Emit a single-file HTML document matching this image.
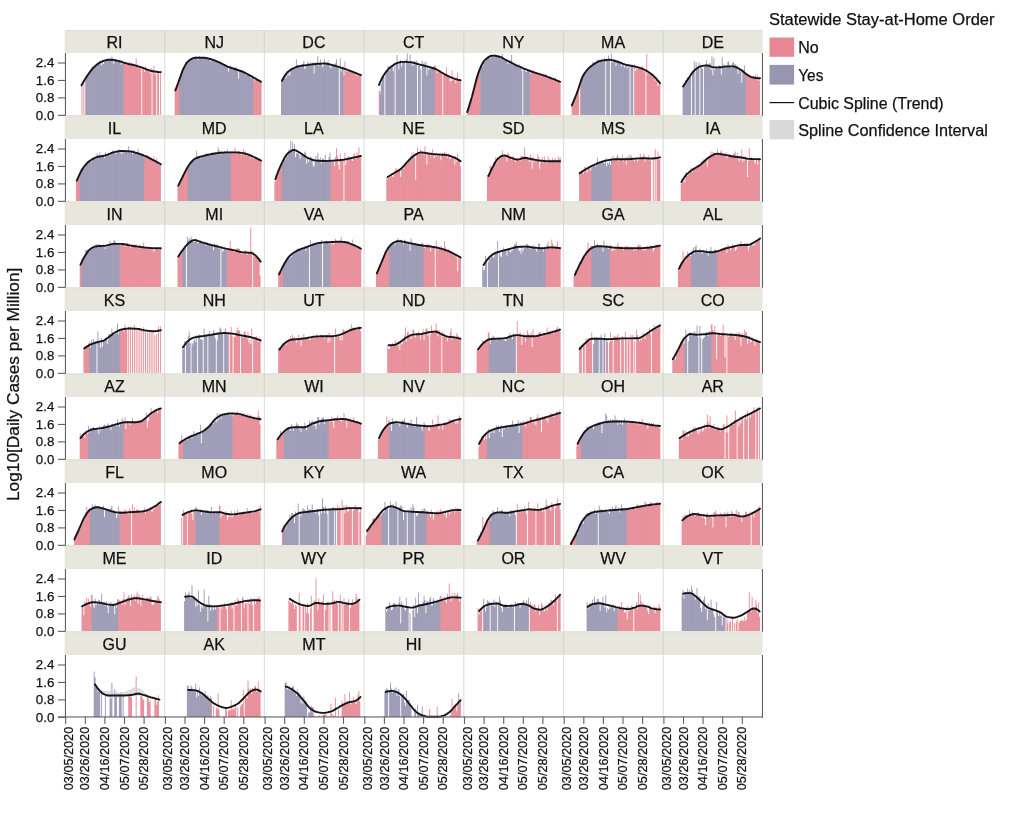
<!DOCTYPE html>
<html><head><meta charset="utf-8"><title>chart</title>
<style>html,body{margin:0;padding:0;background:#fff;}svg{display:block;will-change:transform;}</style></head>
<body>
<svg width="1024" height="816" viewBox="0 0 1024 816" font-family="Liberation Sans, sans-serif" stroke-linejoin="round">
<rect width="1024" height="816" fill="#ffffff"/>
<defs><pattern id="st0" patternUnits="userSpaceOnUse" x="65.700" y="0" width="2.8000" height="200"><rect x="-0.15" y="0" width="0.3" height="200" fill="#fff" fill-opacity="0.36"/><rect x="2.650" y="0" width="0.3" height="200" fill="#fff" fill-opacity="0.36"/><rect x="0.833" y="0" width="0.2" height="200" fill="#fff" fill-opacity="0.22"/><rect x="1.767" y="0" width="0.2" height="200" fill="#fff" fill-opacity="0.22"/></pattern><pattern id="st1" patternUnits="userSpaceOnUse" x="165.400" y="0" width="2.8000" height="200"><rect x="-0.15" y="0" width="0.3" height="200" fill="#fff" fill-opacity="0.36"/><rect x="2.650" y="0" width="0.3" height="200" fill="#fff" fill-opacity="0.36"/><rect x="0.833" y="0" width="0.2" height="200" fill="#fff" fill-opacity="0.22"/><rect x="1.767" y="0" width="0.2" height="200" fill="#fff" fill-opacity="0.22"/></pattern><pattern id="st2" patternUnits="userSpaceOnUse" x="265.100" y="0" width="2.8000" height="200"><rect x="-0.15" y="0" width="0.3" height="200" fill="#fff" fill-opacity="0.36"/><rect x="2.650" y="0" width="0.3" height="200" fill="#fff" fill-opacity="0.36"/><rect x="0.833" y="0" width="0.2" height="200" fill="#fff" fill-opacity="0.22"/><rect x="1.767" y="0" width="0.2" height="200" fill="#fff" fill-opacity="0.22"/></pattern><pattern id="st3" patternUnits="userSpaceOnUse" x="364.800" y="0" width="2.8000" height="200"><rect x="-0.15" y="0" width="0.3" height="200" fill="#fff" fill-opacity="0.36"/><rect x="2.650" y="0" width="0.3" height="200" fill="#fff" fill-opacity="0.36"/><rect x="0.833" y="0" width="0.2" height="200" fill="#fff" fill-opacity="0.22"/><rect x="1.767" y="0" width="0.2" height="200" fill="#fff" fill-opacity="0.22"/></pattern><pattern id="st4" patternUnits="userSpaceOnUse" x="464.500" y="0" width="2.8000" height="200"><rect x="-0.15" y="0" width="0.3" height="200" fill="#fff" fill-opacity="0.36"/><rect x="2.650" y="0" width="0.3" height="200" fill="#fff" fill-opacity="0.36"/><rect x="0.833" y="0" width="0.2" height="200" fill="#fff" fill-opacity="0.22"/><rect x="1.767" y="0" width="0.2" height="200" fill="#fff" fill-opacity="0.22"/></pattern><pattern id="st5" patternUnits="userSpaceOnUse" x="564.200" y="0" width="2.8000" height="200"><rect x="-0.15" y="0" width="0.3" height="200" fill="#fff" fill-opacity="0.36"/><rect x="2.650" y="0" width="0.3" height="200" fill="#fff" fill-opacity="0.36"/><rect x="0.833" y="0" width="0.2" height="200" fill="#fff" fill-opacity="0.22"/><rect x="1.767" y="0" width="0.2" height="200" fill="#fff" fill-opacity="0.22"/></pattern><pattern id="st6" patternUnits="userSpaceOnUse" x="663.900" y="0" width="2.8000" height="200"><rect x="-0.15" y="0" width="0.3" height="200" fill="#fff" fill-opacity="0.36"/><rect x="2.650" y="0" width="0.3" height="200" fill="#fff" fill-opacity="0.36"/><rect x="0.833" y="0" width="0.2" height="200" fill="#fff" fill-opacity="0.22"/><rect x="1.767" y="0" width="0.2" height="200" fill="#fff" fill-opacity="0.22"/></pattern></defs>
<rect x="64.6" y="30.05" width="697.9" height="22.85" fill="#e7e7de"/>
<rect x="64.6" y="30.05" width="697.9" height="1" fill="#dedfd6"/>
<rect x="64.6" y="115.35" width="697.9" height="23.55" fill="#e7e7de"/>
<rect x="64.6" y="115.35" width="697.9" height="1" fill="#dedfd6"/>
<rect x="64.6" y="201.35" width="697.9" height="23.55" fill="#e7e7de"/>
<rect x="64.6" y="201.35" width="697.9" height="1" fill="#dedfd6"/>
<rect x="64.6" y="287.35" width="697.9" height="23.55" fill="#e7e7de"/>
<rect x="64.6" y="287.35" width="697.9" height="1" fill="#dedfd6"/>
<rect x="64.6" y="373.35" width="697.9" height="23.55" fill="#e7e7de"/>
<rect x="64.6" y="373.35" width="697.9" height="1" fill="#dedfd6"/>
<rect x="64.6" y="459.35" width="697.9" height="23.55" fill="#e7e7de"/>
<rect x="64.6" y="459.35" width="697.9" height="1" fill="#dedfd6"/>
<rect x="64.6" y="545.35" width="697.9" height="23.55" fill="#e7e7de"/>
<rect x="64.6" y="545.35" width="697.9" height="1" fill="#dedfd6"/>
<rect x="64.6" y="631.35" width="697.9" height="23.55" fill="#e7e7de"/>
<rect x="64.6" y="631.35" width="697.9" height="1" fill="#dedfd6"/>
<rect x="164.1" y="30.0" width="1.2" height="688.0" fill="#dfe2e0"/>
<rect x="164.1" y="30.05" width="1.2" height="22.85" fill="#d8d8cf"/>
<rect x="164.1" y="115.35" width="1.2" height="23.55" fill="#d8d8cf"/>
<rect x="164.1" y="201.35" width="1.2" height="23.55" fill="#d8d8cf"/>
<rect x="164.1" y="287.35" width="1.2" height="23.55" fill="#d8d8cf"/>
<rect x="164.1" y="373.35" width="1.2" height="23.55" fill="#d8d8cf"/>
<rect x="164.1" y="459.35" width="1.2" height="23.55" fill="#d8d8cf"/>
<rect x="164.1" y="545.35" width="1.2" height="23.55" fill="#d8d8cf"/>
<rect x="164.1" y="631.35" width="1.2" height="23.55" fill="#d8d8cf"/>
<rect x="263.8" y="30.0" width="1.2" height="688.0" fill="#dfe2e0"/>
<rect x="263.8" y="30.05" width="1.2" height="22.85" fill="#d8d8cf"/>
<rect x="263.8" y="115.35" width="1.2" height="23.55" fill="#d8d8cf"/>
<rect x="263.8" y="201.35" width="1.2" height="23.55" fill="#d8d8cf"/>
<rect x="263.8" y="287.35" width="1.2" height="23.55" fill="#d8d8cf"/>
<rect x="263.8" y="373.35" width="1.2" height="23.55" fill="#d8d8cf"/>
<rect x="263.8" y="459.35" width="1.2" height="23.55" fill="#d8d8cf"/>
<rect x="263.8" y="545.35" width="1.2" height="23.55" fill="#d8d8cf"/>
<rect x="263.8" y="631.35" width="1.2" height="23.55" fill="#d8d8cf"/>
<rect x="363.5" y="30.0" width="1.2" height="688.0" fill="#dfe2e0"/>
<rect x="363.5" y="30.05" width="1.2" height="22.85" fill="#d8d8cf"/>
<rect x="363.5" y="115.35" width="1.2" height="23.55" fill="#d8d8cf"/>
<rect x="363.5" y="201.35" width="1.2" height="23.55" fill="#d8d8cf"/>
<rect x="363.5" y="287.35" width="1.2" height="23.55" fill="#d8d8cf"/>
<rect x="363.5" y="373.35" width="1.2" height="23.55" fill="#d8d8cf"/>
<rect x="363.5" y="459.35" width="1.2" height="23.55" fill="#d8d8cf"/>
<rect x="363.5" y="545.35" width="1.2" height="23.55" fill="#d8d8cf"/>
<rect x="363.5" y="631.35" width="1.2" height="23.55" fill="#d8d8cf"/>
<rect x="463.2" y="30.0" width="1.2" height="688.0" fill="#dfe2e0"/>
<rect x="463.2" y="30.05" width="1.2" height="22.85" fill="#d8d8cf"/>
<rect x="463.2" y="115.35" width="1.2" height="23.55" fill="#d8d8cf"/>
<rect x="463.2" y="201.35" width="1.2" height="23.55" fill="#d8d8cf"/>
<rect x="463.2" y="287.35" width="1.2" height="23.55" fill="#d8d8cf"/>
<rect x="463.2" y="373.35" width="1.2" height="23.55" fill="#d8d8cf"/>
<rect x="463.2" y="459.35" width="1.2" height="23.55" fill="#d8d8cf"/>
<rect x="463.2" y="545.35" width="1.2" height="23.55" fill="#d8d8cf"/>
<rect x="463.2" y="631.35" width="1.2" height="23.55" fill="#d8d8cf"/>
<rect x="562.9" y="30.0" width="1.2" height="688.0" fill="#dfe2e0"/>
<rect x="562.9" y="30.05" width="1.2" height="22.85" fill="#d8d8cf"/>
<rect x="562.9" y="115.35" width="1.2" height="23.55" fill="#d8d8cf"/>
<rect x="562.9" y="201.35" width="1.2" height="23.55" fill="#d8d8cf"/>
<rect x="562.9" y="287.35" width="1.2" height="23.55" fill="#d8d8cf"/>
<rect x="562.9" y="373.35" width="1.2" height="23.55" fill="#d8d8cf"/>
<rect x="562.9" y="459.35" width="1.2" height="23.55" fill="#d8d8cf"/>
<rect x="562.9" y="545.35" width="1.2" height="23.55" fill="#d8d8cf"/>
<rect x="562.9" y="631.35" width="1.2" height="23.55" fill="#d8d8cf"/>
<rect x="662.6" y="30.0" width="1.2" height="688.0" fill="#dfe2e0"/>
<rect x="662.6" y="30.05" width="1.2" height="22.85" fill="#d8d8cf"/>
<rect x="662.6" y="115.35" width="1.2" height="23.55" fill="#d8d8cf"/>
<rect x="662.6" y="201.35" width="1.2" height="23.55" fill="#d8d8cf"/>
<rect x="662.6" y="287.35" width="1.2" height="23.55" fill="#d8d8cf"/>
<rect x="662.6" y="373.35" width="1.2" height="23.55" fill="#d8d8cf"/>
<rect x="662.6" y="459.35" width="1.2" height="23.55" fill="#d8d8cf"/>
<rect x="662.6" y="545.35" width="1.2" height="23.55" fill="#d8d8cf"/>
<rect x="662.6" y="631.35" width="1.2" height="23.55" fill="#d8d8cf"/>
<g fill="#e68994"><path id="b00p" d="M81.57,115V84.1H82.50V115ZM83.43,115V79.9H84.37V115ZM122.87,115V62.9H124.50V63.0H125.43V63.3H126.37V62.7H127.30V64.6H128.23V62.7H129.17V61.8H130.10V64.7H131.03V62.7H131.97V64.4H132.90V64.3H133.83V65.3H134.77V65.1H135.70V58.2H136.63V66.2H137.57V64.4H138.50V68.2H139.43V66.6H140.37V68.6H141.30V115ZM142.23,115V69.2H143.17V66.5H144.10V71.7H145.03V66.4H145.97V69.4H146.90V69.8H147.83V69.0H148.77V71.2H149.70V73.6H150.63V67.8H151.57V115ZM152.50,115V69.7H153.43V65.4H154.37V74.2H155.30V73.5H156.23V115ZM157.17,115V71.8H158.10V72.0H159.03V115ZM159.97,115V71.5H160.90V115Z"/></g><use href="#b00p" fill="url(#st0)"/>
<g fill="#9996b2"><path id="b00u" d="M85.30,115V77.8H86.23V75.3H87.17V75.6H88.10V74.0H89.03V73.0H89.97V71.7H90.90V69.3H91.83V66.4H92.77V66.6H93.70V67.6H94.63V66.7H95.57V66.4H96.50V63.0H97.43V63.6H98.37V62.3H99.30V62.8H100.23V61.5H101.17V65.7H102.10V59.5H103.03V64.1H103.97V61.4H104.90V59.4H105.83V61.5H106.77V60.3H107.70V60.4H108.63V59.1H109.57V58.8H110.50V59.2H111.43V56.4H112.37V60.1H113.30V63.8H114.23V60.1H115.17V60.3H116.10V58.7H117.03V61.3H117.97V61.5H118.90V62.1H119.83V62.0H120.77V64.7H121.70V60.4H122.63V62.9H123.57V115Z"/></g><use href="#b00u" fill="url(#st0)"/>
<path d="M81.5,85.3L82.9,82.8L84.2,80.5L85.6,78.3L86.9,76.3L88.3,74.3L89.6,72.4L90.9,70.6L92.3,69.0L93.6,67.6L95.0,66.3L96.3,65.0L97.7,63.9L99.0,62.9L100.4,62.2L101.7,61.6L103.1,61.1L104.4,60.7L105.7,60.3L107.1,60.0L108.4,59.8L109.8,59.6L111.1,59.7L112.5,59.8L113.8,60.0L115.2,60.3L116.5,60.6L117.9,60.9L119.2,61.2L120.5,61.5L121.9,61.9L123.2,62.4L124.6,62.8L125.9,63.2L127.3,63.6L128.6,64.0L130.0,64.3L131.3,64.5L132.6,64.8L134.0,65.1L135.3,65.4L136.7,65.8L138.0,66.3L139.4,66.7L140.7,67.2L142.1,67.7L143.4,68.2L144.8,68.7L146.1,69.2L147.4,69.7L148.8,70.2L150.1,70.6L151.5,71.0L152.8,71.2L154.2,71.4L155.5,71.7L156.9,71.8L158.2,72.0L159.6,72.1L160.9,72.1" stroke="#15151a" stroke-width="1.9" fill="none" stroke-linejoin="round" stroke-linecap="round"/>
<g fill="#e68994"><path id="b01p" d="M174.73,115V92.3H175.67V88.3H176.60V86.5H177.53V83.1H178.47V82.9H180.10V115ZM252.43,115V77.3H254.07V80.5H255.00V77.9H255.93V78.1H256.87V79.2H257.80V80.1H258.73V81.7H259.67V82.1H260.60V82.1H261.53V115Z"/></g><use href="#b01p" fill="url(#st1)"/>
<g fill="#9996b2"><path id="b01u" d="M179.40,115V77.0H180.33V74.3H181.27V71.6H182.20V68.1H183.13V67.3H184.07V66.7H185.00V62.0H185.93V62.7H186.87V63.2H187.80V59.8H188.73V60.6H189.67V60.7H190.60V58.7H191.53V59.7H192.47V58.2H193.40V58.1H194.33V57.9H195.27V56.2H196.20V57.5H197.13V59.6H198.07V59.4H199.00V55.9H199.93V58.5H200.87V56.9H201.80V58.0H202.73V58.5H203.67V57.4H204.60V57.9H205.53V58.1H206.47V58.5H207.40V59.1H208.33V58.2H209.27V59.6H210.20V61.4H211.13V59.9H212.07V58.8H213.00V59.9H213.93V59.4H214.87V61.0H215.80V60.8H216.73V60.8H217.67V62.9H218.60V61.9H219.53V62.7H220.47V64.1H221.40V63.9H222.33V63.4H223.27V65.6H224.20V65.6H225.13V66.3H226.07V65.2H227.00V67.0H227.93V71.5H228.87V67.2H229.80V65.5H230.73V66.8H231.67V66.4H232.60V68.4H233.53V69.6H234.47V68.0H235.40V66.8H236.33V69.1H237.27V71.4H238.20V78.7H239.13V70.6H240.07V70.9H241.00V71.7H241.93V70.0H242.87V71.5H243.80V70.8H244.73V72.6H245.67V74.8H246.60V74.5H247.53V73.7H248.47V75.5H249.40V74.9H250.33V78.0H251.27V75.1H252.20V76.0H253.13V115Z"/></g><use href="#b01u" fill="url(#st1)"/>
<path d="M175.3,90.6L176.7,86.8L178.2,82.9L179.6,78.9L181.1,74.6L182.5,70.7L184.0,67.6L185.4,64.9L186.9,62.6L188.3,61.2L189.8,60.1L191.2,59.1L192.7,58.4L194.1,57.9L195.6,57.8L197.0,57.8L198.5,57.8L200.0,57.8L201.4,57.8L202.9,57.8L204.3,57.8L205.8,58.0L207.2,58.2L208.7,58.6L210.1,59.0L211.6,59.4L213.0,59.8L214.5,60.3L215.9,60.9L217.4,61.6L218.8,62.2L220.3,62.9L221.7,63.6L223.2,64.4L224.7,65.1L226.1,65.9L227.6,66.6L229.0,67.1L230.5,67.6L231.9,68.1L233.4,68.5L234.8,69.0L236.3,69.5L237.7,70.0L239.2,70.5L240.6,71.0L242.1,71.5L243.5,72.1L245.0,72.8L246.4,73.5L247.9,74.3L249.4,75.1L250.8,75.9L252.3,76.8L253.7,77.6L255.2,78.4L256.6,79.3L258.1,80.1L259.5,80.9L261.0,81.8" stroke="#15151a" stroke-width="1.9" fill="none" stroke-linejoin="round" stroke-linecap="round"/>
<g fill="#e68994"><path id="b02p" d="M342.80,115V75.6H344.43V61.3H345.37V71.0H346.30V71.3H347.23V71.8H348.17V70.0H349.10V69.7H350.03V71.1H350.97V71.4H351.90V71.5H352.83V72.8H353.77V72.5H354.70V72.7H355.63V75.5H356.57V75.7H357.50V73.6H358.43V75.6H359.37V73.6H360.30V76.3H361.23V115Z"/></g><use href="#b02p" fill="url(#st2)"/>
<g fill="#9996b2"><path id="b02u" d="M280.97,115V79.6H281.90V81.3H282.83V78.2H283.77V75.8H284.70V72.8H285.63V78.2H286.57V71.0H287.50V75.7H288.43V72.6H289.37V75.6H290.30V71.0H291.23V68.2H292.17V68.3H293.10V68.1H294.03V67.8H294.97V66.5H295.90V59.2H296.83V65.0H297.77V66.4H298.70V66.9H299.63V66.2H300.57V67.6H301.50V64.5H302.43V63.7H303.37V61.0H304.30V68.9H305.23V67.8H306.17V65.9H307.10V62.6H308.03V62.4H308.97V66.1H309.90V62.5H310.83V66.2H311.77V64.9H312.70V62.3H313.63V73.6H314.57V65.0H315.50V62.6H316.43V62.5H317.37V56.2H318.30V66.2H319.23V63.8H320.17V59.2H321.10V65.1H322.03V67.2H322.97V65.8H323.90V59.2H324.83V62.2H325.77V63.7H326.70V64.0H327.63V60.6H328.57V64.1H329.50V66.7H330.43V68.8H331.37V65.0H332.30V64.6H333.23V64.4H334.17V65.0H335.10V62.9H336.03V59.2H336.97V66.7H337.90V66.7H338.83V115ZM339.77,115V58.2H340.70V71.5H341.63V67.7H342.57V66.5H343.50V115Z"/></g><use href="#b02u" fill="url(#st2)"/>
<path d="M282.0,80.8L283.3,78.3L284.6,76.1L286.0,74.1L287.3,72.5L288.7,71.3L290.0,70.3L291.3,69.4L292.7,68.6L294.0,68.0L295.4,67.4L296.7,66.9L298.0,66.5L299.4,66.1L300.7,65.9L302.0,65.7L303.4,65.5L304.7,65.4L306.1,65.2L307.4,65.1L308.7,64.9L310.1,64.7L311.4,64.5L312.7,64.3L314.1,64.2L315.4,64.0L316.8,63.9L318.1,63.8L319.4,63.7L320.8,63.7L322.1,63.6L323.5,63.5L324.8,63.5L326.1,63.6L327.5,63.8L328.8,64.1L330.1,64.5L331.5,64.8L332.8,65.2L334.2,65.5L335.5,65.9L336.8,66.3L338.2,66.7L339.5,67.1L340.9,67.6L342.2,68.0L343.5,68.5L344.9,68.9L346.2,69.4L347.5,69.9L348.9,70.4L350.2,70.9L351.6,71.4L352.9,71.9L354.2,72.4L355.6,73.0L356.9,73.5L358.2,74.1L359.6,74.6L360.9,75.2" stroke="#15151a" stroke-width="1.9" fill="none" stroke-linejoin="round" stroke-linecap="round"/>
<g fill="#e68994"><path id="b03p" d="M378.80,115V91.1H380.43V115ZM434.10,115V65.2H435.73V70.2H436.67V73.3H437.60V70.4H438.53V70.7H439.47V71.7H440.40V71.0H441.33V73.1H442.27V115ZM443.20,115V73.7H444.13V74.5H445.07V74.2H446.00V67.4H446.93V74.7H447.87V75.1H448.80V76.6H449.73V81.6H450.67V81.1H451.60V70.5H452.53V80.2H453.47V78.5H454.40V79.6H455.33V83.6H456.27V77.6H457.20V72.6H458.13V80.3H459.07V81.9H460.00V78.7H460.93V115Z"/></g><use href="#b03p" fill="url(#st3)"/>
<g fill="#9996b2"><path id="b03u" d="M379.73,115V94.1H380.67V84.3H381.60V77.1H382.53V76.3H383.47V76.9H384.40V115ZM385.33,115V70.4H386.27V72.8H387.20V66.5H388.13V66.6H389.07V70.8H390.00V67.9H390.93V66.1H391.87V65.0H392.80V71.2H393.73V63.8H394.67V115ZM395.60,115V63.7H396.53V55.1H397.47V63.7H398.40V69.5H399.33V62.3H400.27V60.1H401.20V66.4H402.13V62.5H403.07V61.9H404.00V60.4H404.93V115ZM405.87,115V59.2H406.80V53.5H407.73V63.1H408.67V63.4H409.60V54.5H410.53V63.6H411.47V65.7H412.40V63.8H413.33V65.6H414.27V61.0H415.20V62.6H416.13V60.6H417.07V115ZM418.00,115V65.7H418.93V64.5H419.87V69.3H420.80V115ZM421.73,115V60.6H422.67V63.9H423.60V62.4H424.53V66.0H425.47V61.6H426.40V75.6H427.33V66.9H428.27V70.2H429.20V67.9H430.13V68.1H431.07V68.0H432.00V68.2H432.93V67.3H433.87V67.3H434.80V115Z"/></g><use href="#b03u" fill="url(#st3)"/>
<path d="M379.0,84.9L380.4,81.7L381.7,78.8L383.1,76.2L384.5,74.0L385.9,72.1L387.3,70.4L388.7,68.9L390.0,67.6L391.4,66.5L392.8,65.4L394.2,64.4L395.6,63.7L397.0,63.1L398.3,62.7L399.7,62.3L401.1,62.0L402.5,61.9L403.9,61.9L405.3,61.9L406.6,62.0L408.0,62.1L409.4,62.2L410.8,62.3L412.2,62.5L413.6,62.8L414.9,63.2L416.3,63.6L417.7,64.0L419.1,64.4L420.5,64.7L421.9,65.1L423.2,65.4L424.6,65.7L426.0,66.1L427.4,66.5L428.8,66.8L430.2,67.2L431.5,67.6L432.9,68.0L434.3,68.5L435.7,69.0L437.1,69.7L438.5,70.5L439.8,71.3L441.2,72.2L442.6,73.0L444.0,73.8L445.4,74.6L446.8,75.3L448.1,76.0L449.5,76.7L450.9,77.3L452.3,77.9L453.7,78.4L455.1,78.9L456.4,79.3L457.8,79.7L459.2,80.0L460.6,80.4" stroke="#15151a" stroke-width="1.9" fill="none" stroke-linejoin="round" stroke-linecap="round"/>
<g fill="#e68994"><path id="b04p" d="M467.30,115V110.2H468.23V107.8H469.17V105.4H470.10V101.4H471.03V96.8H471.97V95.2H472.90V91.7H473.83V89.3H474.77V84.5H475.70V77.8H476.63V74.6H477.57V75.0H478.50V72.1H479.43V69.2H481.07V115ZM529.13,115V73.7H530.77V71.9H531.70V71.9H532.63V72.1H533.57V70.5H534.50V72.3H535.43V72.7H536.37V73.7H537.30V72.9H538.23V73.5H539.17V73.1H540.10V75.4H541.03V75.3H541.97V74.6H542.90V75.2H543.83V75.1H544.77V73.5H545.70V75.1H546.63V78.2H547.57V77.0H548.50V78.0H549.43V78.2H550.37V78.2H551.30V78.7H552.23V78.5H553.17V79.2H554.10V80.3H555.03V77.6H555.97V80.4H556.90V81.3H557.83V81.2H558.77V81.9H559.70V83.8H560.63V115Z"/></g><use href="#b04p" fill="url(#st4)"/>
<g fill="#9996b2"><path id="b04u" d="M480.37,115V65.1H481.30V67.1H482.23V66.2H483.17V61.1H484.10V60.3H485.03V61.6H485.97V58.7H486.90V56.4H487.83V57.8H488.77V56.7H489.70V58.6H490.63V55.6H491.57V56.0H492.50V55.3H493.43V56.1H494.37V54.6H495.30V55.6H496.23V55.7H497.17V55.5H498.10V55.9H499.03V55.8H499.97V58.7H500.90V56.1H501.83V53.7H502.77V58.7H503.70V58.5H504.63V59.7H505.57V59.5H506.50V59.5H507.43V64.0H508.37V62.4H509.30V63.4H510.23V60.2H511.17V55.1H512.10V62.8H513.03V63.5H513.97V63.8H514.90V64.7H515.83V65.5H516.77V65.6H517.70V65.8H518.63V64.3H519.57V67.8H520.50V67.2H521.43V70.6H522.37V115ZM523.30,115V68.0H524.23V69.6H525.17V71.5H526.10V72.0H527.03V70.3H527.97V70.3H528.90V70.8H529.83V115Z"/></g><use href="#b04u" fill="url(#st4)"/>
<path d="M467.2,112.1L468.8,107.1L470.4,101.9L472.0,96.5L473.5,90.8L475.1,84.5L476.7,78.4L478.3,73.2L479.8,69.2L481.4,65.5L483.0,62.5L484.5,60.4L486.1,59.0L487.7,57.7L489.3,56.6L490.8,55.9L492.4,55.6L494.0,55.6L495.6,55.8L497.1,56.1L498.7,56.5L500.3,57.0L501.9,57.7L503.4,58.5L505.0,59.5L506.6,60.3L508.2,61.1L509.7,61.9L511.3,62.7L512.9,63.5L514.5,64.3L516.0,65.1L517.6,65.8L519.2,66.5L520.8,67.2L522.3,67.9L523.9,68.6L525.5,69.2L527.1,69.8L528.6,70.4L530.2,71.0L531.8,71.5L533.4,72.1L534.9,72.6L536.5,73.1L538.1,73.6L539.7,74.1L541.2,74.6L542.8,75.1L544.4,75.7L546.0,76.2L547.5,76.8L549.1,77.4L550.7,78.0L552.3,78.6L553.8,79.2L555.4,79.8L557.0,80.5L558.6,81.1L560.1,81.8" stroke="#15151a" stroke-width="1.9" fill="none" stroke-linejoin="round" stroke-linecap="round"/>
<g fill="#e68994"><path id="b05p" d="M571.67,115V105.0H572.60V103.8H573.53V98.4H574.47V99.2H575.40V96.8H576.33V93.1H577.27V91.9H578.20V87.4H579.13V115ZM580.07,115V79.1H581.70V115ZM634.20,115V64.2H635.13V71.0H636.07V68.2H637.00V69.1H637.93V67.5H638.87V67.6H639.80V68.5H640.73V68.9H641.67V66.1H642.60V67.6H643.53V71.6H644.47V70.6H645.40V115ZM646.33,115V54.1H647.27V73.5H648.20V72.2H649.13V74.3H650.07V73.8H651.00V73.2H651.93V76.4H652.87V75.5H653.80V75.8H654.73V80.8H655.67V77.3H656.60V78.7H657.53V85.9H658.47V83.5H659.40V82.5H660.33V115Z"/></g><use href="#b05p" fill="url(#st5)"/>
<g fill="#9996b2"><path id="b05u" d="M581.00,115V78.6H581.93V77.1H582.87V74.6H583.80V72.8H584.73V72.0H585.67V71.3H586.60V69.3H587.53V69.3H588.47V67.6H589.40V67.1H590.33V66.9H591.27V65.5H592.20V62.2H593.13V62.5H594.07V63.7H595.00V62.5H595.93V63.5H596.87V60.1H597.80V59.6H598.73V63.2H599.67V61.2H600.60V61.5H601.53V58.7H602.47V60.6H603.40V60.8H604.33V58.0H605.27V115ZM606.20,115V59.3H607.13V59.2H608.07V55.4H609.00V58.8H609.93V115ZM610.87,115V53.5H611.80V62.4H612.73V61.5H613.67V59.5H614.60V60.1H615.53V66.0H616.47V62.1H617.40V60.6H618.33V60.4H619.27V63.3H620.20V64.0H621.13V66.5H622.07V62.3H623.00V63.6H623.93V67.4H624.87V63.9H625.80V64.4H626.73V68.4H627.67V65.0H628.60V66.6H629.53V115ZM630.47,115V65.8H631.40V65.1H632.33V65.0H633.27V115Z"/></g><use href="#b05u" fill="url(#st5)"/>
<path d="M571.8,105.4L573.3,102.0L574.8,98.4L576.3,94.7L577.8,90.7L579.3,86.0L580.8,81.3L582.3,77.3L583.8,74.5L585.3,72.3L586.8,70.3L588.3,68.7L589.8,67.2L591.2,66.0L592.7,65.0L594.2,63.9L595.7,63.0L597.2,62.2L598.7,61.5L600.2,61.0L601.7,60.6L603.2,60.4L604.7,60.2L606.2,60.0L607.7,59.9L609.2,59.8L610.7,59.9L612.2,60.1L613.7,60.5L615.2,61.0L616.7,61.5L618.2,62.0L619.6,62.4L621.1,63.0L622.6,63.6L624.1,64.1L625.6,64.6L627.1,65.0L628.6,65.3L630.1,65.6L631.6,65.8L633.1,66.1L634.6,66.5L636.1,66.8L637.6,67.2L639.1,67.7L640.6,68.1L642.1,68.7L643.6,69.3L645.1,70.0L646.6,70.8L648.0,71.7L649.5,72.7L651.0,73.8L652.5,75.0L654.0,76.4L655.5,77.9L657.0,79.6L658.5,81.3L660.0,83.2" stroke="#15151a" stroke-width="1.9" fill="none" stroke-linejoin="round" stroke-linecap="round"/>
<g fill="#e68994"><path id="b06p" d="M745.33,115V75.0H746.97V74.8H747.90V74.5H748.83V75.3H749.77V76.1H750.70V77.0H751.63V78.2H752.57V76.1H753.50V76.8H754.43V76.8H755.37V74.3H756.30V78.0H757.23V75.3H758.17V81.1H759.10V78.0H760.03V115Z"/></g><use href="#b06p" fill="url(#st6)"/>
<g fill="#9996b2"><path id="b06u" d="M682.57,115V85.9H683.50V86.1H684.43V82.8H685.37V79.9H686.30V82.1H687.23V77.3H688.17V77.7H689.10V78.5H690.03V77.1H690.97V115ZM691.90,115V71.0H692.83V69.7H693.77V61.3H694.70V115ZM695.63,115V62.3H696.57V69.0H697.50V65.9H698.43V62.6H699.37V115ZM700.30,115V64.4H701.23V68.3H702.17V68.8H703.10V115ZM704.03,115V66.8H704.97V64.9H705.90V60.3H706.83V66.1H707.77V66.5H708.70V63.7H709.63V63.0H710.57V70.1H711.50V56.2H712.43V75.6H713.37V58.2H714.30V69.9H715.23V67.6H716.17V66.5H717.10V68.4H718.03V66.5H718.97V65.5H719.90V67.5H720.83V74.6H721.77V57.2H722.70V65.5H723.63V64.3H724.57V68.5H725.50V67.3H726.43V66.6H727.37V61.9H728.30V61.3H729.23V66.6H730.17V67.0H731.10V67.9H732.03V63.1H732.97V61.9H733.90V65.6H734.83V64.1H735.77V65.9H736.70V65.3H737.63V74.0H738.57V68.8H739.50V70.1H740.43V72.1H741.37V82.8H742.30V71.4H743.23V69.4H744.17V65.4H745.10V73.1H746.03V115Z"/></g><use href="#b06u" fill="url(#st6)"/>
<path d="M683.1,86.5L684.4,84.4L685.7,82.4L687.0,80.5L688.3,78.6L689.6,76.7L690.9,74.7L692.2,72.9L693.5,71.4L694.8,70.1L696.1,69.0L697.4,68.0L698.7,67.2L700.0,66.6L701.3,66.2L702.6,65.9L703.9,65.6L705.2,65.5L706.5,65.4L707.8,65.5L709.1,65.8L710.4,66.3L711.7,66.8L713.0,67.2L714.3,67.4L715.6,67.4L716.9,67.4L718.3,67.4L719.6,67.3L720.9,67.2L722.2,67.1L723.5,66.9L724.8,66.6L726.1,66.5L727.4,66.4L728.7,66.4L730.0,66.4L731.3,66.4L732.6,66.4L733.9,66.4L735.2,66.8L736.5,67.3L737.8,68.0L739.1,68.7L740.4,69.5L741.7,70.4L743.0,71.5L744.3,72.6L745.6,73.6L746.9,74.5L748.2,75.4L749.5,76.1L750.8,76.8L752.1,77.2L753.4,77.5L754.7,77.7L756.1,78.0L757.4,78.1L758.7,78.3L760.0,78.3" stroke="#15151a" stroke-width="1.9" fill="none" stroke-linejoin="round" stroke-linecap="round"/>
<g fill="#e68994"><path id="b10p" d="M75.97,201V180.0H76.90V180.4H77.83V177.9H78.77V175.2H80.40V201ZM143.40,201V155.0H145.03V155.5H145.97V155.6H146.90V155.1H147.83V156.5H148.77V158.2H149.70V157.8H150.63V157.8H151.57V159.3H152.50V159.7H153.43V156.5H154.37V161.5H155.30V161.1H156.23V158.4H157.17V162.6H158.10V162.1H159.03V164.8H159.97V164.7H160.90V201Z"/></g><use href="#b10p" fill="url(#st0)"/>
<g fill="#9996b2"><path id="b10u" d="M79.70,201V171.9H80.63V169.6H81.57V168.5H82.50V169.0H83.43V165.7H84.37V167.6H85.30V165.5H86.23V162.5H87.17V162.0H88.10V160.7H89.03V160.8H89.97V160.1H90.90V161.5H91.83V158.1H92.77V158.1H93.70V157.6H94.63V158.3H95.57V158.5H96.50V153.4H97.43V155.1H98.37V156.0H99.30V152.4H100.23V156.0H101.17V156.0H102.10V155.1H103.03V155.0H103.97V158.0H104.90V152.2H105.83V156.0H106.77V155.4H107.70V153.2H108.63V152.9H109.57V155.8H110.50V153.1H111.43V153.7H112.37V150.2H113.30V152.6H114.23V151.5H115.17V154.2H116.10V150.9H117.03V152.3H117.97V150.6H118.90V149.3H119.83V152.0H120.77V154.2H121.70V151.0H122.63V152.7H123.57V150.7H124.50V151.9H125.43V150.7H126.37V150.5H127.30V152.6H128.23V146.3H129.17V151.9H130.10V152.4H131.03V152.0H131.97V154.3H132.90V150.6H133.83V150.4H134.77V151.9H135.70V153.7H136.63V154.7H137.57V148.7H138.50V152.9H139.43V152.6H140.37V154.8H141.30V155.9H142.23V153.6H143.17V157.7H144.10V201Z"/></g><use href="#b10u" fill="url(#st0)"/>
<path d="M76.8,180.7L78.2,177.3L79.7,174.1L81.1,171.3L82.5,168.9L83.9,166.8L85.4,165.0L86.8,163.4L88.2,162.0L89.6,160.9L91.1,160.0L92.5,159.1L93.9,158.3L95.3,157.7L96.8,157.2L98.2,156.8L99.6,156.5L101.0,156.3L102.5,156.0L103.9,155.8L105.3,155.4L106.7,155.0L108.2,154.4L109.6,153.8L111.0,153.2L112.4,152.6L113.9,152.3L115.3,151.9L116.7,151.6L118.1,151.3L119.6,151.1L121.0,151.0L122.4,151.0L123.8,151.0L125.3,151.1L126.7,151.2L128.1,151.3L129.5,151.4L131.0,151.5L132.4,151.8L133.8,152.2L135.2,152.6L136.7,153.0L138.1,153.5L139.5,153.9L140.9,154.4L142.4,155.0L143.8,155.5L145.2,156.1L146.6,156.7L148.1,157.4L149.5,158.1L150.9,158.8L152.3,159.6L153.8,160.3L155.2,161.1L156.6,161.9L158.0,162.6L159.5,163.5L160.9,164.3" stroke="#15151a" stroke-width="1.9" fill="none" stroke-linejoin="round" stroke-linecap="round"/>
<g fill="#e68994"><path id="b11p" d="M177.53,201V185.4H178.47V185.6H179.40V182.0H180.33V179.9H181.27V178.6H182.20V176.0H183.13V173.9H184.07V172.8H185.00V172.0H185.93V170.4H186.87V167.9H188.50V201ZM230.03,201V152.8H231.67V150.8H232.60V152.3H233.53V152.6H234.47V147.3H235.40V152.7H236.33V151.9H237.27V152.9H238.20V151.7H239.13V153.1H240.07V152.3H241.00V154.9H241.93V154.1H242.87V149.3H243.80V152.3H244.73V151.2H245.67V154.3H246.60V155.4H247.53V154.8H248.47V153.8H249.40V156.0H250.33V158.4H251.27V156.5H252.20V156.3H253.13V158.8H254.07V157.4H255.00V157.4H255.93V158.3H256.87V158.8H257.80V160.0H258.73V158.9H259.67V159.1H260.60V161.1H261.53V201Z"/></g><use href="#b11p" fill="url(#st1)"/>
<g fill="#9996b2"><path id="b11u" d="M187.80,201V165.7H188.73V164.9H189.67V162.7H190.60V161.7H191.53V160.6H192.47V159.7H193.40V160.9H194.33V158.3H195.27V157.7H196.20V150.4H197.13V157.3H198.07V158.1H199.00V156.5H199.93V158.5H200.87V155.6H201.80V155.9H202.73V156.7H203.67V155.7H204.60V155.8H205.53V153.9H206.47V153.2H207.40V153.5H208.33V153.7H209.27V154.2H210.20V155.7H211.13V154.1H212.07V152.0H213.00V154.2H213.93V154.3H214.87V152.7H215.80V154.4H216.73V152.8H217.67V147.3H218.60V150.1H219.53V152.6H220.47V154.7H221.40V151.1H222.33V152.5H223.27V153.1H224.20V151.0H225.13V152.2H226.07V152.4H227.00V149.7H227.93V152.8H228.87V151.8H229.80V151.6H230.73V201Z"/></g><use href="#b11u" fill="url(#st1)"/>
<path d="M178.3,185.6L179.7,182.7L181.1,179.8L182.5,177.0L183.9,174.2L185.3,171.4L186.7,168.7L188.1,166.3L189.5,164.3L190.9,162.5L192.3,161.0L193.7,159.6L195.1,158.7L196.5,158.0L197.9,157.5L199.3,157.0L200.7,156.6L202.1,156.3L203.5,155.9L204.9,155.5L206.3,155.2L207.7,154.9L209.1,154.6L210.5,154.3L211.9,154.0L213.3,153.8L214.8,153.5L216.2,153.3L217.6,153.1L219.0,152.9L220.4,152.8L221.8,152.7L223.2,152.6L224.6,152.5L226.0,152.4L227.4,152.4L228.8,152.4L230.2,152.4L231.6,152.4L233.0,152.4L234.4,152.4L235.8,152.4L237.2,152.4L238.6,152.5L240.0,152.7L241.4,152.9L242.8,153.1L244.2,153.4L245.6,153.7L247.0,154.1L248.4,154.6L249.8,155.2L251.2,155.8L252.6,156.4L254.0,157.0L255.4,157.7L256.8,158.4L258.2,159.1L259.6,159.8L261.0,160.6" stroke="#15151a" stroke-width="1.9" fill="none" stroke-linejoin="round" stroke-linecap="round"/>
<g fill="#e68994"><path id="b12p" d="M274.43,201V181.5H275.37V174.7H276.30V176.4H277.23V172.1H278.17V170.9H279.10V169.3H280.03V167.8H280.97V164.4H282.60V201ZM329.73,201V160.2H331.37V162.5H332.30V161.1H333.23V162.1H334.17V166.2H335.10V157.0H336.03V148.3H336.97V155.8H337.90V164.8H338.83V169.8H339.77V153.4H340.70V160.0H341.63V159.9H342.57V160.5H343.50V201ZM344.43,201V152.4H345.37V164.8H346.30V159.8H347.23V159.7H348.17V156.1H349.10V159.2H350.03V158.1H350.97V159.3H351.90V161.0H352.83V155.6H353.77V153.0H354.70V158.8H355.63V159.0H356.57V152.4H357.50V155.8H358.43V147.3H359.37V156.7H360.30V155.2H361.23V201Z"/></g><use href="#b12p" fill="url(#st2)"/>
<g fill="#9996b2"><path id="b12u" d="M281.90,201V162.1H282.83V162.6H283.77V158.6H284.70V159.5H285.63V154.3H286.57V156.7H287.50V152.2H288.43V149.2H289.37V150.5H290.30V140.5H291.23V151.0H292.17V142.2H293.10V149.6H294.03V144.2H294.97V157.2H295.90V153.6H296.83V153.6H297.77V151.1H298.70V154.7H299.63V158.8H300.57V153.4H301.50V155.6H302.43V155.0H303.37V154.9H304.30V151.6H305.23V152.7H306.17V163.7H307.10V156.9H308.03V161.9H308.97V159.6H309.90V156.7H310.83V157.4H311.77V159.8H312.70V165.5H313.63V166.8H314.57V160.4H315.50V156.1H316.43V162.0H317.37V152.8H318.30V158.8H319.23V161.7H320.17V157.3H321.10V163.5H322.03V158.5H322.97V158.8H323.90V162.8H324.83V154.9H325.77V160.5H326.70V161.9H327.63V161.6H328.57V156.9H329.50V152.4H330.43V201Z"/></g><use href="#b12u" fill="url(#st2)"/>
<path d="M275.4,179.1L276.9,175.0L278.3,171.1L279.8,167.6L281.2,164.4L282.7,161.5L284.1,158.6L285.6,156.1L287.0,154.1L288.5,152.8L289.9,151.7L291.4,150.7L292.8,150.1L294.2,150.0L295.7,150.4L297.1,151.1L298.6,152.0L300.0,152.8L301.5,153.7L302.9,154.7L304.4,155.8L305.8,156.8L307.3,157.7L308.7,158.4L310.2,158.9L311.6,159.5L313.1,160.0L314.5,160.3L316.0,160.6L317.4,160.7L318.9,160.8L320.3,160.9L321.8,161.0L323.2,161.0L324.7,161.0L326.1,161.0L327.6,160.9L329.0,160.9L330.5,160.8L331.9,160.7L333.4,160.6L334.8,160.5L336.3,160.4L337.7,160.3L339.2,160.2L340.6,160.0L342.1,159.9L343.5,159.7L345.0,159.4L346.4,159.1L347.9,158.8L349.3,158.5L350.8,158.2L352.2,157.9L353.7,157.6L355.1,157.3L356.6,157.0L358.0,156.6L359.5,156.3L360.9,155.9" stroke="#15151a" stroke-width="1.9" fill="none" stroke-linejoin="round" stroke-linecap="round"/>
<g fill="#e68994"><path id="b13p" d="M386.27,201V177.8H387.20V179.1H388.13V176.5H389.07V177.8H390.00V177.1H390.93V173.5H391.87V176.6H392.80V176.8H393.73V174.3H394.67V170.3H395.60V168.1H396.53V169.7H397.47V172.0H398.40V171.1H399.33V168.5H400.27V177.0H401.20V166.4H402.13V165.9H403.07V169.0H404.00V165.6H404.93V164.4H405.87V163.1H406.80V163.5H407.73V160.0H408.67V159.9H409.60V157.9H410.53V156.6H411.47V152.4H412.40V157.6H413.33V152.6H414.27V157.7H415.20V180.1H416.13V154.0H417.07V147.3H418.00V154.5H418.93V153.9H419.87V148.9H420.80V154.4H421.73V153.1H422.67V152.6H423.60V154.5H424.53V146.3H425.47V152.4H426.40V164.7H427.33V153.3H428.27V154.5H429.20V153.8H430.13V156.1H431.07V153.0H432.00V149.3H432.93V154.5H433.87V158.1H434.80V154.0H435.73V156.5H436.67V154.4H437.60V156.6H438.53V154.2H439.47V153.3H440.40V160.2H441.33V154.1H442.27V153.2H443.20V155.4H444.13V151.8H445.07V156.1H446.00V153.2H446.93V158.1H447.87V153.3H448.80V156.2H449.73V159.2H450.67V157.5H451.60V156.4H452.53V156.8H453.47V157.5H454.40V164.8H455.33V156.0H456.27V161.6H457.20V153.4H458.13V159.3H459.07V160.7H460.00V166.2H460.93V201Z"/></g><use href="#b13p" fill="url(#st3)"/>
<path d="M387.6,177.0L388.8,176.3L390.1,175.5L391.3,174.8L392.5,174.0L393.8,173.3L395.0,172.5L396.2,171.8L397.5,171.2L398.7,170.4L400.0,169.6L401.2,168.6L402.4,167.4L403.7,166.0L404.9,164.6L406.1,163.2L407.4,161.9L408.6,160.5L409.9,159.2L411.1,157.9L412.3,156.9L413.6,156.0L414.8,155.1L416.0,154.3L417.3,153.6L418.5,153.0L419.8,152.6L421.0,152.4L422.2,152.5L423.5,152.6L424.7,152.8L425.9,153.1L427.2,153.3L428.4,153.5L429.7,153.7L430.9,153.8L432.1,154.0L433.4,154.1L434.6,154.2L435.8,154.3L437.1,154.4L438.3,154.5L439.6,154.6L440.8,154.6L442.0,154.7L443.3,154.7L444.5,154.8L445.7,154.9L447.0,155.1L448.2,155.4L449.5,155.7L450.7,156.1L451.9,156.6L453.2,157.0L454.4,157.6L455.6,158.2L456.9,158.9L458.1,159.6L459.4,160.4L460.6,161.2" stroke="#15151a" stroke-width="1.9" fill="none" stroke-linejoin="round" stroke-linecap="round"/>
<g fill="#e68994"><path id="b14p" d="M486.90,201V175.1H487.83V176.9H488.77V175.4H489.70V165.7H490.63V167.5H491.57V165.9H492.50V166.4H493.43V161.8H494.37V163.7H495.30V156.9H496.23V163.1H497.17V159.0H498.10V160.4H499.03V156.9H499.97V158.6H500.90V154.5H501.83V150.4H502.77V156.2H503.70V156.3H504.63V154.4H505.57V156.9H506.50V161.6H507.43V152.4H508.37V154.2H509.30V156.7H510.23V157.3H511.17V159.9H512.10V159.0H513.03V156.1H513.97V158.9H514.90V162.1H515.83V158.0H516.77V157.4H517.70V159.3H518.63V157.8H519.57V161.0H520.50V155.5H521.43V156.5H522.37V156.0H523.30V157.1H524.23V147.3H525.17V156.0H526.10V158.3H527.03V157.0H527.97V158.1H528.90V162.1H529.83V154.8H530.77V157.8H531.70V168.8H532.63V156.2H533.57V162.5H534.50V160.3H535.43V160.4H536.37V161.2H537.30V154.5H538.23V156.9H539.17V168.8H540.10V162.9H541.03V161.1H541.97V157.2H542.90V162.3H543.83V156.5H544.77V159.7H545.70V160.7H546.63V163.6H547.57V156.5H548.50V159.4H549.43V159.5H550.37V160.4H551.30V162.3H552.23V157.5H553.17V161.4H554.10V159.6H555.03V158.3H555.97V162.5H556.90V160.1H557.83V156.5H558.77V159.2H559.70V157.2H560.63V201Z"/></g><use href="#b14p" fill="url(#st4)"/>
<path d="M488.4,176.0L489.6,173.3L490.8,170.8L492.0,168.4L493.2,166.1L494.4,163.8L495.7,161.6L496.9,159.8L498.1,158.5L499.3,157.6L500.5,156.7L501.7,156.1L503.0,155.6L504.2,155.5L505.4,155.6L506.6,156.0L507.8,156.5L509.0,157.1L510.2,157.5L511.5,157.9L512.7,158.4L513.9,158.8L515.1,159.2L516.3,159.5L517.5,159.6L518.8,159.4L520.0,159.1L521.2,158.7L522.4,158.3L523.6,158.0L524.8,157.9L526.1,158.0L527.3,158.2L528.5,158.5L529.7,158.7L530.9,159.0L532.1,159.2L533.4,159.5L534.6,159.7L535.8,159.9L537.0,160.2L538.2,160.4L539.4,160.5L540.7,160.7L541.9,160.8L543.1,160.9L544.3,161.0L545.5,161.1L546.7,161.2L548.0,161.2L549.2,161.2L550.4,161.2L551.6,161.2L552.8,161.2L554.0,161.2L555.3,161.2L556.5,161.2L557.7,161.2L558.9,161.2L560.1,161.2" stroke="#15151a" stroke-width="1.9" fill="none" stroke-linejoin="round" stroke-linecap="round"/>
<g fill="#e68994"><path id="b15p" d="M579.13,201V171.4H580.07V172.7H581.00V172.5H581.93V170.1H582.87V173.7H583.80V167.1H584.73V167.3H585.67V169.1H586.60V172.7H587.53V169.2H588.47V168.6H589.40V166.3H590.33V170.7H591.97V201ZM611.10,201V161.0H612.73V155.9H613.67V159.8H614.60V159.0H615.53V158.7H616.47V156.1H617.40V154.5H618.33V161.4H619.27V158.9H620.20V158.0H621.13V159.7H622.07V154.7H623.00V161.4H623.93V159.6H624.87V157.3H625.80V164.7H626.73V156.5H627.67V160.9H628.60V154.5H629.53V157.6H630.47V155.1H631.40V156.6H632.33V160.3H633.27V160.0H634.20V161.3H635.13V158.6H636.07V160.1H637.00V161.3H637.93V160.4H638.87V157.9H639.80V153.8H640.73V159.1H641.67V158.7H642.60V156.2H643.53V153.4H644.47V161.8H645.40V159.7H646.33V157.7H647.27V158.2H648.20V155.6H649.13V160.7H650.07V159.3H651.00V201ZM652.87,201V158.5H653.80V201ZM654.73,201V149.3H655.67V201ZM656.60,201V157.5H657.53V151.4H658.47V159.7H659.40V158.9H660.33V201Z"/></g><use href="#b15p" fill="url(#st5)"/>
<g fill="#9996b2"><path id="b15u" d="M591.27,201V167.4H592.20V166.8H593.13V165.8H594.07V165.0H595.00V166.8H595.93V162.2H596.87V157.5H597.80V162.6H598.73V161.7H599.67V162.7H600.60V161.3H601.53V162.0H602.47V160.6H603.40V163.1H604.33V163.5H605.27V158.2H606.20V166.6H607.13V162.7H608.07V163.7H609.00V161.2H609.93V165.1H610.87V158.0H611.80V201Z"/></g><use href="#b15u" fill="url(#st5)"/>
<path d="M579.6,173.3L581.0,172.4L582.3,171.4L583.7,170.5L585.1,169.7L586.4,168.8L587.8,168.1L589.1,167.3L590.5,166.6L591.9,165.9L593.2,165.3L594.6,164.7L596.0,164.1L597.3,163.5L598.7,162.9L600.0,162.4L601.4,161.9L602.8,161.5L604.1,161.1L605.5,160.7L606.9,160.4L608.2,160.1L609.6,159.9L611.0,159.7L612.3,159.5L613.7,159.4L615.0,159.3L616.4,159.3L617.8,159.2L619.1,159.2L620.5,159.2L621.9,159.2L623.2,159.2L624.6,159.2L625.9,159.2L627.3,159.2L628.7,159.2L630.0,159.1L631.4,159.0L632.8,158.9L634.1,158.7L635.5,158.6L636.8,158.5L638.2,158.4L639.6,158.4L640.9,158.3L642.3,158.2L643.7,158.2L645.0,158.2L646.4,158.2L647.7,158.4L649.1,158.5L650.5,158.6L651.8,158.5L653.2,158.5L654.6,158.3L655.9,158.2L657.3,157.9L658.6,157.7L660.0,157.3" stroke="#15151a" stroke-width="1.9" fill="none" stroke-linejoin="round" stroke-linecap="round"/>
<g fill="#e68994"><path id="b16p" d="M680.70,201V184.0H681.63V179.3H682.57V182.3H683.50V176.8H684.43V182.6H685.37V172.2H686.30V172.8H687.23V176.0H688.17V173.7H689.10V173.9H690.03V169.5H690.97V167.4H691.90V172.5H692.83V169.7H693.77V167.8H694.70V168.2H695.63V165.5H696.57V167.7H697.50V166.4H698.43V165.1H699.37V164.5H700.30V164.2H701.23V161.1H702.17V164.8H703.10V159.4H704.03V161.0H704.97V160.4H705.90V159.6H706.83V166.8H707.77V157.5H708.70V158.2H709.63V157.5H710.57V151.4H711.50V155.1H712.43V151.8H713.37V153.1H714.30V152.8H715.23V155.5H716.17V153.9H717.10V149.3H718.03V154.4H718.97V155.1H719.90V151.8H720.83V150.4H721.77V154.5H722.70V154.4H723.63V155.9H724.57V155.2H725.50V152.3H726.43V158.3H727.37V155.4H728.30V154.4H729.23V156.4H730.17V154.7H731.10V156.9H732.03V156.0H732.97V153.4H733.90V153.8H734.83V151.4H735.77V156.3H736.70V152.8H737.63V158.2H738.57V161.3H739.50V156.7H740.43V159.7H741.37V149.3H742.30V162.3H743.23V159.7H744.17V160.6H745.10V155.8H746.03V158.3H746.97V177.0H747.90V160.9H748.83V148.3H749.77V160.2H750.70V157.3H751.63V160.0H752.57V159.8H753.50V159.8H754.43V163.8H755.37V161.2H756.30V159.1H757.23V164.7H758.17V160.6H759.10V158.2H760.03V201Z"/></g><use href="#b16p" fill="url(#st6)"/>
<path d="M681.4,182.1L682.7,179.8L684.1,177.7L685.4,175.8L686.7,174.3L688.1,173.1L689.4,172.0L690.7,171.0L692.1,170.0L693.4,169.1L694.7,168.3L696.1,167.5L697.4,166.7L698.7,165.9L700.1,165.0L701.4,164.0L702.7,162.8L704.0,161.5L705.4,160.2L706.7,159.0L708.0,158.0L709.4,157.1L710.7,156.3L712.0,155.5L713.4,154.8L714.7,154.2L716.0,153.9L717.4,153.8L718.7,153.9L720.0,154.1L721.4,154.3L722.7,154.5L724.0,154.7L725.3,154.9L726.7,155.1L728.0,155.4L729.3,155.7L730.7,156.0L732.0,156.3L733.3,156.5L734.7,156.7L736.0,156.9L737.3,157.0L738.7,157.2L740.0,157.3L741.3,157.5L742.7,157.7L744.0,158.0L745.3,158.3L746.6,158.6L748.0,158.8L749.3,158.9L750.6,159.0L752.0,159.0L753.3,159.1L754.6,159.1L756.0,159.1L757.3,159.2L758.6,159.2L760.0,159.2" stroke="#15151a" stroke-width="1.9" fill="none" stroke-linejoin="round" stroke-linecap="round"/>
<g fill="#e68994"><path id="b20p" d="M79.70,287V265.5H80.63V263.8H82.27V287ZM119.13,287V244.7H120.77V243.9H121.70V244.0H122.63V245.1H123.57V243.2H124.50V246.4H125.43V246.4H126.37V242.5H127.30V242.9H128.23V245.4H129.17V243.5H130.10V247.9H131.03V245.0H131.97V247.1H132.90V245.4H133.83V246.0H134.77V245.1H135.70V244.1H136.63V246.2H137.57V247.7H138.50V248.5H139.43V244.4H140.37V247.4H141.30V246.0H142.23V246.7H143.17V242.5H144.10V247.2H145.03V248.3H145.97V248.4H146.90V247.4H147.83V248.4H148.77V248.2H149.70V247.0H150.63V249.4H151.57V249.1H152.50V250.5H153.43V251.6H154.37V250.5H155.30V248.6H156.23V249.4H157.17V248.7H158.10V249.7H159.03V249.7H159.97V249.1H160.90V287Z"/></g><use href="#b20p" fill="url(#st0)"/>
<g fill="#9996b2"><path id="b20u" d="M81.57,287V258.6H82.50V257.9H83.43V259.1H84.37V254.8H85.30V249.7H86.23V249.7H87.17V250.1H88.10V250.6H89.03V251.7H89.97V248.6H90.90V247.4H91.83V248.6H92.77V246.5H93.70V247.6H94.63V247.9H95.57V244.2H96.50V244.6H97.43V245.7H98.37V243.9H99.30V246.2H100.23V245.6H101.17V245.9H102.10V246.5H103.03V244.5H103.97V245.6H104.90V249.0H105.83V246.7H106.77V246.5H107.70V246.6H108.63V244.2H109.57V240.8H110.50V244.3H111.43V242.9H112.37V243.6H113.30V241.0H114.23V240.0H115.17V242.5H116.10V243.7H117.03V244.4H117.97V244.7H118.90V243.3H119.83V287Z"/></g><use href="#b20u" fill="url(#st0)"/>
<path d="M80.5,264.7L81.9,261.7L83.2,258.9L84.6,256.5L86.0,254.3L87.3,252.4L88.7,250.6L90.0,249.2L91.4,248.3L92.8,247.5L94.1,246.9L95.5,246.5L96.9,246.2L98.2,246.1L99.6,246.0L100.9,246.0L102.3,245.9L103.7,245.9L105.0,245.8L106.4,245.6L107.8,245.2L109.1,244.8L110.5,244.4L111.8,244.1L113.2,243.9L114.6,243.9L115.9,243.9L117.3,243.9L118.7,243.9L120.0,243.9L121.4,243.9L122.7,244.0L124.1,244.2L125.5,244.5L126.8,244.8L128.2,245.1L129.6,245.4L130.9,245.6L132.3,245.8L133.6,246.0L135.0,246.2L136.4,246.4L137.7,246.6L139.1,246.8L140.5,247.0L141.8,247.1L143.2,247.3L144.5,247.5L145.9,247.6L147.3,247.7L148.6,247.9L150.0,248.0L151.4,248.1L152.7,248.2L154.1,248.2L155.4,248.2L156.8,248.2L158.2,248.2L159.5,248.2L160.9,248.2" stroke="#15151a" stroke-width="1.9" fill="none" stroke-linejoin="round" stroke-linecap="round"/>
<g fill="#e68994"><path id="b21p" d="M177.53,287V257.0H178.47V256.2H179.40V254.8H180.33V250.4H181.27V250.6H182.90V287ZM226.30,287V250.3H227.93V249.9H228.87V248.5H229.80V240.5H230.73V249.4H231.67V251.1H232.60V251.1H233.53V252.0H234.47V252.2H235.40V249.3H236.33V248.6H237.27V248.6H238.20V248.3H239.13V249.1H240.07V251.9H241.00V254.0H241.93V253.4H242.87V253.1H243.80V253.7H244.73V249.9H245.67V252.4H246.60V255.1H247.53V252.8H248.47V252.8H249.40V253.2H250.33V227.7H251.27V250.5H252.20V287ZM253.13,287V252.3H254.07V256.7H255.00V256.5H255.93V257.2H256.87V256.7H257.80V259.1H258.73V257.8H259.67V275.3H260.60V287Z"/></g><use href="#b21p" fill="url(#st1)"/>
<g fill="#9996b2"><path id="b21u" d="M182.20,287V249.1H183.13V247.9H184.07V248.2H185.00V247.6H185.93V287ZM186.87,287V236.8H187.80V240.5H188.73V238.2H189.67V240.4H190.60V236.4H191.53V239.0H192.47V240.8H193.40V242.2H194.33V241.4H195.27V238.7H196.20V239.5H197.13V243.3H198.07V243.0H199.00V241.6H199.93V240.6H200.87V241.0H201.80V242.6H202.73V242.7H203.67V243.0H204.60V243.4H205.53V246.0H206.47V242.8H207.40V244.2H208.33V243.5H209.27V244.3H210.20V245.3H211.13V245.8H212.07V245.5H213.00V250.3H213.93V243.8H214.87V246.0H215.80V245.0H216.73V244.1H217.67V248.5H218.60V247.7H219.53V248.8H220.47V287ZM221.40,287V248.3H222.33V252.1H223.27V250.4H224.20V248.4H225.13V249.5H226.07V250.7H227.00V287Z"/></g><use href="#b21u" fill="url(#st1)"/>
<path d="M178.3,256.5L179.7,254.3L181.1,252.3L182.5,250.4L183.9,248.5L185.3,246.7L186.7,245.0L188.1,243.6L189.5,242.5L190.9,241.4L192.3,240.6L193.7,240.1L195.1,240.1L196.4,240.3L197.8,240.8L199.2,241.3L200.6,241.8L202.0,242.3L203.4,242.7L204.8,243.1L206.2,243.5L207.6,244.0L209.0,244.4L210.4,244.7L211.8,245.1L213.2,245.5L214.6,245.8L216.0,246.1L217.4,246.5L218.8,246.8L220.1,247.2L221.5,247.5L222.9,247.9L224.3,248.2L225.7,248.6L227.1,248.9L228.5,249.2L229.9,249.4L231.3,249.7L232.7,250.0L234.1,250.2L235.5,250.6L236.9,251.0L238.3,251.4L239.7,251.8L241.1,252.1L242.4,252.3L243.8,252.4L245.2,252.5L246.6,252.5L248.0,252.6L249.4,252.7L250.8,252.8L252.2,253.2L253.6,254.1L255.0,255.1L256.4,256.3L257.8,257.8L259.2,259.6L260.6,261.6" stroke="#15151a" stroke-width="1.9" fill="none" stroke-linejoin="round" stroke-linecap="round"/>
<g fill="#e68994"><path id="b22p" d="M278.17,287V272.6H279.10V272.3H280.03V271.1H280.97V270.6H281.90V267.4H283.53V287ZM329.73,287V241.9H331.37V244.4H332.30V243.1H333.23V244.8H334.17V242.2H335.10V239.0H336.03V242.9H336.97V242.8H337.90V242.0H338.83V240.9H339.77V242.2H340.70V236.8H341.63V241.5H342.57V240.9H343.50V240.9H344.43V241.3H345.37V243.0H346.30V242.4H347.23V242.5H348.17V241.3H349.10V243.8H350.03V244.5H350.97V243.5H351.90V239.4H352.83V245.6H353.77V244.1H354.70V247.1H355.63V246.5H356.57V248.1H357.50V246.6H358.43V247.9H359.37V248.3H360.30V249.9H361.23V287Z"/></g><use href="#b22p" fill="url(#st2)"/>
<g fill="#9996b2"><path id="b22u" d="M282.83,287V264.3H283.77V263.6H284.70V262.2H285.63V259.9H286.57V260.2H287.50V257.8H288.43V257.0H289.37V258.3H290.30V254.9H291.23V257.1H292.17V254.8H293.10V254.0H294.03V253.5H294.97V252.1H295.90V250.3H296.83V248.4H297.77V250.8H298.70V248.9H299.63V249.5H300.57V250.3H301.50V248.5H302.43V247.5H303.37V247.7H304.30V247.0H305.23V250.8H306.17V248.3H307.10V246.5H308.03V246.8H308.97V287ZM309.90,287V240.0H310.83V246.2H311.77V244.3H312.70V242.6H313.63V243.6H314.57V242.9H315.50V242.4H316.43V244.4H317.37V243.5H318.30V245.0H319.23V243.3H320.17V243.1H321.10V240.1H322.03V287ZM322.97,287V243.9H323.90V242.4H324.83V240.9H325.77V240.8H326.70V241.6H327.63V242.1H328.57V244.6H329.50V241.1H330.43V287Z"/></g><use href="#b22u" fill="url(#st2)"/>
<path d="M279.1,274.3L280.5,271.2L281.9,268.3L283.3,265.7L284.6,263.3L286.0,260.9L287.4,258.7L288.8,256.9L290.2,255.4L291.6,254.2L293.0,253.2L294.4,252.3L295.7,251.5L297.1,250.7L298.5,250.0L299.9,249.5L301.3,248.9L302.7,248.4L304.1,248.0L305.4,247.5L306.8,247.0L308.2,246.4L309.6,245.8L311.0,245.3L312.4,244.8L313.8,244.3L315.2,243.9L316.5,243.6L317.9,243.3L319.3,243.0L320.7,242.7L322.1,242.6L323.5,242.4L324.9,242.4L326.3,242.3L327.6,242.2L329.0,242.2L330.4,242.1L331.8,242.0L333.2,242.0L334.6,241.9L336.0,241.8L337.3,241.7L338.7,241.7L340.1,241.7L341.5,241.8L342.9,241.9L344.3,242.0L345.7,242.2L347.1,242.5L348.4,242.9L349.8,243.5L351.2,244.1L352.6,244.7L354.0,245.2L355.4,245.8L356.8,246.5L358.2,247.2L359.5,247.9L360.9,248.7" stroke="#15151a" stroke-width="1.9" fill="none" stroke-linejoin="round" stroke-linecap="round"/>
<g fill="#e68994"><path id="b23p" d="M376.00,287V273.7H376.93V273.2H377.87V270.2H378.80V269.0H379.73V264.0H380.67V263.0H381.60V262.6H382.53V258.5H383.47V257.0H384.40V252.2H385.33V252.1H386.27V252.5H387.20V245.9H388.13V246.9H389.77V287ZM422.90,287V247.6H424.53V247.6H425.47V246.0H426.40V243.7H427.33V246.9H428.27V244.5H429.20V246.2H430.13V251.2H431.07V247.7H432.00V247.0H432.93V246.8H433.87V246.7H434.80V287ZM435.73,287V240.5H436.67V245.9H437.60V250.6H438.53V247.8H439.47V248.2H440.40V246.4H441.33V246.6H442.27V249.8H443.20V250.1H444.13V241.5H445.07V247.6H446.00V249.9H446.93V251.5H447.87V248.7H448.80V251.7H449.73V251.6H450.67V251.5H451.60V253.5H452.53V253.0H453.47V255.7H454.40V254.4H455.33V256.5H456.27V257.3H457.20V271.2H458.13V256.5H459.07V258.4H460.00V255.7H460.93V287Z"/></g><use href="#b23p" fill="url(#st3)"/>
<g fill="#9996b2"><path id="b23u" d="M389.07,287V246.9H390.00V247.1H390.93V245.3H391.87V244.2H392.80V243.2H393.73V244.5H394.67V244.2H395.60V241.9H396.53V240.2H397.47V238.2H398.40V241.6H399.33V241.1H400.27V239.7H401.20V240.1H402.13V241.1H403.07V244.3H404.00V239.4H404.93V240.5H405.87V242.8H406.80V244.5H407.73V243.4H408.67V243.1H409.60V250.7H410.53V238.4H411.47V241.8H412.40V243.6H413.33V244.5H414.27V243.7H415.20V244.1H416.13V244.7H417.07V244.3H418.00V244.7H418.93V245.1H419.87V243.9H420.80V246.3H421.73V242.4H422.67V244.0H423.60V287Z"/></g><use href="#b23u" fill="url(#st3)"/>
<path d="M376.9,273.3L378.3,269.8L379.8,266.3L381.2,263.0L382.6,259.7L384.0,256.3L385.4,253.0L386.8,250.2L388.3,248.0L389.7,246.1L391.1,244.5L392.5,243.4L393.9,242.6L395.4,241.8L396.8,241.3L398.2,241.1L399.6,241.1L401.0,241.3L402.4,241.6L403.9,241.9L405.3,242.2L406.7,242.5L408.1,242.8L409.5,243.1L411.0,243.4L412.4,243.7L413.8,243.9L415.2,244.2L416.6,244.5L418.0,244.7L419.5,245.0L420.9,245.2L422.3,245.5L423.7,245.7L425.1,245.9L426.6,246.0L428.0,246.2L429.4,246.3L430.8,246.5L432.2,246.8L433.6,247.0L435.1,247.3L436.5,247.6L437.9,247.9L439.3,248.2L440.7,248.6L442.2,248.9L443.6,249.3L445.0,249.8L446.4,250.3L447.8,250.8L449.2,251.4L450.7,252.1L452.1,252.9L453.5,253.6L454.9,254.4L456.3,255.1L457.8,255.9L459.2,256.7L460.6,257.5" stroke="#15151a" stroke-width="1.9" fill="none" stroke-linejoin="round" stroke-linecap="round"/>
<g fill="#e68994"><path id="b24p" d="M545.00,287V249.0H546.63V245.0H547.57V241.5H548.50V248.6H549.43V247.4H550.37V247.9H551.30V239.4H552.23V243.6H553.17V248.9H554.10V246.0H555.03V246.8H555.97V246.1H556.90V240.9H557.83V249.5H558.77V247.7H559.70V246.8H560.63V287Z"/></g><use href="#b24p" fill="url(#st4)"/>
<g fill="#9996b2"><path id="b24u" d="M482.23,287V266.8H483.17V270.3H484.10V269.5H485.03V255.8H485.97V261.9H486.90V287ZM487.83,287V262.2H488.77V256.8H489.70V258.9H490.63V256.3H491.57V253.2H492.50V256.9H493.43V257.8H494.37V253.5H495.30V253.9H496.23V253.1H497.17V241.5H498.10V287ZM499.03,287V250.7H499.97V255.7H500.90V256.9H501.83V249.9H502.77V247.5H503.70V250.4H504.63V249.3H505.57V249.0H506.50V255.8H507.43V249.6H508.37V248.4H509.30V251.3H510.23V252.5H511.17V250.5H512.10V250.5H513.03V247.7H513.97V244.3H514.90V244.4H515.83V241.5H516.77V248.3H517.70V245.6H518.63V251.1H519.57V250.2H520.50V253.8H521.43V246.8H522.37V251.4H523.30V248.8H524.23V245.2H525.17V247.3H526.10V243.6H527.03V244.6H527.97V245.3H528.90V245.7H529.83V249.1H530.77V247.7H531.70V247.5H532.63V245.5H533.57V248.8H534.50V248.1H535.43V249.4H536.37V252.1H537.30V248.7H538.23V243.6H539.17V243.7H540.10V248.8H541.03V249.5H541.97V248.8H542.90V251.8H543.83V246.5H544.77V249.2H545.70V287Z"/></g><use href="#b24u" fill="url(#st4)"/>
<path d="M483.6,265.1L484.9,262.9L486.2,261.0L487.5,259.3L488.8,257.8L490.1,256.6L491.4,255.5L492.7,254.5L494.0,253.6L495.3,253.0L496.6,252.5L497.9,252.0L499.2,251.7L500.5,251.3L501.8,250.9L503.1,250.6L504.4,250.2L505.7,249.9L507.0,249.6L508.3,249.3L509.6,249.0L510.9,248.6L512.2,248.2L513.5,247.8L514.8,247.5L516.0,247.2L517.3,247.0L518.6,246.9L519.9,246.8L521.2,246.7L522.5,246.7L523.8,246.6L525.1,246.6L526.4,246.6L527.7,246.7L529.0,246.9L530.3,247.1L531.6,247.3L532.9,247.5L534.2,247.7L535.5,247.8L536.8,247.9L538.1,248.0L539.4,248.1L540.7,248.2L542.0,248.2L543.3,248.2L544.6,248.1L545.9,247.9L547.2,247.7L548.5,247.5L549.8,247.4L551.1,247.4L552.3,247.5L553.6,247.5L554.9,247.6L556.2,247.7L557.5,247.9L558.8,248.0L560.1,248.2" stroke="#15151a" stroke-width="1.9" fill="none" stroke-linejoin="round" stroke-linecap="round"/>
<g fill="#e68994"><path id="b25p" d="M573.53,287V276.1H574.47V273.5H575.40V269.9H576.33V270.0H577.27V267.1H578.20V268.5H579.13V261.7H580.07V265.3H581.00V261.4H581.93V259.0H582.87V257.5H583.80V255.4H584.73V257.1H585.67V250.1H586.60V254.1H587.53V242.5H588.47V249.5H589.40V248.0H590.33V245.8H591.97V287ZM609.23,287V245.2H610.87V246.2H611.80V251.2H612.73V250.1H613.67V248.3H614.60V250.6H615.53V247.4H616.47V247.9H617.40V242.5H618.33V245.8H619.27V248.9H620.20V248.8H621.13V246.6H622.07V246.5H623.00V250.2H623.93V247.3H624.87V245.7H625.80V247.0H626.73V246.2H627.67V246.1H628.60V249.5H629.53V248.8H630.47V247.4H631.40V246.7H632.33V247.9H633.27V250.9H634.20V249.4H635.13V249.9H636.07V250.6H637.00V246.5H637.93V244.0H638.87V246.0H639.80V245.0H640.73V247.5H641.67V250.0H642.60V249.0H643.53V250.5H644.47V247.6H645.40V250.3H646.33V246.6H647.27V246.4H648.20V248.5H649.13V247.7H650.07V245.4H651.00V246.4H651.93V246.2H652.87V251.5H653.80V249.2H654.73V246.3H655.67V244.2H656.60V245.8H657.53V246.3H658.47V244.6H659.40V244.9H660.33V287Z"/></g><use href="#b25p" fill="url(#st5)"/>
<g fill="#9996b2"><path id="b25u" d="M591.27,287V247.0H592.20V245.7H593.13V245.9H594.07V240.0H595.00V245.9H595.93V246.5H596.87V243.5H597.80V246.9H598.73V247.1H599.67V245.9H600.60V247.1H601.53V247.0H602.47V251.8H603.40V240.5H604.33V246.3H605.27V247.6H606.20V245.0H607.13V248.2H608.07V248.8H609.00V248.7H609.93V287Z"/></g><use href="#b25u" fill="url(#st5)"/>
<path d="M574.9,274.9L576.3,271.7L577.8,268.6L579.2,265.6L580.7,262.8L582.1,260.0L583.5,257.3L585.0,255.0L586.4,253.1L587.9,251.3L589.3,249.7L590.8,248.6L592.2,247.8L593.6,247.1L595.1,246.6L596.5,246.3L598.0,246.2L599.4,246.2L600.9,246.3L602.3,246.4L603.7,246.5L605.2,246.6L606.6,246.7L608.1,246.9L609.5,247.1L611.0,247.3L612.4,247.5L613.8,247.6L615.3,247.7L616.7,247.8L618.2,247.9L619.6,248.0L621.1,248.0L622.5,248.1L623.9,248.1L625.4,248.2L626.8,248.2L628.3,248.2L629.7,248.2L631.2,248.2L632.6,248.2L634.0,248.2L635.5,248.2L636.9,248.2L638.4,248.2L639.8,248.2L641.2,248.2L642.7,248.1L644.1,248.0L645.6,247.9L647.0,247.8L648.5,247.7L649.9,247.5L651.3,247.3L652.8,247.0L654.2,246.8L655.7,246.5L657.1,246.2L658.6,245.9L660.0,245.6" stroke="#15151a" stroke-width="1.9" fill="none" stroke-linejoin="round" stroke-linecap="round"/>
<g fill="#e68994"><path id="b26p" d="M677.90,287V269.2H678.83V270.8H679.77V267.4H680.70V262.1H681.63V263.9H682.57V250.7H683.50V261.2H684.43V255.7H685.37V260.4H686.30V256.6H687.23V251.6H688.17V255.3H689.10V255.3H690.03V255.9H691.67V287ZM716.40,287V251.7H718.03V251.3H718.97V250.8H719.90V249.8H720.83V248.8H721.77V247.8H722.70V249.8H723.63V248.5H724.57V246.8H725.50V246.7H726.43V252.9H727.37V244.4H728.30V246.2H729.23V248.4H730.17V250.4H731.10V247.6H732.03V244.3H732.97V247.2H733.90V246.5H734.83V250.9H735.77V249.6H736.70V247.4H737.63V246.7H738.57V244.4H739.50V245.3H740.43V240.9H741.37V243.8H742.30V244.5H743.23V244.5H744.17V243.0H745.10V245.7H746.03V243.5H746.97V242.9H747.90V250.7H748.83V247.0H749.77V243.8H750.70V244.0H751.63V242.7H752.57V246.0H753.50V245.3H754.43V244.3H755.37V243.2H756.30V242.0H757.23V241.2H758.17V240.2H759.10V239.8H760.03V287Z"/></g><use href="#b26p" fill="url(#st6)"/>
<g fill="#9996b2"><path id="b26u" d="M690.97,287V252.7H691.90V250.6H692.83V247.5H693.77V253.9H694.70V246.9H695.63V245.0H696.57V250.8H697.50V251.1H698.43V253.2H699.37V248.4H700.30V252.6H701.23V253.3H702.17V253.4H703.10V250.1H704.03V252.0H704.97V252.2H705.90V249.1H706.83V253.0H707.77V255.8H708.70V251.0H709.63V250.5H710.57V247.0H711.50V252.8H712.43V252.6H713.37V251.0H714.30V249.2H715.23V250.1H716.17V252.5H717.10V287Z"/></g><use href="#b26u" fill="url(#st6)"/>
<path d="M679.0,268.8L680.3,266.0L681.7,263.5L683.1,261.3L684.4,259.5L685.8,257.8L687.2,256.3L688.6,255.0L689.9,254.0L691.3,253.1L692.7,252.3L694.1,251.6L695.4,251.2L696.8,251.1L698.2,251.1L699.5,251.2L700.9,251.2L702.3,251.3L703.7,251.4L705.0,251.6L706.4,251.9L707.8,252.1L709.2,252.3L710.5,252.3L711.9,252.3L713.3,252.1L714.7,251.8L716.0,251.5L717.4,251.2L718.8,250.8L720.1,250.4L721.5,249.9L722.9,249.4L724.3,248.9L725.6,248.5L727.0,248.1L728.4,247.8L729.8,247.4L731.1,247.1L732.5,246.8L733.9,246.5L735.2,246.1L736.6,245.8L738.0,245.4L739.4,245.2L740.7,245.0L742.1,245.0L743.5,245.0L744.9,245.0L746.2,245.0L747.6,245.0L749.0,244.8L750.4,244.3L751.7,243.6L753.1,242.9L754.5,242.2L755.8,241.4L757.2,240.5L758.6,239.5L760.0,238.4" stroke="#15151a" stroke-width="1.9" fill="none" stroke-linejoin="round" stroke-linecap="round"/>
<g fill="#e68994"><path id="b30p" d="M83.43,373V350.5H84.37V345.8H85.30V347.5H86.23V344.9H87.17V346.0H88.10V343.4H89.73V373ZM119.13,373V331.2H120.77V329.7H121.70V330.2H122.63V330.9H123.57V331.8H124.50V324.4H125.43V329.1H126.37V330.0H127.30V373ZM128.23,373V326.4H129.17V373ZM130.10,373V327.1H131.03V373ZM131.97,373V327.0H132.90V373ZM133.83,373V324.8H134.77V373ZM135.70,373V329.4H136.63V373ZM137.57,373V329.5H138.50V373ZM139.43,373V329.9H140.37V373ZM141.30,373V329.1H142.23V373ZM143.17,373V327.3H144.10V373ZM145.03,373V329.9H145.97V373ZM146.90,373V332.4H147.83V373ZM148.77,373V330.8H149.70V373ZM150.63,373V330.3H151.57V373ZM152.50,373V331.4H153.43V373ZM154.37,373V335.6H155.30V373ZM156.23,373V333.9H157.17V373ZM158.10,373V326.2H159.03V373ZM159.97,373V326.5H160.90V373Z"/></g><use href="#b30p" fill="url(#st0)"/>
<g fill="#9996b2"><path id="b30u" d="M89.03,373V342.0H89.97V347.5H90.90V339.7H91.83V344.9H92.77V339.0H93.70V343.6H94.63V343.8H95.57V342.2H96.50V373ZM97.43,373V331.6H98.37V342.5H99.30V339.3H100.23V348.0H101.17V337.9H102.10V346.7H103.03V340.5H103.97V341.4H104.90V339.7H105.83V337.5H106.77V343.9H107.70V340.1H108.63V334.1H109.57V334.1H110.50V334.2H111.43V328.5H112.37V332.7H113.30V334.3H114.23V334.4H115.17V333.7H116.10V330.9H117.03V323.4H117.97V334.3H118.90V330.0H119.83V373Z"/></g><use href="#b30u" fill="url(#st0)"/>
<path d="M84.2,348.6L85.5,347.6L86.8,346.8L88.1,345.9L89.4,345.2L90.7,344.5L92.0,344.0L93.3,343.4L94.6,343.0L95.9,342.5L97.2,342.2L98.5,341.9L99.8,341.6L101.1,341.4L102.4,341.0L103.7,340.6L105.0,339.8L106.3,338.9L107.6,337.9L108.9,336.9L110.2,336.0L111.5,335.0L112.8,333.9L114.1,333.0L115.4,332.2L116.7,331.5L118.0,330.8L119.3,330.2L120.6,329.8L121.9,329.5L123.2,329.2L124.5,329.0L125.8,328.8L127.1,328.6L128.4,328.5L129.7,328.5L131.0,328.5L132.3,328.6L133.6,328.6L134.9,328.7L136.2,328.8L137.5,328.9L138.8,329.0L140.1,329.2L141.4,329.6L142.7,329.9L144.0,330.2L145.3,330.4L146.6,330.6L147.9,330.8L149.2,330.9L150.5,331.0L151.8,331.1L153.1,331.2L154.4,331.2L155.7,331.1L157.0,331.0L158.3,330.7L159.6,330.5L160.9,330.1" stroke="#15151a" stroke-width="1.9" fill="none" stroke-linejoin="round" stroke-linecap="round"/>
<g fill="#e68994"><path id="b31p" d="M227.23,373V333.6H228.87V373ZM229.80,373V333.7H230.73V326.9H231.67V336.3H232.60V373ZM233.53,373V336.4H234.47V337.3H235.40V335.6H236.33V330.5H237.27V327.5H238.20V330.4H239.13V330.6H240.07V373ZM241.00,373V336.4H241.93V336.8H242.87V337.9H243.80V331.4H244.73V331.6H245.67V336.5H246.60V339.0H247.53V332.1H248.47V342.9H249.40V339.7H250.33V344.2H251.27V328.5H252.20V373ZM253.13,373V337.0H254.07V340.4H255.00V336.7H255.93V335.8H256.87V339.1H257.80V342.0H258.73V336.5H259.67V339.5H260.60V373Z"/></g><use href="#b31p" fill="url(#st1)"/>
<g fill="#9996b2"><path id="b31u" d="M182.20,373V349.2H183.13V349.3H184.07V341.1H185.00V373ZM185.93,373V343.8H186.87V342.6H187.80V336.2H188.73V331.6H189.67V343.4H190.60V373ZM191.53,373V342.5H192.47V344.4H193.40V340.7H194.33V338.7H195.27V342.3H196.20V334.9H197.13V373ZM198.07,373V335.1H199.00V334.4H199.93V338.9H200.87V339.6H201.80V339.8H202.73V373ZM203.67,373V328.5H204.60V334.7H205.53V336.1H206.47V336.5H207.40V373ZM208.33,373V333.6H209.27V331.3H210.20V335.3H211.13V335.2H212.07V333.4H213.00V330.1H213.93V332.4H214.87V338.3H215.80V373ZM216.73,373V340.4H217.67V332.3H218.60V332.3H219.53V327.5H220.47V328.7H221.40V334.0H222.33V334.0H223.27V373ZM224.20,373V331.8H225.13V328.6H226.07V333.3H227.00V335.7H227.93V373Z"/></g><use href="#b31u" fill="url(#st1)"/>
<path d="M183.0,347.4L184.4,345.3L185.7,343.5L187.0,341.9L188.3,340.7L189.6,339.7L190.9,338.8L192.2,338.1L193.6,337.7L194.9,337.3L196.2,337.1L197.5,336.9L198.8,336.7L200.1,336.5L201.4,336.3L202.8,336.1L204.1,335.9L205.4,335.7L206.7,335.5L208.0,335.3L209.3,335.1L210.6,334.9L212.0,334.7L213.3,334.4L214.6,334.2L215.9,333.9L217.2,333.7L218.5,333.6L219.8,333.4L221.1,333.2L222.5,333.1L223.8,333.0L225.1,333.0L226.4,333.1L227.7,333.2L229.0,333.3L230.3,333.4L231.7,333.6L233.0,333.7L234.3,333.9L235.6,334.2L236.9,334.5L238.2,334.8L239.5,335.1L240.9,335.3L242.2,335.6L243.5,335.8L244.8,336.0L246.1,336.2L247.4,336.5L248.7,336.7L250.1,337.0L251.4,337.4L252.7,337.7L254.0,338.1L255.3,338.5L256.6,338.9L257.9,339.4L259.3,339.9L260.6,340.4" stroke="#15151a" stroke-width="1.9" fill="none" stroke-linejoin="round" stroke-linecap="round"/>
<g fill="#e68994"><path id="b32p" d="M278.17,373V347.7H279.10V347.6H280.03V349.1H280.97V348.5H281.90V347.3H282.83V343.1H283.77V343.2H284.70V343.2H285.63V345.0H286.57V341.7H287.50V342.0H288.43V339.3H289.37V340.8H290.30V336.0H291.23V338.6H292.17V334.7H293.10V337.8H294.03V337.2H294.97V339.1H295.90V342.8H296.83V341.3H297.77V334.6H298.70V338.7H299.63V336.7H300.57V345.9H301.50V336.9H302.43V337.6H303.37V334.0H304.30V338.6H305.23V337.2H306.17V338.5H307.10V339.4H308.03V338.0H308.97V340.0H309.90V339.9H310.83V338.3H311.77V338.0H312.70V335.5H313.63V338.6H314.57V336.0H315.50V335.7H316.43V334.2H317.37V337.2H318.30V337.6H319.23V337.5H320.17V334.5H321.10V337.3H322.03V336.1H322.97V336.2H323.90V339.1H324.83V336.5H325.77V334.9H326.70V334.9H327.63V342.9H328.57V332.4H329.50V341.3H330.43V336.3H331.37V337.0H332.30V336.3H333.23V336.9H334.17V373ZM335.10,373V328.5H336.03V336.7H336.97V335.9H337.90V334.5H338.83V336.7H339.77V340.0H340.70V334.2H341.63V340.8H342.57V329.0H343.50V330.0H344.43V332.5H345.37V332.1H346.30V330.8H347.23V330.3H348.17V332.1H349.10V328.2H350.03V329.1H350.97V324.4H351.90V330.0H352.83V327.3H353.77V329.0H354.70V329.9H355.63V328.5H356.57V330.6H357.50V326.7H358.43V326.3H359.37V328.3H360.30V331.4H361.23V373Z"/></g><use href="#b32p" fill="url(#st2)"/>
<path d="M279.5,349.6L280.9,347.6L282.3,345.7L283.6,344.2L285.0,343.0L286.4,341.9L287.8,341.0L289.2,340.3L290.5,339.8L291.9,339.6L293.3,339.5L294.7,339.4L296.1,339.3L297.4,339.2L298.8,339.1L300.2,338.9L301.6,338.8L303.0,338.6L304.3,338.4L305.7,338.2L307.1,338.0L308.5,337.7L309.9,337.4L311.2,337.2L312.6,336.9L314.0,336.7L315.4,336.6L316.8,336.5L318.1,336.4L319.5,336.4L320.9,336.3L322.3,336.3L323.7,336.3L325.0,336.3L326.4,336.3L327.8,336.3L329.2,336.3L330.6,336.3L331.9,336.3L333.3,336.1L334.7,335.9L336.1,335.7L337.5,335.4L338.8,335.1L340.2,334.7L341.6,334.2L343.0,333.6L344.4,332.9L345.7,332.3L347.1,331.7L348.5,331.0L349.9,330.4L351.3,329.8L352.6,329.3L354.0,329.0L355.4,328.7L356.8,328.4L358.2,328.2L359.5,328.0L360.9,327.9" stroke="#15151a" stroke-width="1.9" fill="none" stroke-linejoin="round" stroke-linecap="round"/>
<g fill="#e68994"><path id="b33p" d="M387.20,373V345.9H388.13V348.8H389.07V348.9H390.00V344.3H390.93V345.1H391.87V342.8H392.80V343.9H393.73V344.8H394.67V340.5H395.60V344.8H396.53V341.8H397.47V345.9H398.40V343.5H399.33V350.0H400.27V342.2H401.20V344.5H402.13V343.4H403.07V338.7H404.00V335.4H404.93V327.5H405.87V341.8H406.80V332.5H407.73V332.0H408.67V334.7H409.60V337.1H410.53V339.3H411.47V334.8H412.40V329.5H413.33V330.0H414.27V336.6H415.20V337.4H416.13V333.0H417.07V335.0H418.00V331.3H418.93V333.1H419.87V339.5H420.80V332.7H421.73V333.6H422.67V329.3H423.60V340.2H424.53V332.4H425.47V328.7H426.40V328.2H427.33V335.7H428.27V333.6H429.20V373ZM430.13,373V334.4H431.07V325.4H432.00V331.5H432.93V330.9H433.87V332.7H434.80V329.8H435.73V323.4H436.67V329.9H437.60V336.5H438.53V329.9H439.47V334.1H440.40V332.5H441.33V373ZM442.27,373V331.5H443.20V336.9H444.13V333.2H445.07V337.6H446.00V336.6H446.93V341.3H447.87V336.3H448.80V338.2H449.73V332.5H450.67V328.5H451.60V339.8H452.53V338.0H453.47V335.6H454.40V338.3H455.33V336.9H456.27V333.3H457.20V335.3H458.13V336.4H459.07V339.0H460.00V339.7H460.93V373Z"/></g><use href="#b33p" fill="url(#st3)"/>
<path d="M388.6,345.3L389.8,345.3L391.0,345.2L392.3,345.1L393.5,345.0L394.7,344.9L395.9,344.5L397.1,343.9L398.4,343.2L399.6,342.4L400.8,341.6L402.0,340.8L403.2,339.8L404.5,338.8L405.7,337.9L406.9,337.2L408.1,336.5L409.4,335.9L410.6,335.3L411.8,334.9L413.0,334.6L414.2,334.5L415.5,334.4L416.7,334.3L417.9,334.3L419.1,334.2L420.3,334.1L421.6,334.0L422.8,333.7L424.0,333.4L425.2,333.1L426.4,332.8L427.7,332.5L428.9,332.3L430.1,332.1L431.3,331.9L432.5,331.8L433.8,331.6L435.0,331.6L436.2,331.7L437.4,332.1L438.6,332.7L439.9,333.4L441.1,334.0L442.3,334.6L443.5,335.2L444.7,335.7L446.0,336.2L447.2,336.6L448.4,336.8L449.6,336.9L450.8,337.0L452.1,337.1L453.3,337.3L454.5,337.4L455.7,337.6L456.9,337.9L458.2,338.1L459.4,338.4L460.6,338.8" stroke="#15151a" stroke-width="1.9" fill="none" stroke-linejoin="round" stroke-linecap="round"/>
<g fill="#e68994"><path id="b34p" d="M476.63,373V350.8H477.57V349.3H478.50V350.6H479.43V347.0H480.37V346.8H481.30V345.9H482.23V339.9H483.17V344.3H484.10V341.0H485.03V340.1H485.97V341.1H486.90V341.0H487.83V332.6H489.47V373ZM516.77,373V321.3H517.70V335.9H518.63V336.2H519.57V332.3H520.50V335.4H521.43V344.9H522.37V338.1H523.30V333.5H524.23V337.2H525.17V342.0H526.10V335.8H527.03V330.6H527.97V333.7H528.90V335.9H529.83V335.9H530.77V332.6H531.70V347.0H532.63V329.5H533.57V336.5H534.50V337.4H535.43V337.5H536.37V337.1H537.30V335.9H538.23V332.8H539.17V332.6H540.10V331.9H541.03V336.5H541.97V336.4H542.90V334.1H543.83V333.2H544.77V333.1H545.70V335.3H546.63V327.5H547.57V332.9H548.50V331.5H549.43V331.5H550.37V332.3H551.30V332.1H552.23V330.6H553.17V333.5H554.10V330.2H555.03V331.7H555.97V328.4H556.90V326.7H557.83V330.9H558.77V327.9H559.70V331.7H560.63V373Z"/></g><use href="#b34p" fill="url(#st4)"/>
<g fill="#9996b2"><path id="b34u" d="M488.77,373V337.6H489.70V343.9H490.63V337.4H491.57V338.0H492.50V335.7H493.43V336.6H494.37V337.5H495.30V340.0H496.23V340.5H497.17V339.1H498.10V337.6H499.03V337.2H499.97V339.2H500.90V338.9H501.83V339.7H502.77V339.1H503.70V340.1H504.63V340.7H505.57V341.1H506.50V338.0H507.43V336.4H508.37V337.1H509.30V333.3H510.23V336.4H511.17V336.4H512.10V339.1H513.03V333.3H513.97V334.6H514.90V334.9H515.83V373Z"/></g><use href="#b34u" fill="url(#st4)"/>
<path d="M478.1,349.4L479.5,347.5L480.9,345.7L482.3,344.1L483.7,342.8L485.0,341.7L486.4,340.7L487.8,339.8L489.2,339.3L490.6,339.1L492.0,339.0L493.4,338.9L494.8,338.9L496.2,338.8L497.6,338.7L499.0,338.6L500.3,338.6L501.7,338.5L503.1,338.4L504.5,338.2L505.9,338.0L507.3,337.6L508.7,337.0L510.1,336.5L511.5,336.1L512.9,335.7L514.2,335.4L515.6,335.2L517.0,335.1L518.4,335.1L519.8,335.3L521.2,335.6L522.6,335.9L524.0,336.2L525.4,336.3L526.8,336.3L528.2,336.3L529.5,336.3L530.9,336.3L532.3,336.3L533.7,336.3L535.1,336.2L536.5,336.0L537.9,335.7L539.3,335.4L540.7,335.0L542.1,334.7L543.4,334.3L544.8,334.0L546.2,333.7L547.6,333.3L549.0,333.0L550.4,332.6L551.8,332.2L553.2,331.8L554.6,331.4L556.0,331.0L557.3,330.6L558.7,330.2L560.1,329.7" stroke="#15151a" stroke-width="1.9" fill="none" stroke-linejoin="round" stroke-linecap="round"/>
<g fill="#e68994"><path id="b35p" d="M579.13,373V346.5H580.07V348.4H581.00V344.9H581.93V373ZM582.87,373V343.2H583.80V344.1H584.73V373ZM585.67,373V338.2H586.60V340.6H587.53V339.7H588.47V341.3H589.40V339.0H590.33V340.6H591.27V332.6H592.20V373ZM606.43,373V342.0H608.07V373ZM609.00,373V342.3H609.93V332.6H610.87V341.1H611.80V337.8H612.73V373ZM613.67,373V335.6H614.60V336.4H615.53V338.1H616.47V336.4H617.40V334.3H618.33V339.8H619.27V339.3H620.20V373ZM621.13,373V339.5H622.07V336.0H623.00V338.3H623.93V373ZM624.87,373V331.6H625.80V337.7H626.73V373ZM627.67,373V340.3H628.60V338.8H629.53V373ZM630.47,373V334.7H631.40V339.5H632.33V334.9H633.27V373ZM634.20,373V341.0H635.13V373ZM636.07,373V329.5H637.00V334.9H637.93V337.8H638.87V341.3H639.80V337.8H640.73V340.5H641.67V336.8H642.60V333.3H643.53V334.2H644.47V339.0H645.40V333.1H646.33V332.7H647.27V334.1H648.20V333.2H649.13V328.4H650.07V334.0H651.00V373ZM651.93,373V329.1H652.87V327.7H653.80V325.0H654.73V328.1H655.67V326.5H656.60V329.1H657.53V325.2H658.47V326.6H659.40V323.6H660.33V373Z"/></g><use href="#b35p" fill="url(#st5)"/>
<g fill="#9996b2"><path id="b35u" d="M593.13,373V344.0H594.07V337.6H595.00V338.4H595.93V337.7H596.87V337.5H597.80V339.8H598.73V373ZM599.67,373V338.0H600.60V334.8H601.53V339.6H602.47V373ZM603.40,373V338.6H604.33V333.6H605.27V373ZM606.20,373V340.2H607.13V373Z"/></g><use href="#b35u" fill="url(#st5)"/>
<path d="M579.6,349.0L581.0,347.4L582.3,346.0L583.7,344.6L585.1,343.3L586.4,342.1L587.8,340.8L589.1,339.6L590.5,338.9L591.9,338.8L593.2,338.8L594.6,338.8L596.0,338.8L597.3,338.8L598.7,338.8L600.0,338.8L601.4,338.8L602.8,338.9L604.1,339.0L605.5,339.1L606.9,339.2L608.2,339.2L609.6,339.1L611.0,339.1L612.3,339.0L613.7,338.9L615.0,338.8L616.4,338.7L617.8,338.7L619.1,338.6L620.5,338.5L621.9,338.4L623.2,338.4L624.6,338.4L625.9,338.4L627.3,338.4L628.7,338.4L630.0,338.4L631.4,338.4L632.8,338.4L634.1,338.3L635.5,338.3L636.8,338.2L638.2,338.2L639.6,337.9L640.9,337.3L642.3,336.5L643.7,335.7L645.0,334.8L646.4,334.0L647.7,333.0L649.1,332.1L650.5,331.1L651.8,330.2L653.2,329.3L654.6,328.5L655.9,327.7L657.3,326.9L658.6,326.2L660.0,325.4" stroke="#15151a" stroke-width="1.9" fill="none" stroke-linejoin="round" stroke-linecap="round"/>
<g fill="#e68994"><path id="b36p" d="M672.30,373V361.1H673.23V358.7H674.17V357.6H675.10V359.6H676.03V352.3H676.97V352.6H677.90V351.0H678.83V347.3H679.77V345.5H680.70V341.6H681.63V340.5H682.57V336.6H683.50V343.7H685.13V373ZM710.80,373V324.4H712.43V329.9H713.37V333.8H714.30V326.0H715.23V333.2H716.17V359.3H717.10V335.3H718.03V332.9H718.97V333.3H719.90V336.0H720.83V332.9H721.77V332.5H722.70V324.4H723.63V333.9H724.57V357.2H725.50V335.4H726.43V373ZM727.37,373V335.6H728.30V337.1H729.23V333.9H730.17V333.3H731.10V333.2H732.03V333.4H732.97V336.8H733.90V333.8H734.83V339.7H735.77V332.4H736.70V337.2H737.63V333.8H738.57V331.9H739.50V333.2H740.43V345.9H741.37V335.8H742.30V332.9H743.23V338.3H744.17V329.5H745.10V332.2H746.03V332.4H746.97V344.2H747.90V340.0H748.83V335.9H749.77V342.3H750.70V341.7H751.63V337.3H752.57V339.4H753.50V340.8H754.43V345.5H755.37V339.0H756.30V340.4H757.23V340.5H758.17V341.8H759.10V343.3H760.03V373Z"/></g><use href="#b36p" fill="url(#st6)"/>
<g fill="#9996b2"><path id="b36u" d="M684.43,373V339.6H685.37V329.5H686.30V337.6H687.23V373ZM688.17,373V341.0H689.10V332.7H690.03V334.5H690.97V336.0H691.90V334.6H692.83V334.1H693.77V331.3H694.70V332.4H695.63V333.9H696.57V325.4H697.50V336.7H698.43V373ZM699.37,373V326.0H700.30V337.9H701.23V373ZM702.17,373V339.4H703.10V338.1H704.03V337.2H704.97V333.6H705.90V331.7H706.83V332.4H707.77V336.1H708.70V331.0H709.63V334.3H710.57V332.4H711.50V373Z"/></g><use href="#b36u" fill="url(#st6)"/>
<path d="M672.8,359.3L674.3,356.6L675.8,354.0L677.2,351.3L678.7,348.6L680.2,345.5L681.7,342.5L683.1,340.0L684.6,338.2L686.1,336.6L687.6,335.2L689.1,334.3L690.5,334.0L692.0,334.2L693.5,334.4L695.0,334.6L696.4,334.7L697.9,334.6L699.4,334.6L700.9,334.5L702.3,334.4L703.8,334.3L705.3,334.2L706.8,334.0L708.3,333.7L709.7,333.5L711.2,333.3L712.7,333.2L714.2,333.3L715.6,333.4L717.1,333.6L718.6,333.8L720.1,334.0L721.6,334.1L723.0,334.2L724.5,334.3L726.0,334.4L727.5,334.5L728.9,334.6L730.4,334.7L731.9,334.8L733.4,334.9L734.8,335.0L736.3,335.2L737.8,335.3L739.3,335.5L740.8,335.7L742.2,336.0L743.7,336.3L745.2,336.6L746.7,337.0L748.1,337.5L749.6,338.1L751.1,338.7L752.6,339.3L754.1,339.9L755.5,340.5L757.0,341.0L758.5,341.6L760.0,342.2" stroke="#15151a" stroke-width="1.9" fill="none" stroke-linejoin="round" stroke-linecap="round"/>
<g fill="#e68994"><path id="b40p" d="M79.70,459V433.6H80.63V435.9H81.57V434.8H82.50V433.2H83.43V433.2H84.37V438.1H85.30V432.6H86.23V432.6H87.17V433.9H88.80V459ZM122.87,459V420.9H124.50V417.0H125.43V428.9H126.37V423.2H127.30V421.0H128.23V424.2H129.17V421.6H130.10V425.0H131.03V421.9H131.97V417.8H132.90V422.1H133.83V421.6H134.77V422.7H135.70V422.2H136.63V423.4H137.57V422.0H138.50V423.2H139.43V420.2H140.37V420.9H141.30V420.3H142.23V419.6H143.17V420.8H144.10V419.0H145.03V419.3H145.97V413.1H146.90V427.8H147.83V420.9H148.77V414.2H149.70V416.2H150.63V407.9H151.57V414.2H152.50V411.9H153.43V412.2H154.37V412.6H155.30V409.7H156.23V411.0H157.17V413.6H158.10V408.1H159.03V407.8H159.97V408.6H160.90V459Z"/></g><use href="#b40p" fill="url(#st0)"/>
<g fill="#9996b2"><path id="b40u" d="M88.10,459V425.8H89.03V432.6H89.97V428.3H90.90V430.2H91.83V427.7H92.77V427.1H93.70V427.9H94.63V429.5H95.57V428.8H96.50V429.6H97.43V430.6H98.37V434.0H99.30V425.9H100.23V430.4H101.17V427.6H102.10V429.6H103.03V425.6H103.97V424.6H104.90V425.6H105.83V426.8H106.77V424.7H107.70V423.2H108.63V427.0H109.57V425.6H110.50V429.9H111.43V423.7H112.37V423.8H113.30V426.1H114.23V424.5H115.17V425.2H116.10V426.2H117.03V419.6H117.97V422.8H118.90V426.8H119.83V421.6H120.77V424.3H121.70V418.2H122.63V420.6H123.57V459Z"/></g><use href="#b40u" fill="url(#st0)"/>
<path d="M80.5,438.1L81.9,436.4L83.2,434.9L84.6,433.5L86.0,432.4L87.3,431.5L88.7,430.8L90.0,430.2L91.4,429.6L92.8,429.3L94.1,429.0L95.5,428.9L96.9,428.7L98.2,428.6L99.6,428.4L100.9,428.3L102.3,428.0L103.7,427.7L105.0,427.4L106.4,427.1L107.8,426.8L109.1,426.4L110.5,426.1L111.8,425.6L113.2,425.2L114.6,424.8L115.9,424.3L117.3,424.0L118.7,423.6L120.0,423.3L121.4,422.9L122.7,422.6L124.1,422.4L125.5,422.3L126.8,422.3L128.2,422.3L129.6,422.3L130.9,422.3L132.3,422.3L133.6,422.3L135.0,422.3L136.4,422.2L137.7,422.0L139.1,421.8L140.5,421.6L141.8,420.9L143.2,420.0L144.5,418.9L145.9,417.8L147.3,416.7L148.6,415.4L150.0,414.2L151.4,413.1L152.7,412.2L154.1,411.4L155.4,410.6L156.8,409.9L158.2,409.3L159.5,408.8L160.9,408.4" stroke="#15151a" stroke-width="1.9" fill="none" stroke-linejoin="round" stroke-linecap="round"/>
<g fill="#e68994"><path id="b41p" d="M178.47,459V443.0H179.40V443.2H180.33V440.8H181.27V435.0H182.20V440.6H183.83V459ZM231.90,459V416.6H233.53V412.5H234.47V413.3H235.40V413.2H236.33V414.7H237.27V411.3H238.20V415.3H239.13V414.9H240.07V415.7H241.00V413.8H241.93V415.3H242.87V415.7H243.80V413.1H244.73V417.4H245.67V415.6H246.60V413.4H247.53V416.6H248.47V414.6H249.40V416.7H250.33V414.8H251.27V418.8H252.20V418.4H253.13V418.7H254.07V416.7H255.00V419.6H255.93V419.2H256.87V417.4H257.80V410.4H258.73V416.1H259.67V424.8H260.60V459Z"/></g><use href="#b41p" fill="url(#st1)"/>
<g fill="#9996b2"><path id="b41u" d="M183.13,459V441.8H184.07V440.9H185.00V438.4H185.93V439.2H186.87V439.8H187.80V436.2H188.73V436.2H189.67V435.9H190.60V435.8H191.53V438.5H192.47V437.0H193.40V430.9H194.33V434.4H195.27V434.9H196.20V434.4H197.13V434.6H198.07V433.2H199.00V433.0H199.93V424.8H200.87V443.2H201.80V430.8H202.73V431.6H203.67V431.8H204.60V428.5H205.53V429.9H206.47V427.9H207.40V427.4H208.33V426.9H209.27V423.3H210.20V423.9H211.13V422.7H212.07V420.2H213.00V424.3H213.93V422.3H214.87V421.1H215.80V422.2H216.73V413.1H217.67V420.4H218.60V416.7H219.53V413.6H220.47V418.8H221.40V414.4H222.33V415.2H223.27V415.9H224.20V414.6H225.13V414.3H226.07V412.9H227.00V413.6H227.93V414.3H228.87V413.4H229.80V415.6H230.73V415.1H231.67V412.7H232.60V459Z"/></g><use href="#b41u" fill="url(#st1)"/>
<path d="M179.6,443.2L180.9,442.1L182.3,441.1L183.7,440.2L185.1,439.3L186.4,438.5L187.8,437.8L189.2,437.1L190.5,436.5L191.9,436.0L193.3,435.5L194.7,434.9L196.0,434.3L197.4,433.7L198.8,433.2L200.2,432.6L201.5,432.0L202.9,431.3L204.3,430.5L205.6,429.5L207.0,428.3L208.4,427.0L209.8,425.7L211.1,424.2L212.5,422.4L213.9,420.7L215.3,419.1L216.6,418.0L218.0,417.0L219.4,416.1L220.7,415.4L222.1,414.9L223.5,414.5L224.9,414.2L226.2,413.9L227.6,413.7L229.0,413.5L230.4,413.5L231.7,413.5L233.1,413.5L234.5,413.6L235.9,413.7L237.2,413.8L238.6,413.9L240.0,414.1L241.3,414.5L242.7,414.9L244.1,415.4L245.5,415.8L246.8,416.2L248.2,416.6L249.6,416.9L251.0,417.3L252.3,417.6L253.7,418.0L255.1,418.3L256.4,418.5L257.8,418.8L259.2,419.0L260.6,419.2" stroke="#15151a" stroke-width="1.9" fill="none" stroke-linejoin="round" stroke-linecap="round"/>
<g fill="#e68994"><path id="b42p" d="M276.30,459V440.8H277.23V437.6H278.17V439.1H279.10V436.3H280.03V431.1H280.97V433.9H281.90V433.1H282.83V433.3H284.47V459ZM327.87,459V419.8H329.50V422.2H330.43V420.3H331.37V416.6H332.30V422.2H333.23V427.8H334.17V418.6H335.10V419.2H336.03V418.2H336.97V415.4H337.90V420.4H338.83V420.2H339.77V417.6H340.70V421.4H341.63V420.7H342.57V417.9H343.50V412.9H344.43V419.2H345.37V417.5H346.30V427.8H347.23V419.9H348.17V418.6H349.10V420.3H350.03V418.6H350.97V420.7H351.90V422.3H352.83V417.3H353.77V419.8H354.70V421.6H355.63V420.8H356.57V420.9H357.50V420.8H358.43V424.2H359.37V422.3H360.30V423.2H361.23V459Z"/></g><use href="#b42p" fill="url(#st2)"/>
<g fill="#9996b2"><path id="b42u" d="M283.77,459V429.4H284.70V431.5H285.63V430.9H286.57V429.6H287.50V427.2H288.43V427.8H289.37V429.0H290.30V430.8H291.23V424.2H292.17V426.8H293.10V430.7H294.03V427.4H294.97V427.9H295.90V422.7H296.83V425.3H297.77V424.3H298.70V429.7H299.63V427.8H300.57V431.9H301.50V426.2H302.43V427.4H303.37V428.3H304.30V422.7H305.23V426.9H306.17V430.5H307.10V425.2H308.03V424.9H308.97V420.7H309.90V422.9H310.83V421.7H311.77V420.3H312.70V425.6H313.63V421.6H314.57V426.0H315.50V429.3H316.43V422.0H317.37V417.0H318.30V416.9H319.23V424.4H320.17V421.6H321.10V418.7H322.03V417.7H322.97V417.4H323.90V424.2H324.83V420.5H325.77V421.0H326.70V418.9H327.63V418.8H328.57V459Z"/></g><use href="#b42u" fill="url(#st2)"/>
<path d="M277.5,439.5L278.9,437.5L280.3,435.5L281.7,433.8L283.1,432.4L284.5,431.1L285.9,429.9L287.4,428.9L288.8,428.1L290.2,427.8L291.6,427.5L293.0,427.4L294.4,427.3L295.8,427.2L297.3,427.2L298.7,427.2L300.1,427.2L301.5,427.2L302.9,427.2L304.3,427.2L305.8,427.0L307.2,426.4L308.6,425.7L310.0,424.9L311.4,424.1L312.8,423.5L314.2,423.0L315.7,422.5L317.1,422.0L318.5,421.5L319.9,421.2L321.3,421.0L322.7,420.8L324.1,420.7L325.6,420.5L327.0,420.4L328.4,420.3L329.8,420.1L331.2,419.9L332.6,419.7L334.0,419.5L335.5,419.3L336.9,419.2L338.3,419.2L339.7,419.1L341.1,419.0L342.5,419.0L343.9,419.1L345.4,419.2L346.8,419.5L348.2,419.8L349.6,420.2L351.0,420.6L352.4,421.0L353.9,421.3L355.3,421.8L356.7,422.2L358.1,422.7L359.5,423.2L360.9,423.7" stroke="#15151a" stroke-width="1.9" fill="none" stroke-linejoin="round" stroke-linecap="round"/>
<g fill="#e68994"><path id="b43p" d="M377.87,459V439.4H378.80V438.2H379.73V437.7H380.67V433.8H381.60V431.0H382.53V430.5H383.47V428.9H384.40V426.9H385.33V426.7H386.27V416.6H387.20V424.6H388.13V420.2H389.77V459ZM423.83,459V424.2H425.47V425.9H426.40V425.4H427.33V427.6H428.27V430.6H429.20V430.6H430.13V425.7H431.07V425.5H432.00V419.6H432.93V425.9H433.87V426.5H434.80V425.2H435.73V423.8H436.67V424.5H437.60V415.5H438.53V429.4H439.47V426.0H440.40V424.2H441.33V426.1H442.27V429.7H443.20V423.5H444.13V421.9H445.07V423.0H446.00V422.8H446.93V422.8H447.87V424.2H448.80V418.8H449.73V421.6H450.67V420.3H451.60V422.0H452.53V420.0H453.47V419.3H454.40V421.9H455.33V423.7H456.27V421.7H457.20V423.8H458.13V418.6H459.07V415.5H460.00V418.7H460.93V459Z"/></g><use href="#b43p" fill="url(#st3)"/>
<g fill="#9996b2"><path id="b43u" d="M389.07,459V427.2H390.00V422.6H390.93V430.9H391.87V418.2H392.80V421.6H393.73V423.0H394.67V423.9H395.60V423.0H396.53V423.8H397.47V423.8H398.40V423.8H399.33V426.2H400.27V423.9H401.20V421.0H402.13V420.6H403.07V420.7H404.00V418.6H404.93V424.2H405.87V424.1H406.80V427.8H407.73V422.3H408.67V423.9H409.60V424.5H410.53V419.6H411.47V424.4H412.40V425.9H413.33V424.2H414.27V426.5H415.20V426.6H416.13V417.0H417.07V424.6H418.00V424.1H418.93V424.1H419.87V426.4H420.80V427.8H421.73V430.8H422.67V426.2H423.60V422.2H424.53V459Z"/></g><use href="#b43u" fill="url(#st3)"/>
<path d="M379.0,438.1L380.4,435.1L381.7,432.5L383.1,430.2L384.5,428.4L385.9,426.7L387.3,425.3L388.7,424.1L390.0,423.4L391.4,423.0L392.8,422.7L394.2,422.5L395.6,422.3L397.0,422.3L398.3,422.4L399.7,422.6L401.1,422.8L402.5,423.0L403.9,423.2L405.3,423.4L406.6,423.7L408.0,423.9L409.4,424.2L410.8,424.4L412.2,424.7L413.6,424.9L414.9,425.1L416.3,425.3L417.7,425.5L419.1,425.6L420.5,425.7L421.9,425.8L423.2,425.9L424.6,426.0L426.0,426.1L427.4,426.2L428.8,426.2L430.2,426.2L431.5,426.1L432.9,425.9L434.3,425.7L435.7,425.4L437.1,425.2L438.5,425.0L439.8,424.8L441.2,424.6L442.6,424.4L444.0,424.1L445.4,423.8L446.8,423.4L448.1,422.9L449.5,422.3L450.9,421.7L452.3,421.2L453.7,420.7L455.1,420.3L456.4,419.9L457.8,419.6L459.2,419.3L460.6,419.0" stroke="#15151a" stroke-width="1.9" fill="none" stroke-linejoin="round" stroke-linecap="round"/>
<g fill="#e68994"><path id="b44p" d="M478.50,459V446.4H479.43V440.5H480.37V442.5H481.30V436.1H482.23V439.5H483.17V436.9H484.10V440.0H485.03V432.8H485.97V438.9H487.60V459ZM521.67,459V422.2H523.30V420.5H524.23V425.4H525.17V426.3H526.10V420.9H527.03V420.8H527.97V423.5H528.90V420.7H529.83V417.0H530.77V417.0H531.70V422.4H532.63V421.3H533.57V423.3H534.50V419.7H535.43V425.2H536.37V417.6H537.30V414.5H538.23V418.1H539.17V417.6H540.10V417.0H541.03V431.9H541.97V416.4H542.90V417.5H543.83V417.6H544.77V416.9H545.70V420.5H546.63V416.9H547.57V422.7H548.50V415.3H549.43V415.2H550.37V412.7H551.30V414.1H552.23V416.8H553.17V415.2H554.10V416.7H555.03V413.9H555.97V411.7H556.90V411.4H557.83V413.8H558.77V410.2H559.70V413.2H560.63V459Z"/></g><use href="#b44p" fill="url(#st4)"/>
<g fill="#9996b2"><path id="b44u" d="M486.90,459V434.2H487.83V429.0H488.77V438.1H489.70V430.8H490.63V433.0H491.57V430.7H492.50V429.7H493.43V432.9H494.37V428.9H495.30V428.8H496.23V425.5H497.17V429.0H498.10V425.8H499.03V431.8H499.97V426.3H500.90V425.0H501.83V437.1H502.77V425.9H503.70V429.3H504.63V425.4H505.57V426.0H506.50V425.8H507.43V428.3H508.37V425.3H509.30V426.3H510.23V424.3H511.17V425.4H512.10V420.7H513.03V426.1H513.97V425.4H514.90V426.0H515.83V423.7H516.77V424.9H517.70V420.2H518.63V433.0H519.57V421.9H520.50V421.9H521.43V424.4H522.37V459Z"/></g><use href="#b44u" fill="url(#st4)"/>
<path d="M479.1,443.8L480.5,441.2L481.9,438.8L483.2,436.7L484.6,435.1L486.0,433.8L487.4,432.6L488.7,431.6L490.1,430.8L491.5,430.2L492.9,429.6L494.2,429.2L495.6,428.7L497.0,428.3L498.3,428.0L499.7,427.7L501.1,427.4L502.5,427.2L503.8,426.9L505.2,426.7L506.6,426.5L508.0,426.3L509.3,426.1L510.7,425.9L512.1,425.7L513.4,425.5L514.8,425.3L516.2,425.0L517.6,424.8L518.9,424.6L520.3,424.4L521.7,424.1L523.1,423.9L524.4,423.5L525.8,423.1L527.2,422.7L528.6,422.2L529.9,421.7L531.3,421.2L532.7,420.8L534.0,420.5L535.4,420.2L536.8,419.8L538.2,419.5L539.5,419.2L540.9,418.8L542.3,418.4L543.7,418.0L545.0,417.5L546.4,417.1L547.8,416.7L549.1,416.3L550.5,415.9L551.9,415.4L553.3,415.0L554.6,414.6L556.0,414.2L557.4,413.7L558.8,413.3L560.1,412.9" stroke="#15151a" stroke-width="1.9" fill="none" stroke-linejoin="round" stroke-linecap="round"/>
<g fill="#e68994"><path id="b45p" d="M576.33,459V446.0H577.27V442.2H578.20V441.3H579.13V441.2H580.07V439.9H581.70V459ZM626.03,459V420.6H627.67V424.0H628.60V422.7H629.53V421.0H630.47V423.0H631.40V421.9H632.33V420.9H633.27V421.6H634.20V423.5H635.13V421.7H636.07V422.2H637.00V423.6H637.93V424.4H638.87V421.7H639.80V424.3H640.73V424.7H641.67V418.8H642.60V424.9H643.53V425.3H644.47V425.1H645.40V423.5H646.33V424.5H647.27V428.6H648.20V425.8H649.13V422.9H650.07V423.9H651.00V423.0H651.93V425.4H652.87V422.8H653.80V426.2H654.73V425.0H655.67V425.9H656.60V426.7H657.53V425.5H658.47V423.5H659.40V428.2H660.33V459Z"/></g><use href="#b45p" fill="url(#st5)"/>
<g fill="#9996b2"><path id="b45u" d="M581.00,459V435.7H581.93V433.8H582.87V432.7H583.80V430.4H584.73V431.9H585.67V430.2H586.60V426.1H587.53V427.0H588.47V427.6H589.40V426.7H590.33V426.5H591.27V426.5H592.20V426.5H593.13V429.1H594.07V424.5H595.00V423.8H595.93V423.5H596.87V423.1H597.80V425.1H598.73V422.0H599.67V422.7H600.60V423.3H601.53V433.0H602.47V422.1H603.40V422.3H604.33V422.3H605.27V413.5H606.20V415.5H607.13V421.2H608.07V420.6H609.00V420.9H609.93V418.9H610.87V421.9H611.80V419.9H612.73V419.2H613.67V422.1H614.60V415.5H615.53V421.8H616.47V419.3H617.40V425.0H618.33V421.1H619.27V419.9H620.20V424.0H621.13V422.1H622.07V424.8H623.00V422.3H623.93V418.2H624.87V420.7H625.80V421.7H626.73V459Z"/></g><use href="#b45u" fill="url(#st5)"/>
<path d="M577.6,443.8L579.0,440.9L580.4,438.3L581.8,435.9L583.1,433.9L584.5,432.2L585.9,430.6L587.3,429.3L588.7,428.2L590.1,427.3L591.5,426.6L592.9,426.0L594.3,425.4L595.7,424.9L597.1,424.5L598.5,424.0L599.9,423.5L601.3,423.1L602.7,422.7L604.1,422.3L605.5,422.1L606.9,422.0L608.3,421.8L609.7,421.7L611.1,421.6L612.5,421.5L613.9,421.5L615.3,421.5L616.7,421.5L618.1,421.5L619.5,421.5L620.9,421.5L622.3,421.5L623.7,421.5L625.1,421.6L626.5,421.6L627.9,421.7L629.3,421.8L630.7,421.9L632.1,422.0L633.5,422.1L634.9,422.3L636.2,422.4L637.6,422.6L639.0,422.8L640.4,423.0L641.8,423.2L643.2,423.5L644.6,423.8L646.0,424.0L647.4,424.3L648.8,424.5L650.2,424.8L651.6,425.0L653.0,425.2L654.4,425.4L655.8,425.6L657.2,425.7L658.6,425.9L660.0,426.0" stroke="#15151a" stroke-width="1.9" fill="none" stroke-linejoin="round" stroke-linecap="round"/>
<g fill="#e68994"><path id="b46p" d="M678.83,459V439.1H679.77V439.2H680.70V437.3H681.63V440.0H682.57V429.9H683.50V431.3H684.43V434.6H685.37V430.8H686.30V436.8H687.23V435.5H688.17V436.2H689.10V431.6H690.03V431.8H690.97V433.8H691.90V429.4H692.83V427.3H693.77V431.0H694.70V427.2H695.63V427.6H696.57V431.0H697.50V433.9H698.43V427.7H699.37V432.8H700.30V430.0H701.23V427.6H702.17V431.7H703.10V430.1H704.03V424.5H704.97V429.1H705.90V428.1H706.83V414.5H707.77V421.7H708.70V428.4H709.63V416.1H710.57V426.8H711.50V426.1H712.43V428.4H713.37V424.0H714.30V429.5H715.23V429.7H716.17V428.4H717.10V427.2H718.03V427.2H718.97V429.8H719.90V431.7H720.83V429.8H721.77V428.3H722.70V425.0H723.63V423.9H724.57V459ZM725.50,459V432.2H726.43V415.5H727.37V432.8H728.30V459ZM729.23,459V426.9H730.17V424.1H731.10V422.7H732.03V422.9H732.97V424.8H733.90V419.8H734.83V410.8H735.77V421.5H736.70V459ZM737.63,459V419.8H738.57V426.5H739.50V416.8H740.43V423.8H741.37V418.8H742.30V416.5H743.23V459ZM744.17,459V418.8H745.10V413.4H746.03V419.3H746.97V410.5H747.90V459ZM748.83,459V414.4H749.77V417.5H750.70V412.5H751.63V412.9H752.57V414.8H753.50V407.2H754.43V411.2H755.37V459ZM756.30,459V411.5H757.23V407.2H758.17V459ZM759.10,459V409.5H760.03V459Z"/></g><use href="#b46p" fill="url(#st6)"/>
<path d="M679.6,438.1L680.9,437.2L682.3,436.3L683.7,435.4L685.0,434.6L686.4,433.9L687.7,433.1L689.1,432.4L690.5,431.7L691.8,431.1L693.2,430.5L694.6,430.0L695.9,429.4L697.3,428.9L698.6,428.4L700.0,428.0L701.4,427.6L702.7,427.1L704.1,426.7L705.5,426.3L706.8,426.0L708.2,425.8L709.5,425.9L710.9,426.3L712.3,426.8L713.6,427.4L715.0,427.9L716.4,428.3L717.7,428.7L719.1,429.1L720.4,429.3L721.8,429.2L723.2,428.8L724.5,428.2L725.9,427.5L727.3,426.8L728.6,426.0L730.0,425.2L731.3,424.3L732.7,423.4L734.1,422.5L735.4,421.6L736.8,420.8L738.2,420.0L739.5,419.2L740.9,418.4L742.2,417.7L743.6,416.9L745.0,416.2L746.3,415.6L747.7,414.9L749.1,414.2L750.4,413.6L751.8,412.9L753.1,412.1L754.5,411.4L755.9,410.7L757.2,409.9L758.6,409.1L760.0,408.4" stroke="#15151a" stroke-width="1.9" fill="none" stroke-linejoin="round" stroke-linecap="round"/>
<g fill="#e68994"><path id="b50p" d="M74.10,545V536.8H75.03V538.5H75.97V534.4H76.90V533.0H77.83V529.2H78.77V526.0H79.70V528.7H80.63V525.1H81.57V521.6H82.50V522.1H83.43V520.0H84.37V516.0H85.30V511.9H86.23V506.7H87.17V512.0H88.10V509.8H89.03V510.0H90.67V545ZM119.13,545V510.8H120.77V513.3H121.70V511.2H122.63V514.4H123.57V510.1H124.50V510.7H125.43V509.7H126.37V512.7H127.30V512.4H128.23V514.4H129.17V508.4H130.10V510.8H131.03V545ZM131.97,545V504.2H132.90V511.7H133.83V507.5H134.77V511.9H135.70V509.9H136.63V509.0H137.57V510.6H138.50V510.3H139.43V510.8H140.37V512.6H141.30V512.5H142.23V510.2H143.17V510.8H144.10V507.4H145.03V513.5H145.97V509.3H146.90V511.1H147.83V509.8H148.77V509.5H149.70V508.5H150.63V506.9H151.57V512.0H152.50V506.4H153.43V509.4H154.37V506.5H155.30V506.1H156.23V504.5H157.17V502.8H158.10V502.2H159.03V505.3H159.97V503.4H160.90V545Z"/></g><use href="#b50p" fill="url(#st0)"/>
<g fill="#9996b2"><path id="b50u" d="M89.97,545V508.9H90.90V509.3H91.83V504.2H92.77V506.6H93.70V507.4H94.63V504.5H95.57V506.7H96.50V506.0H97.43V507.9H98.37V507.3H99.30V507.4H100.23V507.7H101.17V507.8H102.10V507.0H103.03V505.4H103.97V516.9H104.90V509.6H105.83V509.7H106.77V510.6H107.70V509.5H108.63V510.1H109.57V509.1H110.50V508.1H111.43V505.6H112.37V510.3H113.30V510.0H114.23V511.3H115.17V512.2H116.10V517.9H117.03V514.4H117.97V506.7H118.90V517.2H119.83V545Z"/></g><use href="#b50u" fill="url(#st0)"/>
<path d="M74.4,539.5L75.8,536.2L77.3,533.0L78.8,529.8L80.2,526.5L81.7,523.0L83.2,519.7L84.6,516.9L86.1,514.5L87.6,512.3L89.0,510.5L90.5,509.3L92.0,508.6L93.4,508.0L94.9,507.5L96.4,507.3L97.8,507.3L99.3,507.5L100.8,507.9L102.2,508.3L103.7,508.7L105.2,509.1L106.6,509.6L108.1,510.1L109.6,510.7L111.0,511.2L112.5,511.6L114.0,511.9L115.4,512.2L116.9,512.4L118.4,512.6L119.8,512.7L121.3,512.8L122.8,512.8L124.2,512.7L125.7,512.6L127.2,512.4L128.6,512.3L130.1,512.2L131.6,512.1L133.0,512.0L134.5,512.0L136.0,511.9L137.4,511.8L138.9,511.7L140.4,511.6L141.8,511.5L143.3,511.3L144.8,511.0L146.2,510.6L147.7,510.0L149.2,509.3L150.6,508.6L152.1,507.8L153.6,507.0L155.0,506.1L156.5,505.2L158.0,504.2L159.4,503.1L160.9,501.9" stroke="#15151a" stroke-width="1.9" fill="none" stroke-linejoin="round" stroke-linecap="round"/>
<g fill="#e68994"><path id="b51p" d="M181.27,545V517.6H182.20V545ZM183.13,545V509.8H184.07V512.8H185.00V513.9H185.93V513.6H186.87V545ZM187.80,545V512.8H188.73V511.1H189.67V510.2H190.60V509.4H191.53V514.1H192.47V520.0H193.40V509.9H194.33V509.9H195.97V545ZM218.83,545V505.6H220.47V517.6H221.40V513.0H222.33V514.9H223.27V514.2H224.20V514.2H225.13V511.2H226.07V511.9H227.00V520.0H227.93V516.9H228.87V515.1H229.80V517.3H230.73V511.1H231.67V517.4H232.60V516.0H233.53V515.8H234.47V511.1H235.40V514.8H236.33V515.2H237.27V509.4H238.20V515.7H239.13V512.0H240.07V511.9H241.00V512.8H241.93V512.2H242.87V511.4H243.80V513.0H244.73V514.5H245.67V512.1H246.60V508.0H247.53V511.1H248.47V512.3H249.40V512.9H250.33V512.8H251.27V513.5H252.20V513.0H253.13V512.6H254.07V511.5H255.00V510.4H255.93V511.2H256.87V509.1H257.80V507.8H258.73V512.6H259.67V505.6H260.60V545Z"/></g><use href="#b51p" fill="url(#st1)"/>
<g fill="#9996b2"><path id="b51u" d="M195.27,545V506.7H196.20V508.0H197.13V509.4H198.07V511.2H199.00V511.9H199.93V509.7H200.87V515.1H201.80V511.8H202.73V512.3H203.67V510.3H204.60V512.4H205.53V509.8H206.47V513.4H207.40V510.0H208.33V513.7H209.27V513.3H210.20V511.8H211.13V506.7H212.07V514.0H213.00V511.0H213.93V510.9H214.87V514.1H215.80V512.5H216.73V513.2H217.67V512.1H218.60V512.2H219.53V545Z"/></g><use href="#b51u" fill="url(#st1)"/>
<path d="M182.6,514.9L184.0,514.1L185.3,513.4L186.6,512.8L187.9,512.2L189.2,511.8L190.6,511.4L191.9,510.9L193.2,510.6L194.5,510.4L195.8,510.4L197.2,510.4L198.5,510.6L199.8,510.8L201.1,511.0L202.4,511.2L203.8,511.4L205.1,511.6L206.4,511.8L207.7,512.0L209.1,512.2L210.4,512.3L211.7,512.4L213.0,512.4L214.3,512.4L215.7,512.3L217.0,512.3L218.3,512.2L219.6,512.2L220.9,512.3L222.3,512.6L223.6,513.1L224.9,513.6L226.2,513.9L227.5,514.0L228.9,514.2L230.2,514.4L231.5,514.4L232.8,514.4L234.1,514.4L235.5,514.2L236.8,514.0L238.1,513.8L239.4,513.6L240.8,513.4L242.1,513.2L243.4,513.0L244.7,512.8L246.0,512.6L247.4,512.4L248.7,512.2L250.0,512.0L251.3,511.8L252.6,511.6L254.0,511.4L255.3,511.1L256.6,510.7L257.9,510.3L259.2,509.8L260.6,509.3" stroke="#15151a" stroke-width="1.9" fill="none" stroke-linejoin="round" stroke-linecap="round"/>
<g fill="#e68994"><path id="b52p" d="M281.90,545V529.2H283.53V545ZM336.97,545V505.1H337.90V511.5H338.83V507.1H339.77V508.3H340.70V545ZM341.63,545V499.5H342.57V545ZM343.50,545V505.5H344.43V513.2H345.37V506.4H346.30V504.9H347.23V512.1H348.17V510.9H349.10V506.8H350.03V508.3H350.97V506.9H351.90V545ZM352.83,545V510.8H353.77V506.9H354.70V505.1H355.63V508.0H356.57V508.7H357.50V509.8H358.43V545ZM359.37,545V512.0H360.30V507.0H361.23V545Z"/></g><use href="#b52p" fill="url(#st2)"/>
<g fill="#9996b2"><path id="b52u" d="M282.83,545V525.5H283.77V524.4H284.70V529.2H285.63V526.7H286.57V522.0H287.50V521.5H288.43V521.8H289.37V515.0H290.30V517.8H291.23V513.1H292.17V513.1H293.10V517.0H294.03V523.1H294.97V511.5H295.90V514.0H296.83V513.1H297.77V503.6H298.70V545ZM299.63,545V510.8H300.57V516.4H301.50V511.8H302.43V507.9H303.37V509.4H304.30V509.6H305.23V511.6H306.17V511.1H307.10V505.6H308.03V509.5H308.97V510.2H309.90V508.9H310.83V509.9H311.77V504.6H312.70V510.9H313.63V512.5H314.57V510.1H315.50V513.6H316.43V508.7H317.37V509.7H318.30V515.6H319.23V545ZM320.17,545V509.1H321.10V513.2H322.03V498.5H322.97V507.0H323.90V513.0H324.83V506.2H325.77V508.2H326.70V514.0H327.63V545ZM328.57,545V509.7H329.50V510.1H330.43V508.4H331.37V510.3H332.30V507.5H333.23V507.3H334.17V545ZM335.10,545V509.6H336.03V545Z"/></g><use href="#b52u" fill="url(#st2)"/>
<path d="M282.2,531.3L283.5,528.7L284.8,526.3L286.2,524.2L287.5,522.3L288.8,520.7L290.2,519.1L291.5,517.8L292.9,516.6L294.2,515.7L295.5,514.8L296.9,514.0L298.2,513.4L299.5,512.9L300.9,512.7L302.2,512.4L303.5,512.3L304.9,512.1L306.2,512.0L307.5,511.9L308.9,511.7L310.2,511.5L311.5,511.4L312.9,511.2L314.2,511.0L315.5,510.9L316.9,510.7L318.2,510.5L319.5,510.3L320.9,510.1L322.2,510.0L323.6,509.8L324.9,509.7L326.2,509.6L327.6,509.6L328.9,509.5L330.2,509.4L331.6,509.4L332.9,509.3L334.2,509.3L335.6,509.3L336.9,509.2L338.2,509.2L339.6,509.2L340.9,509.1L342.2,509.0L343.6,508.8L344.9,508.6L346.2,508.4L347.6,508.2L348.9,508.1L350.2,508.1L351.6,508.1L352.9,508.1L354.3,508.1L355.6,508.1L356.9,508.2L358.3,508.2L359.6,508.2L360.9,508.3" stroke="#15151a" stroke-width="1.9" fill="none" stroke-linejoin="round" stroke-linecap="round"/>
<g fill="#e68994"><path id="b53p" d="M365.73,545V535.4H366.67V529.1H367.60V528.2H368.53V528.1H369.47V526.3H370.40V525.2H371.33V525.6H372.27V518.9H373.20V517.5H374.13V519.1H375.07V521.2H376.00V518.0H376.93V515.2H377.87V515.1H378.80V514.6H379.73V515.6H380.67V515.9H382.30V545ZM425.70,545V510.9H427.33V513.0H428.27V511.9H429.20V513.3H430.13V517.1H431.07V509.8H432.00V513.4H432.93V519.4H433.87V514.7H434.80V513.2H435.73V514.3H436.67V510.6H437.60V514.5H438.53V513.7H439.47V510.5H440.40V508.7H441.33V511.8H442.27V512.8H443.20V513.1H444.13V515.0H445.07V510.4H446.00V517.7H446.93V512.6H447.87V511.2H448.80V514.3H449.73V510.7H450.67V512.7H451.60V512.1H452.53V508.7H453.47V511.0H454.40V512.4H455.33V507.4H456.27V511.2H457.20V507.9H458.13V509.6H459.07V511.5H460.00V509.6H460.93V545Z"/></g><use href="#b53p" fill="url(#st3)"/>
<g fill="#9996b2"><path id="b53u" d="M381.60,545V514.1H382.53V511.9H383.47V512.7H384.40V502.1H385.33V507.2H386.27V507.1H387.20V507.4H388.13V545ZM389.07,545V508.5H390.00V501.5H390.93V506.7H391.87V506.9H392.80V503.8H393.73V507.6H394.67V506.0H395.60V501.5H396.53V507.8H397.47V545ZM398.40,545V508.6H399.33V506.9H400.27V505.2H401.20V506.6H402.13V509.8H403.07V520.0H404.00V510.7H404.93V511.9H405.87V512.9H406.80V545ZM407.73,545V512.2H408.67V509.7H409.60V512.8H410.53V507.4H411.47V511.8H412.40V504.2H413.33V507.4H414.27V545ZM415.20,545V512.1H416.13V516.3H417.07V515.0H418.00V511.3H418.93V511.5H419.87V511.2H420.80V511.8H421.73V509.4H422.67V511.1H423.60V508.2H424.53V509.1H425.47V511.2H426.40V545Z"/></g><use href="#b53u" fill="url(#st3)"/>
<path d="M367.1,530.9L368.7,528.7L370.2,526.5L371.8,524.4L373.4,522.3L375.0,520.2L376.6,518.2L378.2,516.2L379.8,514.1L381.3,512.1L382.9,510.3L384.5,509.1L386.1,508.1L387.7,507.2L389.3,506.6L390.9,506.3L392.4,506.4L394.0,506.8L395.6,507.5L397.2,508.2L398.8,508.8L400.4,509.6L401.9,510.3L403.5,510.9L405.1,511.2L406.7,511.4L408.3,511.5L409.9,511.6L411.5,511.7L413.0,511.8L414.6,511.9L416.2,512.0L417.8,512.0L419.4,512.1L421.0,512.2L422.6,512.3L424.1,512.4L425.7,512.6L427.3,512.7L428.9,512.8L430.5,512.9L432.1,513.0L433.6,513.1L435.2,513.2L436.8,513.2L438.4,513.2L440.0,513.0L441.6,512.7L443.2,512.3L444.7,512.0L446.3,511.6L447.9,511.3L449.5,510.9L451.1,510.5L452.7,510.3L454.3,510.1L455.8,510.1L457.4,510.0L459.0,510.0L460.6,509.9" stroke="#15151a" stroke-width="1.9" fill="none" stroke-linejoin="round" stroke-linecap="round"/>
<g fill="#e68994"><path id="b54p" d="M476.63,545V540.9H477.57V540.3H478.50V535.8H479.43V537.6H480.37V531.4H481.30V535.2H482.23V516.9H483.17V530.5H484.10V525.2H485.03V524.1H485.97V520.4H486.90V521.8H487.83V521.5H488.77V517.5H490.40V545ZM516.77,545V503.6H517.70V509.6H518.63V510.0H519.57V512.7H520.50V511.6H521.43V512.1H522.37V510.2H523.30V511.2H524.23V506.4H525.17V510.8H526.10V513.8H527.03V545ZM527.97,545V502.1H528.90V509.3H529.83V510.0H530.77V509.7H531.70V508.8H532.63V509.3H533.57V508.8H534.50V508.0H535.43V545ZM536.37,545V510.1H537.30V503.6H538.23V510.0H539.17V510.3H540.10V507.5H541.03V510.3H541.97V511.8H542.90V509.9H543.83V510.9H544.77V545ZM545.70,545V499.5H546.63V505.0H547.57V507.2H548.50V506.5H549.43V508.4H550.37V510.7H551.30V502.3H552.23V505.9H553.17V505.7H554.10V545ZM555.03,545V507.9H555.97V504.1H556.90V498.5H557.83V504.9H558.77V504.2H559.70V509.5H560.63V545Z"/></g><use href="#b54p" fill="url(#st4)"/>
<g fill="#9996b2"><path id="b54u" d="M489.70,545V521.0H490.63V516.3H491.57V514.8H492.50V510.6H493.43V511.3H494.37V513.2H495.30V512.1H496.23V513.9H497.17V507.3H498.10V513.3H499.03V511.6H499.97V511.2H500.90V510.5H501.83V509.7H502.77V513.3H503.70V512.0H504.63V512.1H505.57V512.1H506.50V512.1H507.43V512.7H508.37V513.5H509.30V516.5H510.23V510.3H511.17V510.7H512.10V511.6H513.03V510.6H513.97V510.2H514.90V515.3H515.83V545Z"/></g><use href="#b54u" fill="url(#st4)"/>
<path d="M477.9,540.5L479.3,537.9L480.7,535.2L482.1,532.4L483.5,529.4L484.9,526.0L486.3,522.8L487.6,520.1L489.0,518.0L490.4,516.0L491.8,514.5L493.2,513.7L494.6,513.2L496.0,512.8L497.4,512.5L498.8,512.4L500.2,512.4L501.6,512.5L503.0,512.6L504.4,512.7L505.8,512.8L507.2,512.8L508.6,512.7L510.0,512.5L511.3,512.3L512.7,511.9L514.1,511.6L515.5,511.4L516.9,511.1L518.3,510.9L519.7,510.7L521.1,510.5L522.5,510.3L523.9,510.1L525.3,509.9L526.7,509.6L528.1,509.4L529.5,509.3L530.9,509.4L532.3,509.5L533.6,509.6L535.0,509.8L536.4,509.9L537.8,509.9L539.2,509.9L540.6,509.6L542.0,509.3L543.4,508.9L544.8,508.5L546.2,508.0L547.6,507.5L549.0,506.9L550.4,506.3L551.8,505.8L553.2,505.4L554.6,505.1L555.9,504.7L557.3,504.5L558.7,504.2L560.1,504.0" stroke="#15151a" stroke-width="1.9" fill="none" stroke-linejoin="round" stroke-linecap="round"/>
<g fill="#e68994"><path id="b55p" d="M570.73,545V544.0H571.67V540.4H572.60V541.8H573.53V536.4H574.47V535.9H575.40V533.0H577.03V545ZM626.03,545V509.8H627.67V508.4H628.60V508.8H629.53V507.9H630.47V510.0H631.40V508.5H632.33V508.0H633.27V507.7H634.20V507.5H635.13V509.3H636.07V505.3H637.00V504.2H637.93V506.7H638.87V505.9H639.80V506.6H640.73V506.9H641.67V507.2H642.60V506.3H643.53V506.0H644.47V501.5H645.40V503.0H646.33V506.5H647.27V506.2H648.20V505.8H649.13V504.6H650.07V502.3H651.00V503.1H651.93V502.8H652.87V505.7H653.80V505.5H654.73V504.3H655.67V502.3H656.60V501.9H657.53V502.7H658.47V503.8H659.40V502.4H660.33V545Z"/></g><use href="#b55p" fill="url(#st5)"/>
<g fill="#9996b2"><path id="b55u" d="M576.33,545V532.1H577.27V534.3H578.20V527.7H579.13V528.9H580.07V525.6H581.00V521.1H581.93V521.6H582.87V523.9H583.80V518.3H584.73V518.1H585.67V514.2H586.60V513.0H587.53V513.4H588.47V513.3H589.40V513.9H590.33V511.0H591.27V513.0H592.20V512.2H593.13V513.0H594.07V509.3H595.00V514.0H595.93V511.0H596.87V512.1H597.80V545ZM598.73,545V505.6H599.67V509.2H600.60V510.1H601.53V509.2H602.47V510.3H603.40V510.6H604.33V510.7H605.27V510.3H606.20V510.0H607.13V512.1H608.07V512.4H609.00V513.8H609.93V508.7H610.87V510.5H611.80V506.5H612.73V509.0H613.67V511.3H614.60V507.6H615.53V505.0H616.47V508.8H617.40V510.6H618.33V507.2H619.27V512.4H620.20V509.6H621.13V504.6H622.07V508.2H623.00V509.3H623.93V509.0H624.87V507.8H625.80V509.8H626.73V545Z"/></g><use href="#b55u" fill="url(#st5)"/>
<path d="M570.8,544.0L572.3,541.3L573.8,538.5L575.3,535.5L576.8,532.3L578.4,528.8L579.9,525.3L581.4,522.5L582.9,520.2L584.4,518.1L585.9,516.4L587.4,515.1L588.9,514.1L590.4,513.3L592.0,512.6L593.5,512.2L595.0,511.9L596.5,511.7L598.0,511.5L599.5,511.4L601.0,511.2L602.5,511.1L604.1,510.9L605.6,510.7L607.1,510.6L608.6,510.5L610.1,510.3L611.6,510.2L613.1,510.1L614.6,510.0L616.2,509.9L617.7,509.8L619.2,509.6L620.7,509.5L622.2,509.5L623.7,509.3L625.2,509.2L626.7,509.1L628.2,508.8L629.8,508.6L631.3,508.3L632.8,508.0L634.3,507.7L635.8,507.4L637.3,507.1L638.8,506.8L640.3,506.5L641.9,506.2L643.4,505.9L644.9,505.7L646.4,505.4L647.9,505.2L649.4,505.0L650.9,504.8L652.4,504.6L654.0,504.4L655.5,504.2L657.0,504.1L658.5,503.9L660.0,503.8" stroke="#15151a" stroke-width="1.9" fill="none" stroke-linejoin="round" stroke-linecap="round"/>
<g fill="#e68994"><path id="b56p" d="M681.63,545V522.0H682.57V515.9H683.50V516.8H684.43V514.5H685.37V515.1H686.30V516.1H687.23V514.7H688.17V515.3H689.10V509.7H690.03V515.1H690.97V516.6H691.90V512.4H692.83V515.0H693.77V514.9H694.70V516.0H695.63V514.1H696.57V514.0H697.50V512.0H698.43V512.9H699.37V514.5H700.30V516.1H701.23V515.5H702.17V517.9H703.10V515.3H704.03V518.6H704.97V525.1H705.90V515.8H706.83V513.2H707.77V515.3H708.70V514.6H709.63V516.7H710.57V517.1H711.50V517.8H712.43V527.2H713.37V512.5H714.30V512.3H715.23V510.8H716.17V513.9H717.10V516.9H718.03V515.8H718.97V515.3H719.90V512.7H720.83V513.5H721.77V515.2H722.70V515.7H723.63V515.5H724.57V511.9H725.50V527.2H726.43V513.6H727.37V511.4H728.30V514.8H729.23V516.3H730.17V517.1H731.10V510.8H732.03V512.6H732.97V514.4H733.90V515.7H734.83V515.7H735.77V509.7H736.70V515.6H737.63V511.4H738.57V511.9H739.50V514.7H740.43V517.9H741.37V522.0H742.30V515.5H743.23V514.7H744.17V514.9H745.10V511.6H746.03V512.2H746.97V514.5H747.90V513.7H748.83V515.8H749.77V511.6H750.70V545ZM751.63,545V512.2H752.57V514.0H753.50V517.2H754.43V511.6H755.37V511.9H756.30V510.8H757.23V509.7H758.17V507.2H759.10V506.4H760.03V545Z"/></g><use href="#b56p" fill="url(#st6)"/>
<path d="M682.4,520.4L683.8,519.1L685.1,517.9L686.4,516.9L687.7,516.1L689.0,515.5L690.3,515.0L691.6,514.5L693.0,514.2L694.3,514.0L695.6,514.1L696.9,514.3L698.2,514.5L699.5,514.7L700.8,514.9L702.1,515.1L703.5,515.3L704.8,515.5L706.1,515.7L707.4,515.8L708.7,515.9L710.0,515.9L711.3,515.8L712.7,515.7L714.0,515.6L715.3,515.6L716.6,515.5L717.9,515.4L719.2,515.4L720.5,515.4L721.9,515.4L723.2,515.3L724.5,515.3L725.8,515.2L727.1,515.2L728.4,515.1L729.7,515.0L731.1,514.9L732.4,514.9L733.7,514.9L735.0,515.0L736.3,515.4L737.6,515.8L738.9,516.1L740.3,516.4L741.6,516.5L742.9,516.4L744.2,516.2L745.5,515.9L746.8,515.5L748.1,515.1L749.4,514.6L750.8,514.0L752.1,513.3L753.4,512.6L754.7,511.9L756.0,511.2L757.3,510.4L758.6,509.6L760.0,508.7" stroke="#15151a" stroke-width="1.9" fill="none" stroke-linejoin="round" stroke-linecap="round"/>
<g fill="#e68994"><path id="b60p" d="M81.57,631V607.8H82.50V607.3H83.43V615.2H84.37V601.1H85.30V604.0H86.23V597.8H87.17V603.1H88.10V598.8H89.03V601.7H89.97V606.6H90.90V594.7H92.53V631ZM117.27,631V599.5H118.90V600.3H119.83V600.9H120.77V600.7H121.70V604.6H122.63V598.7H123.57V592.2H124.50V604.9H125.43V599.5H126.37V599.5H127.30V597.0H128.23V595.1H129.17V596.8H130.10V606.1H131.03V594.3H131.97V598.2H132.90V599.2H133.83V594.8H134.77V601.1H135.70V595.8H136.63V591.6H137.57V603.8H138.50V594.0H139.43V598.7H140.37V606.0H141.30V598.1H142.23V595.1H143.17V600.0H144.10V600.2H145.03V599.5H145.97V597.2H146.90V598.0H147.83V597.8H148.77V598.2H149.70V596.2H150.63V597.2H151.57V604.8H152.50V605.0H153.43V603.7H154.37V600.8H155.30V599.6H156.23V601.0H157.17V595.7H158.10V597.4H159.03V599.4H159.97V603.4H160.90V631Z"/></g><use href="#b60p" fill="url(#st0)"/>
<g fill="#9996b2"><path id="b60u" d="M91.83,631V600.6H92.77V605.6H93.70V608.0H94.63V598.6H95.57V605.5H96.50V601.9H97.43V603.2H98.37V599.8H99.30V600.3H100.23V601.8H101.17V593.7H102.10V603.9H103.03V602.4H103.97V601.9H104.90V605.8H105.83V601.2H106.77V606.8H107.70V613.2H108.63V605.8H109.57V603.5H110.50V602.1H111.43V605.5H112.37V604.3H113.30V603.1H114.23V614.2H115.17V606.1H116.10V607.4H117.03V599.2H117.97V631Z"/></g><use href="#b60u" fill="url(#st0)"/>
<path d="M82.1,606.4L83.5,605.5L84.8,604.8L86.2,604.1L87.5,603.6L88.8,603.2L90.2,602.8L91.5,602.5L92.8,602.3L94.2,602.3L95.5,602.3L96.8,602.4L98.2,602.6L99.5,602.7L100.8,602.9L102.2,603.1L103.5,603.5L104.8,603.8L106.2,604.2L107.5,604.4L108.8,604.6L110.2,604.8L111.5,604.9L112.8,605.0L114.2,604.9L115.5,604.5L116.9,604.0L118.2,603.4L119.5,602.9L120.9,602.4L122.2,601.9L123.5,601.3L124.9,600.8L126.2,600.3L127.5,599.9L128.9,599.5L130.2,599.2L131.5,598.8L132.9,598.5L134.2,598.3L135.5,598.2L136.9,598.2L138.2,598.3L139.5,598.5L140.9,598.7L142.2,598.9L143.5,599.1L144.9,599.4L146.2,599.6L147.6,599.9L148.9,600.2L150.2,600.5L151.6,600.7L152.9,601.0L154.2,601.2L155.6,601.4L156.9,601.7L158.2,601.9L159.6,602.1L160.9,602.3" stroke="#15151a" stroke-width="1.9" fill="none" stroke-linejoin="round" stroke-linecap="round"/>
<g fill="#e68994"><path id="b61p" d="M216.03,631V607.5H217.67V606.5H218.60V607.4H219.53V631ZM220.47,631V604.2H221.40V608.8H222.33V604.4H223.27V605.4H224.20V603.0H225.13V607.0H226.07V609.6H227.00V631ZM227.93,631V605.9H228.87V604.2H229.80V605.8H230.73V601.9H231.67V608.7H232.60V603.6H233.53V631ZM234.47,631V600.3H235.40V604.8H236.33V605.7H237.27V598.2H238.20V600.1H239.13V602.7H240.07V601.5H241.00V631ZM241.93,631V596.4H242.87V598.6H243.80V608.2H244.73V602.7H245.67V604.0H246.60V602.6H247.53V631ZM248.47,631V600.0H249.40V603.9H250.33V597.8H251.27V600.0H252.20V605.3H253.13V631ZM254.07,631V598.0H255.00V603.9H255.93V601.1H256.87V597.9H257.80V598.7H258.73V596.4H259.67V599.4H260.60V631Z"/></g><use href="#b61p" fill="url(#st1)"/>
<g fill="#9996b2"><path id="b61u" d="M184.07,631V601.3H185.00V592.2H185.93V595.0H186.87V595.6H187.80V593.6H188.73V591.6H189.67V597.7H190.60V598.2H191.53V585.5H192.47V598.2H193.40V597.1H194.33V597.8H195.27V607.0H196.20V598.5H197.13V605.6H198.07V590.6H199.00V604.6H199.93V612.1H200.87V606.0H201.80V608.5H202.73V603.3H203.67V589.6H204.60V606.5H205.53V605.8H206.47V603.5H207.40V621.4H208.33V595.7H209.27V604.1H210.20V611.0H211.13V608.6H212.07V607.0H213.00V610.1H213.93V607.2H214.87V609.6H215.80V608.6H216.73V631Z"/></g><use href="#b61u" fill="url(#st1)"/>
<path d="M185.1,596.8L186.4,596.6L187.6,596.4L188.9,596.4L190.2,596.4L191.4,596.4L192.7,596.8L194.0,597.8L195.2,598.9L196.5,599.9L197.8,600.9L199.1,601.9L200.3,602.8L201.6,603.6L202.9,604.2L204.1,604.9L205.4,605.4L206.7,605.8L207.9,606.0L209.2,606.2L210.5,606.3L211.7,606.3L213.0,606.4L214.3,606.4L215.5,606.3L216.8,606.2L218.1,606.1L219.4,605.9L220.6,605.8L221.9,605.6L223.2,605.4L224.4,605.3L225.7,605.1L227.0,604.9L228.2,604.7L229.5,604.5L230.8,604.2L232.0,604.0L233.3,603.7L234.6,603.4L235.8,603.1L237.1,602.8L238.4,602.5L239.7,602.2L240.9,601.9L242.2,601.7L243.5,601.4L244.7,601.1L246.0,600.9L247.3,600.8L248.5,600.7L249.8,600.5L251.1,600.4L252.3,600.3L253.6,600.3L254.9,600.2L256.1,600.3L257.4,600.3L258.7,600.4L260.0,600.5" stroke="#15151a" stroke-width="1.9" fill="none" stroke-linejoin="round" stroke-linecap="round"/>
<g fill="#e68994"><path id="b62p" d="M288.43,631V599.1H289.37V601.9H290.30V602.9H291.23V603.2H292.17V599.7H293.10V604.5H294.03V609.1H294.97V605.0H295.90V605.6H296.83V631ZM298.70,631V592.7H299.63V606.2H300.57V631ZM302.43,631V606.3H303.37V604.0H304.30V631ZM305.23,631V604.0H306.17V612.9H307.10V603.3H308.03V613.2H308.97V631ZM309.90,631V608.6H310.83V595.7H311.77V631ZM313.63,631V600.6H314.57V601.1H315.50V578.3H316.43V604.0H317.37V610.0H318.30V598.6H319.23V602.8H320.17V604.2H321.10V601.6H322.03V601.8H322.97V594.7H323.90V631ZM324.83,631V610.1H325.77V605.0H326.70V601.9H327.63V602.0H328.57V631ZM329.50,631V604.5H330.43V631ZM332.30,631V591.6H333.23V601.5H334.17V600.1H335.10V601.9H336.03V600.6H336.97V603.8H337.90V631ZM338.83,631V602.2H339.77V594.7H340.70V631ZM341.63,631V601.4H342.57V631ZM343.50,631V598.6H344.43V605.0H345.37V604.0H346.30V602.5H347.23V602.7H348.17V599.3H349.10V631ZM350.03,631V607.8H350.97V604.3H351.90V599.3H352.83V604.3H353.77V603.8H354.70V604.8H355.63V593.7H356.57V597.2H357.50V601.0H358.43V599.2H359.37V631Z"/></g><use href="#b62p" fill="url(#st2)"/>
<path d="M289.8,598.8L290.9,599.6L292.1,600.4L293.3,601.1L294.5,601.8L295.7,602.4L296.9,603.0L298.0,603.5L299.2,604.0L300.4,604.5L301.6,604.8L302.8,605.1L303.9,605.4L305.1,605.7L306.3,605.9L307.5,606.0L308.7,606.0L309.9,605.7L311.0,605.2L312.2,604.5L313.4,603.9L314.6,603.3L315.8,603.0L316.9,602.9L318.1,603.0L319.3,603.2L320.5,603.4L321.7,603.6L322.9,603.8L324.0,603.9L325.2,603.9L326.4,603.9L327.6,603.8L328.8,603.7L329.9,603.6L331.1,603.5L332.3,603.3L333.5,603.0L334.7,602.7L335.9,602.4L337.0,602.1L338.2,601.9L339.4,601.9L340.6,602.1L341.8,602.4L342.9,602.8L344.1,603.1L345.3,603.3L346.5,603.5L347.7,603.7L348.9,603.8L350.0,603.9L351.2,603.9L352.4,603.8L353.6,603.5L354.8,603.1L355.9,602.4L357.1,601.7L358.3,600.8L359.5,599.8" stroke="#15151a" stroke-width="1.9" fill="none" stroke-linejoin="round" stroke-linecap="round"/>
<g fill="#e68994"><path id="b63p" d="M439.70,631V595.7H441.33V599.8H442.27V597.2H443.20V600.9H444.13V597.1H445.07V600.4H446.00V603.1H446.93V593.7H447.87V599.0H448.80V583.4H449.73V596.9H450.67V601.6H451.60V592.9H452.53V599.0H453.47V595.7H454.40V592.9H455.33V598.0H456.27V594.5H457.20V592.7H458.13V598.2H459.07V601.7H460.00V598.9H460.93V631Z"/></g><use href="#b63p" fill="url(#st3)"/>
<g fill="#9996b2"><path id="b63u" d="M385.33,631V606.4H386.27V611.9H387.20V609.5H388.13V606.0H389.07V602.2H390.00V606.4H390.93V610.3H391.87V609.4H392.80V603.5H393.73V602.4H394.67V604.1H395.60V606.4H396.53V605.6H397.47V607.6H398.40V602.7H399.33V596.8H400.27V623.4H401.20V601.5H402.13V604.7H403.07V604.7H404.00V609.1H404.93V610.8H405.87V597.8H406.80V607.9H407.73V607.0H408.67V631ZM409.60,631V612.9H410.53V631ZM412.40,631V610.3H413.33V604.8H414.27V617.3H415.20V597.8H416.13V606.3H417.07V613.0H418.00V592.7H418.93V604.8H419.87V603.9H420.80V604.2H421.73V604.8H422.67V601.7H423.60V595.7H424.53V600.1H425.47V613.2H426.40V601.5H427.33V600.8H428.27V604.3H429.20V599.2H430.13V596.8H431.07V605.5H432.00V605.4H432.93V597.9H433.87V600.3H434.80V603.7H435.73V601.4H436.67V599.6H437.60V602.0H438.53V600.3H439.47V599.2H440.40V631Z"/></g><use href="#b63u" fill="url(#st3)"/>
<path d="M386.8,608.0L388.0,607.4L389.3,606.8L390.5,606.4L391.8,606.1L393.0,605.9L394.3,605.8L395.5,605.7L396.8,605.6L398.0,605.6L399.3,605.6L400.5,605.8L401.8,606.0L403.0,606.3L404.3,606.6L405.5,606.8L406.8,607.0L408.0,607.2L409.3,607.4L410.5,607.6L411.8,607.6L413.0,607.5L414.3,607.2L415.5,606.8L416.8,606.3L418.0,605.8L419.3,605.5L420.5,605.2L421.8,605.0L423.1,604.7L424.3,604.5L425.6,604.3L426.8,604.0L428.1,603.7L429.3,603.4L430.6,603.1L431.8,602.8L433.1,602.5L434.3,602.2L435.6,601.8L436.8,601.5L438.1,601.1L439.3,600.7L440.6,600.3L441.8,599.9L443.1,599.6L444.3,599.2L445.6,598.8L446.8,598.4L448.1,598.0L449.3,597.7L450.6,597.5L451.8,597.4L453.1,597.4L454.3,597.4L455.6,597.4L456.8,597.5L458.1,597.5L459.3,597.6L460.6,597.8" stroke="#15151a" stroke-width="1.9" fill="none" stroke-linejoin="round" stroke-linecap="round"/>
<g fill="#e68994"><path id="b64p" d="M477.57,631V608.3H478.50V614.8H479.43V611.0H480.37V611.9H481.30V607.5H482.23V631ZM529.83,631V601.8H530.77V607.5H531.70V604.2H532.63V608.6H533.57V605.0H534.50V604.3H535.43V611.6H536.37V608.1H537.30V607.7H538.23V605.1H539.17V615.0H540.10V609.3H541.03V602.9H541.97V605.2H542.90V608.5H543.83V611.6H544.77V607.8H545.70V607.6H546.63V610.4H547.57V606.1H548.50V602.2H549.43V604.1H550.37V600.2H551.30V599.6H552.23V600.6H553.17V605.8H554.10V600.4H555.03V595.3H555.97V600.5H556.90V631ZM557.83,631V598.5H558.77V594.8H559.70V595.5H560.63V631Z"/></g><use href="#b64p" fill="url(#st4)"/>
<g fill="#9996b2"><path id="b64u" d="M483.17,631V598.8H484.10V605.1H485.03V611.4H485.97V607.5H486.90V600.3H487.83V601.8H488.77V601.5H489.70V631ZM490.63,631V603.6H491.57V602.2H492.50V605.7H493.43V599.5H494.37V607.2H495.30V601.2H496.23V602.2H497.17V631ZM498.10,631V602.2H499.03V596.4H499.97V600.5H500.90V607.9H501.83V612.1H502.77V604.7H503.70V604.2H504.63V606.1H505.57V603.8H506.50V605.1H507.43V607.9H508.37V605.4H509.30V605.3H510.23V606.8H511.17V604.4H512.10V607.5H513.03V606.1H513.97V631ZM514.90,631V601.4H515.83V604.3H516.77V602.6H517.70V603.2H518.63V605.1H519.57V608.0H520.50V604.6H521.43V603.5H522.37V601.4H523.30V600.3H524.23V602.1H525.17V605.6H526.10V600.4H527.03V604.8H527.97V597.8H528.90V631Z"/></g><use href="#b64u" fill="url(#st4)"/>
<path d="M479.1,611.1L480.5,609.5L481.9,608.1L483.2,606.9L484.6,606.0L486.0,605.4L487.4,604.8L488.7,604.4L490.1,604.0L491.5,603.9L492.9,603.7L494.2,603.6L495.6,603.6L497.0,603.5L498.3,603.7L499.7,604.2L501.1,604.8L502.5,605.4L503.8,605.8L505.2,606.0L506.6,606.0L508.0,605.9L509.3,605.9L510.7,605.8L512.1,605.7L513.4,605.6L514.8,605.4L516.2,605.0L517.6,604.7L518.9,604.3L520.3,604.0L521.7,603.9L523.1,604.0L524.4,604.2L525.8,604.5L527.2,604.8L528.6,605.3L529.9,606.1L531.3,607.0L532.7,607.9L534.0,608.5L535.4,608.9L536.8,609.3L538.2,609.5L539.5,609.7L540.9,609.6L542.3,609.2L543.7,608.5L545.0,607.7L546.4,606.9L547.8,606.0L549.1,605.1L550.5,604.0L551.9,602.9L553.3,601.7L554.6,600.5L556.0,599.1L557.4,597.7L558.8,596.3L560.1,594.7" stroke="#15151a" stroke-width="1.9" fill="none" stroke-linejoin="round" stroke-linecap="round"/>
<g fill="#e68994"><path id="b65p" d="M616.70,631V609.8H618.33V609.2H619.27V606.1H620.20V608.6H621.13V601.9H622.07V608.7H623.00V607.5H623.93V612.3H624.87V612.6H625.80V606.8H626.73V619.3H627.67V605.8H628.60V611.3H629.53V608.7H630.47V610.1H631.40V604.9H632.33V606.9H633.27V631ZM634.20,631V607.9H635.13V607.2H636.07V602.3H637.00V609.4H637.93V592.2H638.87V604.7H639.80V594.7H640.73V601.1H641.67V607.1H642.60V602.8H643.53V604.6H644.47V605.5H645.40V604.9H646.33V606.3H647.27V611.0H648.20V614.2H649.13V605.2H650.07V606.9H651.00V608.0H651.93V610.0H652.87V610.8H653.80V606.8H654.73V613.2H655.67V606.8H656.60V609.6H657.53V608.8H658.47V603.9H659.40V607.0H660.33V631Z"/></g><use href="#b65p" fill="url(#st5)"/>
<g fill="#9996b2"><path id="b65u" d="M586.60,631V602.5H587.53V605.0H588.47V608.7H589.40V603.3H590.33V604.9H591.27V603.2H592.20V599.6H593.13V603.0H594.07V596.8H595.00V602.7H595.93V602.0H596.87V598.9H597.80V598.9H598.73V602.4H599.67V611.1H600.60V603.3H601.53V604.3H602.47V596.8H603.40V603.4H604.33V608.0H605.27V594.7H606.20V612.1H607.13V608.2H608.07V609.7H609.00V606.7H609.93V608.4H610.87V604.7H611.80V606.1H612.73V604.3H613.67V611.6H614.60V605.8H615.53V608.2H616.47V607.6H617.40V631Z"/></g><use href="#b65u" fill="url(#st5)"/>
<path d="M587.6,607.0L588.8,606.1L590.1,605.3L591.3,604.6L592.5,604.1L593.7,603.9L595.0,603.7L596.2,603.5L597.4,603.4L598.7,603.3L599.9,603.3L601.1,603.5L602.3,603.7L603.6,604.0L604.8,604.3L606.0,604.6L607.2,604.9L608.5,605.2L609.7,605.5L610.9,605.8L612.1,606.1L613.4,606.4L614.6,606.7L615.8,607.1L617.1,607.4L618.3,607.7L619.5,608.0L620.7,608.2L622.0,608.4L623.2,608.6L624.4,608.8L625.6,608.9L626.9,609.0L628.1,609.1L629.3,609.0L630.6,608.8L631.8,608.4L633.0,608.0L634.2,607.7L635.5,607.3L636.7,606.7L637.9,606.2L639.1,605.8L640.4,605.6L641.6,605.6L642.8,605.7L644.1,605.9L645.3,606.1L646.5,606.4L647.7,606.7L649.0,607.2L650.2,607.7L651.4,608.3L652.6,608.6L653.9,608.8L655.1,609.0L656.3,609.2L657.5,609.4L658.8,609.4L660.0,609.5" stroke="#15151a" stroke-width="1.9" fill="none" stroke-linejoin="round" stroke-linecap="round"/>
<g fill="#e68994"><path id="b66p" d="M726.43,631V618.3H727.37V623.2H728.30V631ZM729.23,631V622.2H730.17V620.9H731.10V631ZM732.03,631V619.0H732.97V631ZM733.90,631V623.1H734.83V631ZM735.77,631V622.0H736.70V619.0H737.63V631ZM738.57,631V622.7H739.50V621.1H740.43V620.2H741.37V620.7H742.30V619.5H743.23V621.2H744.17V617.1H745.10V621.0H746.03V619.6H746.97V612.4H747.90V610.0H748.83V592.2H749.77V609.5H750.70V611.7H751.63V596.8H752.57V608.3H753.50V609.3H754.43V607.7H755.37V599.8H756.30V604.8H757.23V613.1H758.17V602.5H759.10V616.8H760.03V631Z"/></g><use href="#b66p" fill="url(#st6)"/>
<g fill="#9996b2"><path id="b66u" d="M681.63,631V595.2H682.57V589.7H683.50V598.4H684.43V591.8H685.37V592.6H686.30V593.6H687.23V588.6H688.17V591.8H689.10V590.4H690.03V592.4H690.97V585.5H691.90V589.8H692.83V594.6H693.77V596.8H694.70V599.8H695.63V596.9H696.57V588.1H697.50V597.8H698.43V599.3H699.37V596.0H700.30V608.1H701.23V612.1H702.17V604.7H703.10V599.7H704.03V596.4H704.97V609.0H705.90V605.4H706.83V620.3H707.77V603.3H708.70V610.1H709.63V607.4H710.57V599.8H711.50V609.2H712.43V609.7H713.37V614.2H714.30V617.1H715.23V631ZM716.17,631V601.9H717.10V611.1H718.03V616.0H718.97V611.8H719.90V615.5H720.83V615.2H721.77V625.5H722.70V614.6H723.63V617.4H724.57V616.0H725.50V631Z"/></g><use href="#b66u" fill="url(#st6)"/>
<path d="M683.1,593.7L684.4,593.4L685.6,593.2L686.9,593.1L688.2,593.1L689.5,593.1L690.8,593.1L692.1,593.6L693.4,594.4L694.7,595.4L696.0,596.5L697.3,597.5L698.6,598.8L699.9,600.2L701.2,601.6L702.5,602.9L703.8,604.1L705.1,605.3L706.4,606.5L707.7,607.5L709.0,608.2L710.3,608.7L711.6,609.1L712.9,609.5L714.2,609.9L715.5,610.3L716.8,610.8L718.1,611.4L719.4,611.9L720.7,612.6L722.0,613.4L723.2,614.4L724.5,615.4L725.8,616.3L727.1,616.9L728.4,617.1L729.7,617.4L731.0,617.5L732.3,617.7L733.6,617.7L734.9,617.5L736.2,617.2L737.5,616.8L738.8,616.3L740.1,615.8L741.4,615.3L742.7,614.6L744.0,613.9L745.3,613.0L746.6,612.2L747.9,611.4L749.2,610.6L750.5,609.7L751.8,609.0L753.1,608.5L754.4,608.5L755.7,608.8L757.0,609.4L758.3,610.3L759.6,611.5" stroke="#15151a" stroke-width="1.9" fill="none" stroke-linejoin="round" stroke-linecap="round"/>
<g fill="#e68994"><path id="b70p" d="M128.23,717V695.0H129.17V692.9H130.10V693.2H131.03V697.0H131.97V717ZM135.70,717V676.6H136.63V717ZM140.37,717V693.9H141.30V696.2H142.23V698.3H143.17V700.2H144.10V717ZM146.90,717V695.7H147.83V696.8H148.77V702.2H149.70V700.6H150.63V717ZM154.37,717V700.1H155.30V699.0H156.23V704.9H157.17V701.5H158.10V695.6H159.03V717Z"/></g><use href="#b70p" fill="url(#st0)"/>
<g fill="#9996b2"><path id="b70u" d="M93.70,717V671.5H94.63V677.6H95.57V686.7H96.50V687.4H97.43V691.7H98.37V691.2H99.30V692.6H100.23V717ZM101.17,717V689.9H102.10V717ZM104.90,717V695.8H105.83V717ZM109.57,717V694.9H110.50V699.1H111.43V682.8H112.37V717ZM114.23,717V688.9H115.17V693.5H116.10V693.3H117.03V717ZM118.90,717V694.0H119.83V693.0H120.77V692.1H121.70V717ZM122.63,717V694.0H123.57V717Z"/></g><use href="#b70u" fill="url(#st0)"/>
<polygon points="94.9,682.8 97.9,687.3 101.0,690.1 107.2,691.0 113.7,690.6 119.5,693.0 124.6,692.0 130.8,688.9 136.3,686.5 141.0,688.9 145.1,693.0 150.2,695.5 159.5,698.1 159.5,700.8 150.2,698.3 144.1,696.5 137.9,695.5 130.8,696.3 123.6,696.7 115.4,696.7 108.2,696.7 103.1,695.1 99.0,691.4 94.9,685.2" fill="#d2d2d2" fill-opacity="0.75"/>
<path d="M94.9,684.2L96.0,685.9L97.1,687.5L98.1,689.0L99.2,690.2L100.3,691.4L101.4,692.5L102.5,693.3L103.6,693.9L104.7,694.5L105.8,695.0L106.9,695.3L108.0,695.5L109.1,695.5L110.2,695.5L111.3,695.5L112.4,695.5L113.5,695.5L114.6,695.5L115.7,695.5L116.8,695.5L117.9,695.5L119.0,695.5L120.0,695.5L121.1,695.5L122.2,695.5L123.3,695.5L124.4,695.5L125.5,695.4L126.6,695.4L127.7,695.3L128.8,695.2L129.9,695.1L131.0,695.0L132.1,694.9L133.2,694.6L134.3,694.3L135.4,694.0L136.5,693.8L137.6,693.6L138.7,693.7L139.8,693.8L140.8,694.1L141.9,694.4L143.0,694.8L144.1,695.1L145.2,695.4L146.3,695.8L147.4,696.2L148.5,696.6L149.6,696.9L150.7,697.3L151.8,697.6L152.9,697.9L154.0,698.2L155.1,698.5L156.2,698.8L157.3,699.1L158.4,699.3L159.5,699.6" stroke="#15151a" stroke-width="1.9" fill="none" stroke-linejoin="round" stroke-linecap="round"/>
<g fill="#e68994"><path id="b71p" d="M210.43,717V698.2H212.07V717ZM213.00,717V705.8H213.93V717ZM215.80,717V707.6H216.73V709.3H217.67V693.0H218.60V709.5H219.53V717ZM225.13,717V708.2H226.07V709.7H227.00V717ZM227.93,717V710.6H228.87V710.3H229.80V710.2H230.73V700.2H231.67V709.6H232.60V708.4H233.53V709.2H234.47V708.0H235.40V705.9H236.33V717ZM237.27,717V707.7H238.20V717ZM240.07,717V706.1H241.00V704.6H241.93V704.3H242.87V689.9H243.80V717ZM244.73,717V696.7H245.67V697.4H246.60V698.4H247.53V680.7H248.47V688.8H249.40V690.3H250.33V688.3H251.27V694.1H252.20V687.9H253.13V690.0H254.07V686.8H255.00V685.8H255.93V692.1H256.87V689.5H257.80V681.7H258.73V688.8H259.67V693.1H260.60V717Z"/></g><use href="#b71p" fill="url(#st1)"/>
<g fill="#9996b2"><path id="b71u" d="M186.87,717V685.7H187.80V685.7H188.73V690.4H189.67V691.0H190.60V685.5H191.53V687.4H192.47V691.1H193.40V690.7H194.33V691.6H195.27V683.8H196.20V697.6H197.13V690.1H198.07V695.8H199.00V687.4H199.93V691.6H200.87V694.8H201.80V692.1H202.73V695.6H203.67V694.0H204.60V691.3H205.53V695.8H206.47V696.5H207.40V694.8H208.33V698.2H209.27V700.0H210.20V696.3H211.13V717Z"/></g><use href="#b71u" fill="url(#st1)"/>
<path d="M188.2,689.9L189.4,690.0L190.6,690.0L191.9,690.1L193.1,690.1L194.3,690.2L195.5,690.4L196.8,690.7L198.0,691.1L199.2,691.7L200.4,692.4L201.7,693.1L202.9,694.0L204.1,695.0L205.4,696.1L206.6,697.2L207.8,698.3L209.0,699.3L210.3,700.4L211.5,701.5L212.7,702.5L213.9,703.4L215.2,704.1L216.4,704.8L217.6,705.4L218.8,705.9L220.1,706.4L221.3,706.8L222.5,707.3L223.8,707.6L225.0,707.9L226.2,708.0L227.4,707.9L228.7,707.6L229.9,707.2L231.1,706.8L232.3,706.3L233.6,705.9L234.8,705.3L236.0,704.7L237.3,704.0L238.5,703.2L239.7,702.2L240.9,701.0L242.2,699.7L243.4,698.3L244.6,697.1L245.8,695.8L247.1,694.5L248.3,693.2L249.5,692.2L250.8,691.4L252.0,690.7L253.2,690.2L254.4,689.7L255.7,689.5L256.9,689.6L258.1,690.0L259.3,690.6L260.6,691.4" stroke="#15151a" stroke-width="1.9" fill="none" stroke-linejoin="round" stroke-linecap="round"/>
<g fill="#e68994"><path id="b72p" d="M312.00,717V706.9H313.63V715.6H314.57V716.3H315.50V717ZM318.30,717V715.9H319.23V715.2H320.17V717ZM322.03,717V715.3H322.97V714.9H323.90V714.2H324.83V714.6H325.77V715.0H326.70V717ZM329.50,717V716.5H330.43V704.3H331.37V713.5H332.30V717ZM333.23,717V714.7H334.17V717ZM335.10,717V698.1H336.03V717ZM337.90,717V709.5H338.83V717ZM341.63,717V700.7H342.57V704.8H343.50V705.0H344.43V694.0H345.37V704.1H346.30V703.6H347.23V700.7H348.17V701.3H349.10V692.0H350.03V704.3H350.97V703.2H351.90V702.9H352.83V697.0H353.77V700.5H354.70V703.1H355.63V703.9H356.57V699.7H357.50V694.8H358.43V691.0H359.37V701.6H360.30V717Z"/></g><use href="#b72p" fill="url(#st2)"/>
<g fill="#9996b2"><path id="b72u" d="M284.70,717V682.8H285.63V682.1H286.57V689.1H287.50V689.7H288.43V686.7H289.37V689.6H290.30V690.4H291.23V687.8H292.17V686.5H293.10V685.9H294.03V693.2H294.97V691.6H295.90V696.0H296.83V689.6H297.77V692.3H298.70V692.5H299.63V694.8H300.57V702.9H301.50V698.9H302.43V703.4H303.37V696.4H304.30V699.7H305.23V700.8H306.17V702.0H307.10V717ZM308.03,717V712.4H308.97V712.5H309.90V708.0H310.83V705.7H311.77V712.3H312.70V717Z"/></g><use href="#b72u" fill="url(#st2)"/>
<path d="M285.7,686.5L286.9,686.9L288.2,687.4L289.5,688.0L290.7,688.7L292.0,689.4L293.3,690.2L294.5,691.2L295.8,692.2L297.1,693.2L298.3,694.4L299.6,695.8L300.9,697.3L302.2,698.8L303.4,700.4L304.7,701.9L306.0,703.5L307.2,705.2L308.5,706.7L309.8,708.0L311.0,709.0L312.3,709.9L313.6,710.7L314.8,711.3L316.1,711.8L317.4,712.1L318.6,712.4L319.9,712.6L321.2,712.8L322.5,712.9L323.7,712.9L325.0,712.8L326.3,712.6L327.5,712.4L328.8,712.0L330.1,711.7L331.3,711.3L332.6,710.8L333.9,710.1L335.1,709.4L336.4,708.7L337.7,708.0L338.9,707.2L340.2,706.4L341.5,705.6L342.8,704.9L344.0,704.3L345.3,703.7L346.6,703.1L347.8,702.7L349.1,702.3L350.4,702.0L351.6,701.8L352.9,701.6L354.2,701.3L355.4,700.8L356.7,700.1L358.0,699.3L359.2,698.2L360.5,697.1" stroke="#15151a" stroke-width="1.9" fill="none" stroke-linejoin="round" stroke-linecap="round"/>
<g fill="#e68994"><path id="b73p" d="M425.47,717V716.7H426.40V717ZM429.20,717V709.0H430.13V717ZM431.07,717V716.7H432.00V716.7H432.93V716.7H433.87V717ZM434.80,717V716.7H435.73V717ZM436.67,717V707.0H437.60V717ZM439.47,717V716.7H440.40V717ZM441.33,717V716.7H442.27V716.7H443.20V717ZM445.07,717V715.7H446.00V717ZM447.87,717V716.7H448.80V717ZM449.73,717V715.2H450.67V710.2H451.60V698.8H452.53V708.9H453.47V706.2H454.40V705.5H455.33V703.5H456.27V711.3H457.20V702.0H458.13V693.0H459.07V700.5H460.00V699.2H460.93V717Z"/></g><use href="#b73p" fill="url(#st3)"/>
<g fill="#9996b2"><path id="b73u" d="M384.40,717V692.5H385.33V689.8H386.27V688.1H387.20V689.4H388.13V717ZM389.07,717V692.0H390.00V682.8H390.93V688.6H391.87V693.0H392.80V690.7H393.73V688.7H394.67V691.6H395.60V687.4H396.53V696.0H397.47V690.3H398.40V689.2H399.33V695.9H400.27V717ZM401.20,717V695.6H402.13V697.3H403.07V693.7H404.00V702.5H404.93V706.0H405.87V691.0H406.80V702.5H407.73V700.2H408.67V699.8H409.60V703.5H410.53V705.1H411.47V717ZM414.27,717V709.3H415.20V708.4H416.13V717ZM417.07,717V704.9H418.00V714.1H418.93V714.5H419.87V716.7H420.80V714.8H421.73V706.3H422.67V717Z"/></g><use href="#b73u" fill="url(#st3)"/>
<path d="M385.7,692.0L387.0,691.6L388.3,691.3L389.5,691.1L390.8,691.0L392.1,691.0L393.4,691.1L394.6,691.4L395.9,691.8L397.2,692.4L398.4,693.0L399.7,693.7L401.0,694.7L402.2,695.8L403.5,697.0L404.8,698.3L406.0,699.7L407.3,701.3L408.6,703.0L409.8,704.6L411.1,706.1L412.4,707.7L413.6,709.3L414.9,710.7L416.2,711.9L417.5,712.9L418.7,713.7L420.0,714.3L421.3,714.9L422.5,715.4L423.8,715.8L425.1,716.1L426.3,716.5L427.6,716.7L428.9,716.8L430.1,716.8L431.4,716.8L432.7,716.8L433.9,716.8L435.2,716.8L436.5,716.8L437.8,716.8L439.0,716.7L440.3,716.5L441.6,716.2L442.8,715.8L444.1,715.4L445.4,714.8L446.6,714.1L447.9,713.2L449.2,712.3L450.4,711.3L451.7,710.0L453.0,708.5L454.2,707.0L455.5,705.6L456.8,704.3L458.1,702.9L459.3,701.5L460.6,700.2" stroke="#15151a" stroke-width="1.9" fill="none" stroke-linejoin="round" stroke-linecap="round"/>
<rect x="64.9" y="53.0" width="1.1" height="62.5" fill="#606060"/>
<rect x="761.9" y="53.0" width="1.1" height="62.75" fill="#606060"/>
<rect x="58" y="114.80" width="7.4" height="1.1" fill="#606060"/>
<text stroke="#111" stroke-width="0.25" x="54.3" y="119.70" font-size="13.6" text-anchor="end" fill="#111" textLength="18.5" lengthAdjust="spacingAndGlyphs">0.0</text>
<rect x="58" y="97.35" width="7.4" height="1.1" fill="#606060"/>
<text stroke="#111" stroke-width="0.25" x="54.3" y="102.25" font-size="13.6" text-anchor="end" fill="#111" textLength="18.5" lengthAdjust="spacingAndGlyphs">0.8</text>
<rect x="58" y="79.90" width="7.4" height="1.1" fill="#606060"/>
<text stroke="#111" stroke-width="0.25" x="54.3" y="84.80" font-size="13.6" text-anchor="end" fill="#111" textLength="18.5" lengthAdjust="spacingAndGlyphs">1.6</text>
<rect x="58" y="62.45" width="7.4" height="1.1" fill="#606060"/>
<text stroke="#111" stroke-width="0.25" x="54.3" y="67.35" font-size="13.6" text-anchor="end" fill="#111" textLength="18.5" lengthAdjust="spacingAndGlyphs">2.4</text>
<rect x="64.9" y="139.0" width="1.1" height="62.5" fill="#606060"/>
<rect x="761.9" y="139.0" width="1.1" height="62.75" fill="#606060"/>
<rect x="58" y="200.80" width="7.4" height="1.1" fill="#606060"/>
<text stroke="#111" stroke-width="0.25" x="54.3" y="205.70" font-size="13.6" text-anchor="end" fill="#111" textLength="18.5" lengthAdjust="spacingAndGlyphs">0.0</text>
<rect x="58" y="183.35" width="7.4" height="1.1" fill="#606060"/>
<text stroke="#111" stroke-width="0.25" x="54.3" y="188.25" font-size="13.6" text-anchor="end" fill="#111" textLength="18.5" lengthAdjust="spacingAndGlyphs">0.8</text>
<rect x="58" y="165.90" width="7.4" height="1.1" fill="#606060"/>
<text stroke="#111" stroke-width="0.25" x="54.3" y="170.80" font-size="13.6" text-anchor="end" fill="#111" textLength="18.5" lengthAdjust="spacingAndGlyphs">1.6</text>
<rect x="58" y="148.45" width="7.4" height="1.1" fill="#606060"/>
<text stroke="#111" stroke-width="0.25" x="54.3" y="153.35" font-size="13.6" text-anchor="end" fill="#111" textLength="18.5" lengthAdjust="spacingAndGlyphs">2.4</text>
<rect x="64.9" y="225.0" width="1.1" height="62.5" fill="#606060"/>
<rect x="761.9" y="225.0" width="1.1" height="62.75" fill="#606060"/>
<rect x="58" y="286.80" width="7.4" height="1.1" fill="#606060"/>
<text stroke="#111" stroke-width="0.25" x="54.3" y="291.70" font-size="13.6" text-anchor="end" fill="#111" textLength="18.5" lengthAdjust="spacingAndGlyphs">0.0</text>
<rect x="58" y="269.35" width="7.4" height="1.1" fill="#606060"/>
<text stroke="#111" stroke-width="0.25" x="54.3" y="274.25" font-size="13.6" text-anchor="end" fill="#111" textLength="18.5" lengthAdjust="spacingAndGlyphs">0.8</text>
<rect x="58" y="251.90" width="7.4" height="1.1" fill="#606060"/>
<text stroke="#111" stroke-width="0.25" x="54.3" y="256.80" font-size="13.6" text-anchor="end" fill="#111" textLength="18.5" lengthAdjust="spacingAndGlyphs">1.6</text>
<rect x="58" y="234.45" width="7.4" height="1.1" fill="#606060"/>
<text stroke="#111" stroke-width="0.25" x="54.3" y="239.35" font-size="13.6" text-anchor="end" fill="#111" textLength="18.5" lengthAdjust="spacingAndGlyphs">2.4</text>
<rect x="64.9" y="311.0" width="1.1" height="62.5" fill="#606060"/>
<rect x="761.9" y="311.0" width="1.1" height="62.75" fill="#606060"/>
<rect x="58" y="372.80" width="7.4" height="1.1" fill="#606060"/>
<text stroke="#111" stroke-width="0.25" x="54.3" y="377.70" font-size="13.6" text-anchor="end" fill="#111" textLength="18.5" lengthAdjust="spacingAndGlyphs">0.0</text>
<rect x="58" y="355.35" width="7.4" height="1.1" fill="#606060"/>
<text stroke="#111" stroke-width="0.25" x="54.3" y="360.25" font-size="13.6" text-anchor="end" fill="#111" textLength="18.5" lengthAdjust="spacingAndGlyphs">0.8</text>
<rect x="58" y="337.90" width="7.4" height="1.1" fill="#606060"/>
<text stroke="#111" stroke-width="0.25" x="54.3" y="342.80" font-size="13.6" text-anchor="end" fill="#111" textLength="18.5" lengthAdjust="spacingAndGlyphs">1.6</text>
<rect x="58" y="320.45" width="7.4" height="1.1" fill="#606060"/>
<text stroke="#111" stroke-width="0.25" x="54.3" y="325.35" font-size="13.6" text-anchor="end" fill="#111" textLength="18.5" lengthAdjust="spacingAndGlyphs">2.4</text>
<rect x="64.9" y="397.0" width="1.1" height="62.5" fill="#606060"/>
<rect x="761.9" y="397.0" width="1.1" height="62.75" fill="#606060"/>
<rect x="58" y="458.80" width="7.4" height="1.1" fill="#606060"/>
<text stroke="#111" stroke-width="0.25" x="54.3" y="463.70" font-size="13.6" text-anchor="end" fill="#111" textLength="18.5" lengthAdjust="spacingAndGlyphs">0.0</text>
<rect x="58" y="441.35" width="7.4" height="1.1" fill="#606060"/>
<text stroke="#111" stroke-width="0.25" x="54.3" y="446.25" font-size="13.6" text-anchor="end" fill="#111" textLength="18.5" lengthAdjust="spacingAndGlyphs">0.8</text>
<rect x="58" y="423.90" width="7.4" height="1.1" fill="#606060"/>
<text stroke="#111" stroke-width="0.25" x="54.3" y="428.80" font-size="13.6" text-anchor="end" fill="#111" textLength="18.5" lengthAdjust="spacingAndGlyphs">1.6</text>
<rect x="58" y="406.45" width="7.4" height="1.1" fill="#606060"/>
<text stroke="#111" stroke-width="0.25" x="54.3" y="411.35" font-size="13.6" text-anchor="end" fill="#111" textLength="18.5" lengthAdjust="spacingAndGlyphs">2.4</text>
<rect x="64.9" y="483.0" width="1.1" height="62.5" fill="#606060"/>
<rect x="761.9" y="483.0" width="1.1" height="62.75" fill="#606060"/>
<rect x="58" y="544.80" width="7.4" height="1.1" fill="#606060"/>
<text stroke="#111" stroke-width="0.25" x="54.3" y="549.70" font-size="13.6" text-anchor="end" fill="#111" textLength="18.5" lengthAdjust="spacingAndGlyphs">0.0</text>
<rect x="58" y="527.35" width="7.4" height="1.1" fill="#606060"/>
<text stroke="#111" stroke-width="0.25" x="54.3" y="532.25" font-size="13.6" text-anchor="end" fill="#111" textLength="18.5" lengthAdjust="spacingAndGlyphs">0.8</text>
<rect x="58" y="509.90" width="7.4" height="1.1" fill="#606060"/>
<text stroke="#111" stroke-width="0.25" x="54.3" y="514.80" font-size="13.6" text-anchor="end" fill="#111" textLength="18.5" lengthAdjust="spacingAndGlyphs">1.6</text>
<rect x="58" y="492.45" width="7.4" height="1.1" fill="#606060"/>
<text stroke="#111" stroke-width="0.25" x="54.3" y="497.35" font-size="13.6" text-anchor="end" fill="#111" textLength="18.5" lengthAdjust="spacingAndGlyphs">2.4</text>
<rect x="64.9" y="569.0" width="1.1" height="62.5" fill="#606060"/>
<rect x="761.9" y="569.0" width="1.1" height="62.75" fill="#606060"/>
<rect x="58" y="630.80" width="7.4" height="1.1" fill="#606060"/>
<text stroke="#111" stroke-width="0.25" x="54.3" y="635.70" font-size="13.6" text-anchor="end" fill="#111" textLength="18.5" lengthAdjust="spacingAndGlyphs">0.0</text>
<rect x="58" y="613.35" width="7.4" height="1.1" fill="#606060"/>
<text stroke="#111" stroke-width="0.25" x="54.3" y="618.25" font-size="13.6" text-anchor="end" fill="#111" textLength="18.5" lengthAdjust="spacingAndGlyphs">0.8</text>
<rect x="58" y="595.90" width="7.4" height="1.1" fill="#606060"/>
<text stroke="#111" stroke-width="0.25" x="54.3" y="600.80" font-size="13.6" text-anchor="end" fill="#111" textLength="18.5" lengthAdjust="spacingAndGlyphs">1.6</text>
<rect x="58" y="578.45" width="7.4" height="1.1" fill="#606060"/>
<text stroke="#111" stroke-width="0.25" x="54.3" y="583.35" font-size="13.6" text-anchor="end" fill="#111" textLength="18.5" lengthAdjust="spacingAndGlyphs">2.4</text>
<rect x="64.9" y="655.0" width="1.1" height="62.5" fill="#606060"/>
<rect x="761.9" y="655.0" width="1.1" height="62.75" fill="#606060"/>
<rect x="58" y="716.80" width="7.4" height="1.1" fill="#606060"/>
<text stroke="#111" stroke-width="0.25" x="54.3" y="721.70" font-size="13.6" text-anchor="end" fill="#111" textLength="18.5" lengthAdjust="spacingAndGlyphs">0.0</text>
<rect x="58" y="699.35" width="7.4" height="1.1" fill="#606060"/>
<text stroke="#111" stroke-width="0.25" x="54.3" y="704.25" font-size="13.6" text-anchor="end" fill="#111" textLength="18.5" lengthAdjust="spacingAndGlyphs">0.8</text>
<rect x="58" y="681.90" width="7.4" height="1.1" fill="#606060"/>
<text stroke="#111" stroke-width="0.25" x="54.3" y="686.80" font-size="13.6" text-anchor="end" fill="#111" textLength="18.5" lengthAdjust="spacingAndGlyphs">1.6</text>
<rect x="58" y="664.45" width="7.4" height="1.1" fill="#606060"/>
<text stroke="#111" stroke-width="0.25" x="54.3" y="669.35" font-size="13.6" text-anchor="end" fill="#111" textLength="18.5" lengthAdjust="spacingAndGlyphs">2.4</text>
<rect x="58" y="716.40" width="705.0" height="1.1" fill="#606060"/>
<rect x="65.15" y="716.95" width="1.1" height="7" fill="#606060"/>
<text stroke="#111" stroke-width="0.25" transform="translate(72.75,790.2) rotate(-90)" font-size="12.7" fill="#111" textLength="63.4" lengthAdjust="spacingAndGlyphs">03/05/2020</text>
<rect x="84.75" y="716.95" width="1.1" height="7" fill="#606060"/>
<text stroke="#111" stroke-width="0.25" transform="translate(89.45,790.2) rotate(-90)" font-size="12.7" fill="#111" textLength="63.4" lengthAdjust="spacingAndGlyphs">03/26/2020</text>
<rect x="104.35" y="716.95" width="1.1" height="7" fill="#606060"/>
<text stroke="#111" stroke-width="0.25" transform="translate(109.05,790.2) rotate(-90)" font-size="12.7" fill="#111" textLength="63.4" lengthAdjust="spacingAndGlyphs">04/16/2020</text>
<rect x="123.95" y="716.95" width="1.1" height="7" fill="#606060"/>
<text stroke="#111" stroke-width="0.25" transform="translate(128.65,790.2) rotate(-90)" font-size="12.7" fill="#111" textLength="63.4" lengthAdjust="spacingAndGlyphs">05/07/2020</text>
<rect x="143.55" y="716.95" width="1.1" height="7" fill="#606060"/>
<text stroke="#111" stroke-width="0.25" transform="translate(148.25,790.2) rotate(-90)" font-size="12.7" fill="#111" textLength="63.4" lengthAdjust="spacingAndGlyphs">05/28/2020</text>
<rect x="164.85" y="716.95" width="1.1" height="7" fill="#606060"/>
<text stroke="#111" stroke-width="0.25" transform="translate(172.45,790.2) rotate(-90)" font-size="12.7" fill="#111" textLength="63.4" lengthAdjust="spacingAndGlyphs">03/05/2020</text>
<rect x="184.45" y="716.95" width="1.1" height="7" fill="#606060"/>
<text stroke="#111" stroke-width="0.25" transform="translate(189.15,790.2) rotate(-90)" font-size="12.7" fill="#111" textLength="63.4" lengthAdjust="spacingAndGlyphs">03/26/2020</text>
<rect x="204.05" y="716.95" width="1.1" height="7" fill="#606060"/>
<text stroke="#111" stroke-width="0.25" transform="translate(208.75,790.2) rotate(-90)" font-size="12.7" fill="#111" textLength="63.4" lengthAdjust="spacingAndGlyphs">04/16/2020</text>
<rect x="223.65" y="716.95" width="1.1" height="7" fill="#606060"/>
<text stroke="#111" stroke-width="0.25" transform="translate(228.35,790.2) rotate(-90)" font-size="12.7" fill="#111" textLength="63.4" lengthAdjust="spacingAndGlyphs">05/07/2020</text>
<rect x="243.25" y="716.95" width="1.1" height="7" fill="#606060"/>
<text stroke="#111" stroke-width="0.25" transform="translate(247.95,790.2) rotate(-90)" font-size="12.7" fill="#111" textLength="63.4" lengthAdjust="spacingAndGlyphs">05/28/2020</text>
<rect x="264.55" y="716.95" width="1.1" height="7" fill="#606060"/>
<text stroke="#111" stroke-width="0.25" transform="translate(272.15,790.2) rotate(-90)" font-size="12.7" fill="#111" textLength="63.4" lengthAdjust="spacingAndGlyphs">03/05/2020</text>
<rect x="284.15" y="716.95" width="1.1" height="7" fill="#606060"/>
<text stroke="#111" stroke-width="0.25" transform="translate(288.85,790.2) rotate(-90)" font-size="12.7" fill="#111" textLength="63.4" lengthAdjust="spacingAndGlyphs">03/26/2020</text>
<rect x="303.75" y="716.95" width="1.1" height="7" fill="#606060"/>
<text stroke="#111" stroke-width="0.25" transform="translate(308.45,790.2) rotate(-90)" font-size="12.7" fill="#111" textLength="63.4" lengthAdjust="spacingAndGlyphs">04/16/2020</text>
<rect x="323.35" y="716.95" width="1.1" height="7" fill="#606060"/>
<text stroke="#111" stroke-width="0.25" transform="translate(328.05,790.2) rotate(-90)" font-size="12.7" fill="#111" textLength="63.4" lengthAdjust="spacingAndGlyphs">05/07/2020</text>
<rect x="342.95" y="716.95" width="1.1" height="7" fill="#606060"/>
<text stroke="#111" stroke-width="0.25" transform="translate(347.65,790.2) rotate(-90)" font-size="12.7" fill="#111" textLength="63.4" lengthAdjust="spacingAndGlyphs">05/28/2020</text>
<rect x="364.25" y="716.95" width="1.1" height="7" fill="#606060"/>
<text stroke="#111" stroke-width="0.25" transform="translate(371.85,790.2) rotate(-90)" font-size="12.7" fill="#111" textLength="63.4" lengthAdjust="spacingAndGlyphs">03/05/2020</text>
<rect x="383.85" y="716.95" width="1.1" height="7" fill="#606060"/>
<text stroke="#111" stroke-width="0.25" transform="translate(388.55,790.2) rotate(-90)" font-size="12.7" fill="#111" textLength="63.4" lengthAdjust="spacingAndGlyphs">03/26/2020</text>
<rect x="403.45" y="716.95" width="1.1" height="7" fill="#606060"/>
<text stroke="#111" stroke-width="0.25" transform="translate(408.15,790.2) rotate(-90)" font-size="12.7" fill="#111" textLength="63.4" lengthAdjust="spacingAndGlyphs">04/16/2020</text>
<rect x="423.05" y="716.95" width="1.1" height="7" fill="#606060"/>
<text stroke="#111" stroke-width="0.25" transform="translate(427.75,790.2) rotate(-90)" font-size="12.7" fill="#111" textLength="63.4" lengthAdjust="spacingAndGlyphs">05/07/2020</text>
<rect x="442.65" y="716.95" width="1.1" height="7" fill="#606060"/>
<text stroke="#111" stroke-width="0.25" transform="translate(447.35,790.2) rotate(-90)" font-size="12.7" fill="#111" textLength="63.4" lengthAdjust="spacingAndGlyphs">05/28/2020</text>
<rect x="463.95" y="716.95" width="1.1" height="7" fill="#606060"/>
<text stroke="#111" stroke-width="0.25" transform="translate(471.55,790.2) rotate(-90)" font-size="12.7" fill="#111" textLength="63.4" lengthAdjust="spacingAndGlyphs">03/05/2020</text>
<rect x="483.55" y="716.95" width="1.1" height="7" fill="#606060"/>
<text stroke="#111" stroke-width="0.25" transform="translate(488.25,790.2) rotate(-90)" font-size="12.7" fill="#111" textLength="63.4" lengthAdjust="spacingAndGlyphs">03/26/2020</text>
<rect x="503.15" y="716.95" width="1.1" height="7" fill="#606060"/>
<text stroke="#111" stroke-width="0.25" transform="translate(507.85,790.2) rotate(-90)" font-size="12.7" fill="#111" textLength="63.4" lengthAdjust="spacingAndGlyphs">04/16/2020</text>
<rect x="522.75" y="716.95" width="1.1" height="7" fill="#606060"/>
<text stroke="#111" stroke-width="0.25" transform="translate(527.45,790.2) rotate(-90)" font-size="12.7" fill="#111" textLength="63.4" lengthAdjust="spacingAndGlyphs">05/07/2020</text>
<rect x="542.35" y="716.95" width="1.1" height="7" fill="#606060"/>
<text stroke="#111" stroke-width="0.25" transform="translate(547.05,790.2) rotate(-90)" font-size="12.7" fill="#111" textLength="63.4" lengthAdjust="spacingAndGlyphs">05/28/2020</text>
<rect x="563.65" y="716.95" width="1.1" height="7" fill="#606060"/>
<text stroke="#111" stroke-width="0.25" transform="translate(571.25,790.2) rotate(-90)" font-size="12.7" fill="#111" textLength="63.4" lengthAdjust="spacingAndGlyphs">03/05/2020</text>
<rect x="583.25" y="716.95" width="1.1" height="7" fill="#606060"/>
<text stroke="#111" stroke-width="0.25" transform="translate(587.95,790.2) rotate(-90)" font-size="12.7" fill="#111" textLength="63.4" lengthAdjust="spacingAndGlyphs">03/26/2020</text>
<rect x="602.85" y="716.95" width="1.1" height="7" fill="#606060"/>
<text stroke="#111" stroke-width="0.25" transform="translate(607.55,790.2) rotate(-90)" font-size="12.7" fill="#111" textLength="63.4" lengthAdjust="spacingAndGlyphs">04/16/2020</text>
<rect x="622.45" y="716.95" width="1.1" height="7" fill="#606060"/>
<text stroke="#111" stroke-width="0.25" transform="translate(627.15,790.2) rotate(-90)" font-size="12.7" fill="#111" textLength="63.4" lengthAdjust="spacingAndGlyphs">05/07/2020</text>
<rect x="642.05" y="716.95" width="1.1" height="7" fill="#606060"/>
<text stroke="#111" stroke-width="0.25" transform="translate(646.75,790.2) rotate(-90)" font-size="12.7" fill="#111" textLength="63.4" lengthAdjust="spacingAndGlyphs">05/28/2020</text>
<rect x="663.35" y="716.95" width="1.1" height="7" fill="#606060"/>
<text stroke="#111" stroke-width="0.25" transform="translate(670.95,790.2) rotate(-90)" font-size="12.7" fill="#111" textLength="63.4" lengthAdjust="spacingAndGlyphs">03/05/2020</text>
<rect x="682.95" y="716.95" width="1.1" height="7" fill="#606060"/>
<text stroke="#111" stroke-width="0.25" transform="translate(687.65,790.2) rotate(-90)" font-size="12.7" fill="#111" textLength="63.4" lengthAdjust="spacingAndGlyphs">03/26/2020</text>
<rect x="702.55" y="716.95" width="1.1" height="7" fill="#606060"/>
<text stroke="#111" stroke-width="0.25" transform="translate(707.25,790.2) rotate(-90)" font-size="12.7" fill="#111" textLength="63.4" lengthAdjust="spacingAndGlyphs">04/16/2020</text>
<rect x="722.15" y="716.95" width="1.1" height="7" fill="#606060"/>
<text stroke="#111" stroke-width="0.25" transform="translate(726.85,790.2) rotate(-90)" font-size="12.7" fill="#111" textLength="63.4" lengthAdjust="spacingAndGlyphs">05/07/2020</text>
<rect x="741.75" y="716.95" width="1.1" height="7" fill="#606060"/>
<text stroke="#111" stroke-width="0.25" transform="translate(746.45,790.2) rotate(-90)" font-size="12.7" fill="#111" textLength="63.4" lengthAdjust="spacingAndGlyphs">05/28/2020</text>
<text stroke="#111" stroke-width="0.25" x="114.5" y="47.5" font-size="16" text-anchor="middle" fill="#111">RI</text>
<text stroke="#111" stroke-width="0.25" x="214.2" y="47.5" font-size="16" text-anchor="middle" fill="#111">NJ</text>
<text stroke="#111" stroke-width="0.25" x="313.9" y="47.5" font-size="16" text-anchor="middle" fill="#111">DC</text>
<text stroke="#111" stroke-width="0.25" x="413.7" y="47.5" font-size="16" text-anchor="middle" fill="#111">CT</text>
<text stroke="#111" stroke-width="0.25" x="513.4" y="47.5" font-size="16" text-anchor="middle" fill="#111">NY</text>
<text stroke="#111" stroke-width="0.25" x="613.1" y="47.5" font-size="16" text-anchor="middle" fill="#111">MA</text>
<text stroke="#111" stroke-width="0.25" x="712.8" y="47.5" font-size="16" text-anchor="middle" fill="#111">DE</text>
<text stroke="#111" stroke-width="0.25" x="114.5" y="133.5" font-size="16" text-anchor="middle" fill="#111">IL</text>
<text stroke="#111" stroke-width="0.25" x="214.2" y="133.5" font-size="16" text-anchor="middle" fill="#111">MD</text>
<text stroke="#111" stroke-width="0.25" x="313.9" y="133.5" font-size="16" text-anchor="middle" fill="#111">LA</text>
<text stroke="#111" stroke-width="0.25" x="413.7" y="133.5" font-size="16" text-anchor="middle" fill="#111">NE</text>
<text stroke="#111" stroke-width="0.25" x="513.4" y="133.5" font-size="16" text-anchor="middle" fill="#111">SD</text>
<text stroke="#111" stroke-width="0.25" x="613.1" y="133.5" font-size="16" text-anchor="middle" fill="#111">MS</text>
<text stroke="#111" stroke-width="0.25" x="712.8" y="133.5" font-size="16" text-anchor="middle" fill="#111">IA</text>
<text stroke="#111" stroke-width="0.25" x="114.5" y="219.5" font-size="16" text-anchor="middle" fill="#111">IN</text>
<text stroke="#111" stroke-width="0.25" x="214.2" y="219.5" font-size="16" text-anchor="middle" fill="#111">MI</text>
<text stroke="#111" stroke-width="0.25" x="313.9" y="219.5" font-size="16" text-anchor="middle" fill="#111">VA</text>
<text stroke="#111" stroke-width="0.25" x="413.7" y="219.5" font-size="16" text-anchor="middle" fill="#111">PA</text>
<text stroke="#111" stroke-width="0.25" x="513.4" y="219.5" font-size="16" text-anchor="middle" fill="#111">NM</text>
<text stroke="#111" stroke-width="0.25" x="613.1" y="219.5" font-size="16" text-anchor="middle" fill="#111">GA</text>
<text stroke="#111" stroke-width="0.25" x="712.8" y="219.5" font-size="16" text-anchor="middle" fill="#111">AL</text>
<text stroke="#111" stroke-width="0.25" x="114.5" y="305.5" font-size="16" text-anchor="middle" fill="#111">KS</text>
<text stroke="#111" stroke-width="0.25" x="214.2" y="305.5" font-size="16" text-anchor="middle" fill="#111">NH</text>
<text stroke="#111" stroke-width="0.25" x="313.9" y="305.5" font-size="16" text-anchor="middle" fill="#111">UT</text>
<text stroke="#111" stroke-width="0.25" x="413.7" y="305.5" font-size="16" text-anchor="middle" fill="#111">ND</text>
<text stroke="#111" stroke-width="0.25" x="513.4" y="305.5" font-size="16" text-anchor="middle" fill="#111">TN</text>
<text stroke="#111" stroke-width="0.25" x="613.1" y="305.5" font-size="16" text-anchor="middle" fill="#111">SC</text>
<text stroke="#111" stroke-width="0.25" x="712.8" y="305.5" font-size="16" text-anchor="middle" fill="#111">CO</text>
<text stroke="#111" stroke-width="0.25" x="114.5" y="391.5" font-size="16" text-anchor="middle" fill="#111">AZ</text>
<text stroke="#111" stroke-width="0.25" x="214.2" y="391.5" font-size="16" text-anchor="middle" fill="#111">MN</text>
<text stroke="#111" stroke-width="0.25" x="313.9" y="391.5" font-size="16" text-anchor="middle" fill="#111">WI</text>
<text stroke="#111" stroke-width="0.25" x="413.7" y="391.5" font-size="16" text-anchor="middle" fill="#111">NV</text>
<text stroke="#111" stroke-width="0.25" x="513.4" y="391.5" font-size="16" text-anchor="middle" fill="#111">NC</text>
<text stroke="#111" stroke-width="0.25" x="613.1" y="391.5" font-size="16" text-anchor="middle" fill="#111">OH</text>
<text stroke="#111" stroke-width="0.25" x="712.8" y="391.5" font-size="16" text-anchor="middle" fill="#111">AR</text>
<text stroke="#111" stroke-width="0.25" x="114.5" y="477.5" font-size="16" text-anchor="middle" fill="#111">FL</text>
<text stroke="#111" stroke-width="0.25" x="214.2" y="477.5" font-size="16" text-anchor="middle" fill="#111">MO</text>
<text stroke="#111" stroke-width="0.25" x="313.9" y="477.5" font-size="16" text-anchor="middle" fill="#111">KY</text>
<text stroke="#111" stroke-width="0.25" x="413.7" y="477.5" font-size="16" text-anchor="middle" fill="#111">WA</text>
<text stroke="#111" stroke-width="0.25" x="513.4" y="477.5" font-size="16" text-anchor="middle" fill="#111">TX</text>
<text stroke="#111" stroke-width="0.25" x="613.1" y="477.5" font-size="16" text-anchor="middle" fill="#111">CA</text>
<text stroke="#111" stroke-width="0.25" x="712.8" y="477.5" font-size="16" text-anchor="middle" fill="#111">OK</text>
<text stroke="#111" stroke-width="0.25" x="114.5" y="563.5" font-size="16" text-anchor="middle" fill="#111">ME</text>
<text stroke="#111" stroke-width="0.25" x="214.2" y="563.5" font-size="16" text-anchor="middle" fill="#111">ID</text>
<text stroke="#111" stroke-width="0.25" x="313.9" y="563.5" font-size="16" text-anchor="middle" fill="#111">WY</text>
<text stroke="#111" stroke-width="0.25" x="413.7" y="563.5" font-size="16" text-anchor="middle" fill="#111">PR</text>
<text stroke="#111" stroke-width="0.25" x="513.4" y="563.5" font-size="16" text-anchor="middle" fill="#111">OR</text>
<text stroke="#111" stroke-width="0.25" x="613.1" y="563.5" font-size="16" text-anchor="middle" fill="#111">WV</text>
<text stroke="#111" stroke-width="0.25" x="712.8" y="563.5" font-size="16" text-anchor="middle" fill="#111">VT</text>
<text stroke="#111" stroke-width="0.25" x="114.5" y="649.5" font-size="16" text-anchor="middle" fill="#111">GU</text>
<text stroke="#111" stroke-width="0.25" x="214.2" y="649.5" font-size="16" text-anchor="middle" fill="#111">AK</text>
<text stroke="#111" stroke-width="0.25" x="313.9" y="649.5" font-size="16" text-anchor="middle" fill="#111">MT</text>
<text stroke="#111" stroke-width="0.25" x="413.7" y="649.5" font-size="16" text-anchor="middle" fill="#111">HI</text>
<text stroke="#111" stroke-width="0.25" transform="translate(18.8,501) rotate(-90)" font-size="17" fill="#111" textLength="233.3" lengthAdjust="spacingAndGlyphs">Log10[Daily Cases per Million]</text>
<text stroke="#111" stroke-width="0.25" x="769" y="24.8" font-size="16" fill="#111" textLength="225.5" lengthAdjust="spacingAndGlyphs">Statewide Stay-at-Home Order</text>
<rect x="769.5" y="37.5" width="24.6" height="19.3" fill="#e68793"/>
<text stroke="#111" stroke-width="0.25" x="798.2" y="53.3" font-size="16" fill="#111">No</text>
<rect x="769.5" y="64.9" width="24.6" height="19.7" fill="#9895b1"/>
<text stroke="#111" stroke-width="0.25" x="798.2" y="80.8" font-size="16" fill="#111" textLength="25.3" lengthAdjust="spacingAndGlyphs">Yes</text>
<rect x="769.5" y="102" width="24.6" height="1.2" fill="#111"/>
<text stroke="#111" stroke-width="0.25" x="798.2" y="108.9" font-size="16" fill="#111" textLength="145.4" lengthAdjust="spacingAndGlyphs">Cubic Spline (Trend)</text>
<rect x="769.5" y="120" width="24.6" height="19.4" fill="#d9d9d9"/>
<text stroke="#111" stroke-width="0.25" x="798.2" y="135.8" font-size="16" fill="#111" textLength="189.6" lengthAdjust="spacingAndGlyphs">Spline Confidence Interval</text>
</svg>
</body></html>
